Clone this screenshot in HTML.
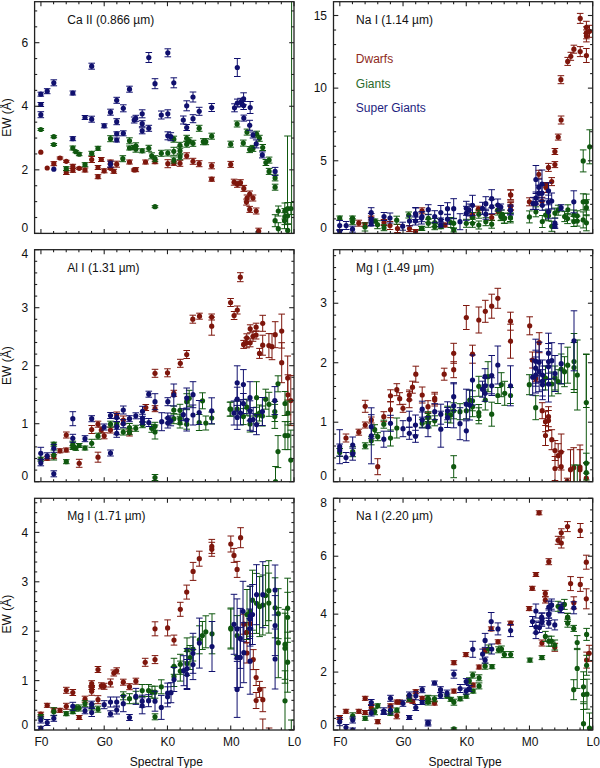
<!DOCTYPE html>
<html><head><meta charset="utf-8"><style>html,body{margin:0;padding:0;background:#fff;width:600px;height:768px;overflow:hidden}svg{display:block}text{font-family:"Liberation Sans",sans-serif}</style></head>
<body><svg width="600" height="768" viewBox="0 0 600 768" font-family="Liberation Sans, sans-serif"><clipPath id="cp0"><rect x="34.60" y="1.70" width="259.40" height="231.70"/></clipPath>
<g clip-path="url(#cp0)">
<circle cx="40.8" cy="152.2" r="2.6" fill="#7e160c"/>
<circle cx="47.2" cy="168.0" r="2.6" fill="#7e160c"/>
<path d="M53.8 161.7V165.7M50.5 161.7h6.6M50.5 165.7h6.6" stroke="#7e160c" stroke-width="1.0" fill="none"/>
<circle cx="53.8" cy="163.7" r="2.6" fill="#7e160c"/>
<path d="M60.0 157.0V159.0M56.7 157.0h6.6M56.7 159.0h6.6" stroke="#7e160c" stroke-width="1.0" fill="none"/>
<circle cx="60.0" cy="158.0" r="2.6" fill="#7e160c"/>
<path d="M66.3 160.3V162.3M63.0 160.3h6.6M63.0 162.3h6.6" stroke="#7e160c" stroke-width="1.0" fill="none"/>
<circle cx="66.3" cy="161.3" r="2.6" fill="#7e160c"/>
<path d="M66.3 170.5V174.5M63.0 170.5h6.6M63.0 174.5h6.6" stroke="#7e160c" stroke-width="1.0" fill="none"/>
<circle cx="66.3" cy="172.5" r="2.6" fill="#7e160c"/>
<path d="M72.8 164.3V168.3M69.5 164.3h6.6M69.5 168.3h6.6" stroke="#7e160c" stroke-width="1.0" fill="none"/>
<circle cx="72.8" cy="166.3" r="2.6" fill="#7e160c"/>
<path d="M72.8 168.3V172.3M69.5 168.3h6.6M69.5 172.3h6.6" stroke="#7e160c" stroke-width="1.0" fill="none"/>
<circle cx="72.8" cy="170.3" r="2.6" fill="#7e160c"/>
<path d="M79.2 167.3V169.3M75.9 167.3h6.6M75.9 169.3h6.6" stroke="#7e160c" stroke-width="1.0" fill="none"/>
<circle cx="79.2" cy="168.3" r="2.6" fill="#7e160c"/>
<path d="M85.0 168.0V172.0M81.7 168.0h6.6M81.7 172.0h6.6" stroke="#7e160c" stroke-width="1.0" fill="none"/>
<circle cx="85.0" cy="170.0" r="2.6" fill="#7e160c"/>
<path d="M91.7 156.5V162.5M88.4 156.5h6.6M88.4 162.5h6.6" stroke="#7e160c" stroke-width="1.0" fill="none"/>
<circle cx="91.7" cy="159.5" r="2.6" fill="#7e160c"/>
<path d="M98.0 165.5V169.5M94.7 165.5h6.6M94.7 169.5h6.6" stroke="#7e160c" stroke-width="1.0" fill="none"/>
<circle cx="98.0" cy="167.5" r="2.6" fill="#7e160c"/>
<path d="M98.0 174.7V178.7M94.7 174.7h6.6M94.7 178.7h6.6" stroke="#7e160c" stroke-width="1.0" fill="none"/>
<circle cx="98.0" cy="176.7" r="2.6" fill="#7e160c"/>
<path d="M104.2 168.8V172.8M100.9 168.8h6.6M100.9 172.8h6.6" stroke="#7e160c" stroke-width="1.0" fill="none"/>
<circle cx="104.2" cy="170.8" r="2.6" fill="#7e160c"/>
<path d="M101.3 157.5V161.5M98.0 157.5h6.6M98.0 161.5h6.6" stroke="#7e160c" stroke-width="1.0" fill="none"/>
<circle cx="101.3" cy="159.5" r="2.6" fill="#7e160c"/>
<path d="M110.5 160.0V164.0M107.2 160.0h6.6M107.2 164.0h6.6" stroke="#7e160c" stroke-width="1.0" fill="none"/>
<circle cx="110.5" cy="162.0" r="2.6" fill="#7e160c"/>
<path d="M110.5 167.3V169.3M107.2 167.3h6.6M107.2 169.3h6.6" stroke="#7e160c" stroke-width="1.0" fill="none"/>
<circle cx="110.5" cy="168.3" r="2.6" fill="#7e160c"/>
<path d="M116.7 161.2V167.2M113.4 161.2h6.6M113.4 167.2h6.6" stroke="#7e160c" stroke-width="1.0" fill="none"/>
<circle cx="116.7" cy="164.2" r="2.6" fill="#7e160c"/>
<path d="M113.8 169.3V173.3M110.5 169.3h6.6M110.5 173.3h6.6" stroke="#7e160c" stroke-width="1.0" fill="none"/>
<circle cx="113.8" cy="171.3" r="2.6" fill="#7e160c"/>
<path d="M129.5 160.0V164.0M126.2 160.0h6.6M126.2 164.0h6.6" stroke="#7e160c" stroke-width="1.0" fill="none"/>
<circle cx="129.5" cy="162.0" r="2.6" fill="#7e160c"/>
<path d="M134.2 169.0V171.0M130.9 169.0h6.6M130.9 171.0h6.6" stroke="#7e160c" stroke-width="1.0" fill="none"/>
<circle cx="134.2" cy="170.0" r="2.6" fill="#7e160c"/>
<path d="M135.8 167.7V171.7M132.5 167.7h6.6M132.5 171.7h6.6" stroke="#7e160c" stroke-width="1.0" fill="none"/>
<circle cx="135.8" cy="169.7" r="2.6" fill="#7e160c"/>
<path d="M145.5 160.0V164.0M142.2 160.0h6.6M142.2 164.0h6.6" stroke="#7e160c" stroke-width="1.0" fill="none"/>
<circle cx="145.5" cy="162.0" r="2.6" fill="#7e160c"/>
<path d="M155.0 159.7V163.7M151.7 159.7h6.6M151.7 163.7h6.6" stroke="#7e160c" stroke-width="1.0" fill="none"/>
<circle cx="155.0" cy="161.7" r="2.6" fill="#7e160c"/>
<path d="M167.8 159.7V167.7M164.5 159.7h6.6M164.5 167.7h6.6" stroke="#7e160c" stroke-width="1.0" fill="none"/>
<circle cx="167.8" cy="163.7" r="2.6" fill="#7e160c"/>
<path d="M173.8 161.3V165.3M170.5 161.3h6.6M170.5 165.3h6.6" stroke="#7e160c" stroke-width="1.0" fill="none"/>
<circle cx="173.8" cy="163.3" r="2.6" fill="#7e160c"/>
<path d="M180.0 160.3V166.3M176.7 160.3h6.6M176.7 166.3h6.6" stroke="#7e160c" stroke-width="1.0" fill="none"/>
<circle cx="180.0" cy="163.3" r="2.6" fill="#7e160c"/>
<path d="M186.7 152.8V158.8M183.4 152.8h6.6M183.4 158.8h6.6" stroke="#7e160c" stroke-width="1.0" fill="none"/>
<circle cx="186.7" cy="155.8" r="2.6" fill="#7e160c"/>
<path d="M193.0 158.3V164.3M189.7 158.3h6.6M189.7 164.3h6.6" stroke="#7e160c" stroke-width="1.0" fill="none"/>
<circle cx="193.0" cy="161.3" r="2.6" fill="#7e160c"/>
<path d="M199.2 160.7V166.7M195.9 160.7h6.6M195.9 166.7h6.6" stroke="#7e160c" stroke-width="1.0" fill="none"/>
<circle cx="199.2" cy="163.7" r="2.6" fill="#7e160c"/>
<path d="M211.7 162.8V168.8M208.4 162.8h6.6M208.4 168.8h6.6" stroke="#7e160c" stroke-width="1.0" fill="none"/>
<circle cx="211.7" cy="165.8" r="2.6" fill="#7e160c"/>
<path d="M211.7 177.2V181.2M208.4 177.2h6.6M208.4 181.2h6.6" stroke="#7e160c" stroke-width="1.0" fill="none"/>
<circle cx="211.7" cy="179.2" r="2.6" fill="#7e160c"/>
<path d="M230.7 161.4V167.4M227.4 161.4h6.6M227.4 167.4h6.6" stroke="#7e160c" stroke-width="1.0" fill="none"/>
<circle cx="230.7" cy="164.4" r="2.6" fill="#7e160c"/>
<path d="M234.1 179.2V185.2M230.8 179.2h6.6M230.8 185.2h6.6" stroke="#7e160c" stroke-width="1.0" fill="none"/>
<circle cx="234.1" cy="182.2" r="2.6" fill="#7e160c"/>
<path d="M237.3 181.3V187.3M234.0 181.3h6.6M234.0 187.3h6.6" stroke="#7e160c" stroke-width="1.0" fill="none"/>
<circle cx="237.3" cy="184.3" r="2.6" fill="#7e160c"/>
<path d="M240.5 179.7V185.7M237.2 179.7h6.6M237.2 185.7h6.6" stroke="#7e160c" stroke-width="1.0" fill="none"/>
<circle cx="240.5" cy="182.7" r="2.6" fill="#7e160c"/>
<path d="M243.8 185.4V191.4M240.5 185.4h6.6M240.5 191.4h6.6" stroke="#7e160c" stroke-width="1.0" fill="none"/>
<circle cx="243.8" cy="188.4" r="2.6" fill="#7e160c"/>
<path d="M249.7 191.0V197.0M246.4 191.0h6.6M246.4 197.0h6.6" stroke="#7e160c" stroke-width="1.0" fill="none"/>
<circle cx="249.7" cy="194.0" r="2.6" fill="#7e160c"/>
<path d="M247.0 195.0V201.0M243.7 195.0h6.6M243.7 201.0h6.6" stroke="#7e160c" stroke-width="1.0" fill="none"/>
<circle cx="247.0" cy="198.0" r="2.6" fill="#7e160c"/>
<path d="M253.0 195.0V201.0M249.7 195.0h6.6M249.7 201.0h6.6" stroke="#7e160c" stroke-width="1.0" fill="none"/>
<circle cx="253.0" cy="198.0" r="2.6" fill="#7e160c"/>
<path d="M246.5 199.1V205.1M243.2 199.1h6.6M243.2 205.1h6.6" stroke="#7e160c" stroke-width="1.0" fill="none"/>
<circle cx="246.5" cy="202.1" r="2.6" fill="#7e160c"/>
<path d="M249.7 206.4V212.4M246.4 206.4h6.6M246.4 212.4h6.6" stroke="#7e160c" stroke-width="1.0" fill="none"/>
<circle cx="249.7" cy="209.4" r="2.6" fill="#7e160c"/>
<path d="M256.2 208.0V214.0M252.9 208.0h6.6M252.9 214.0h6.6" stroke="#7e160c" stroke-width="1.0" fill="none"/>
<circle cx="256.2" cy="211.0" r="2.6" fill="#7e160c"/>
<path d="M258.6 228.2V234.2M255.3 228.2h6.6M255.3 234.2h6.6" stroke="#7e160c" stroke-width="1.0" fill="none"/>
<circle cx="258.6" cy="231.2" r="2.6" fill="#7e160c"/>
<path d="M40.8 128.5V130.5M37.5 128.5h6.6M37.5 130.5h6.6" stroke="#0f580f" stroke-width="1.0" fill="none"/>
<circle cx="40.8" cy="129.5" r="2.6" fill="#0f580f"/>
<path d="M53.8 135.7V137.7M50.5 135.7h6.6M50.5 137.7h6.6" stroke="#0f580f" stroke-width="1.0" fill="none"/>
<circle cx="53.8" cy="136.7" r="2.6" fill="#0f580f"/>
<path d="M53.8 143.5V145.5M50.5 143.5h6.6M50.5 145.5h6.6" stroke="#0f580f" stroke-width="1.0" fill="none"/>
<circle cx="53.8" cy="144.5" r="2.6" fill="#0f580f"/>
<path d="M72.8 146.0V150.0M69.5 146.0h6.6M69.5 150.0h6.6" stroke="#0f580f" stroke-width="1.0" fill="none"/>
<circle cx="72.8" cy="148.0" r="2.6" fill="#0f580f"/>
<path d="M75.8 150.7V152.7M72.5 150.7h6.6M72.5 152.7h6.6" stroke="#0f580f" stroke-width="1.0" fill="none"/>
<circle cx="75.8" cy="151.7" r="2.6" fill="#0f580f"/>
<path d="M79.2 152.7V155.7M75.9 152.7h6.6M75.9 155.7h6.6" stroke="#0f580f" stroke-width="1.0" fill="none"/>
<circle cx="79.2" cy="154.2" r="2.6" fill="#0f580f"/>
<path d="M91.7 151.3V155.3M88.4 151.3h6.6M88.4 155.3h6.6" stroke="#0f580f" stroke-width="1.0" fill="none"/>
<circle cx="91.7" cy="153.3" r="2.6" fill="#0f580f"/>
<path d="M98.0 146.3V150.3M94.7 146.3h6.6M94.7 150.3h6.6" stroke="#0f580f" stroke-width="1.0" fill="none"/>
<circle cx="98.0" cy="148.3" r="2.6" fill="#0f580f"/>
<path d="M110.5 135.7V141.7M107.2 135.7h6.6M107.2 141.7h6.6" stroke="#0f580f" stroke-width="1.0" fill="none"/>
<circle cx="110.5" cy="138.7" r="2.6" fill="#0f580f"/>
<path d="M129.5 137.8V143.8M126.2 137.8h6.6M126.2 143.8h6.6" stroke="#0f580f" stroke-width="1.0" fill="none"/>
<circle cx="129.5" cy="140.8" r="2.6" fill="#0f580f"/>
<path d="M129.5 146.0V150.0M126.2 146.0h6.6M126.2 150.0h6.6" stroke="#0f580f" stroke-width="1.0" fill="none"/>
<circle cx="129.5" cy="148.0" r="2.6" fill="#0f580f"/>
<path d="M134.2 145.5V149.5M130.9 145.5h6.6M130.9 149.5h6.6" stroke="#0f580f" stroke-width="1.0" fill="none"/>
<circle cx="134.2" cy="147.5" r="2.6" fill="#0f580f"/>
<path d="M122.8 155.7V161.7M119.5 155.7h6.6M119.5 161.7h6.6" stroke="#0f580f" stroke-width="1.0" fill="none"/>
<circle cx="122.8" cy="158.7" r="2.6" fill="#0f580f"/>
<path d="M85.0 162.7V166.7M81.7 162.7h6.6M81.7 166.7h6.6" stroke="#0f580f" stroke-width="1.0" fill="none"/>
<circle cx="85.0" cy="164.7" r="2.6" fill="#0f580f"/>
<path d="M66.3 166.7V170.7M63.0 166.7h6.6M63.0 170.7h6.6" stroke="#0f580f" stroke-width="1.0" fill="none"/>
<circle cx="66.3" cy="168.7" r="2.6" fill="#0f580f"/>
<path d="M135.8 142.8V148.8M132.5 142.8h6.6M132.5 148.8h6.6" stroke="#0f580f" stroke-width="1.0" fill="none"/>
<circle cx="135.8" cy="145.8" r="2.6" fill="#0f580f"/>
<path d="M135.8 146.2V152.2M132.5 146.2h6.6M132.5 152.2h6.6" stroke="#0f580f" stroke-width="1.0" fill="none"/>
<circle cx="135.8" cy="149.2" r="2.6" fill="#0f580f"/>
<path d="M142.2 148.8V152.8M138.9 148.8h6.6M138.9 152.8h6.6" stroke="#0f580f" stroke-width="1.0" fill="none"/>
<circle cx="142.2" cy="150.8" r="2.6" fill="#0f580f"/>
<path d="M148.8 145.3V151.3M145.5 145.3h6.6M145.5 151.3h6.6" stroke="#0f580f" stroke-width="1.0" fill="none"/>
<circle cx="148.8" cy="148.3" r="2.6" fill="#0f580f"/>
<path d="M151.7 152.8V158.8M148.4 152.8h6.6M148.4 158.8h6.6" stroke="#0f580f" stroke-width="1.0" fill="none"/>
<circle cx="151.7" cy="155.8" r="2.6" fill="#0f580f"/>
<path d="M155.0 155.7V161.7M151.7 155.7h6.6M151.7 161.7h6.6" stroke="#0f580f" stroke-width="1.0" fill="none"/>
<circle cx="155.0" cy="158.7" r="2.6" fill="#0f580f"/>
<path d="M161.3 150.3V156.3M158.0 150.3h6.6M158.0 156.3h6.6" stroke="#0f580f" stroke-width="1.0" fill="none"/>
<circle cx="161.3" cy="153.3" r="2.6" fill="#0f580f"/>
<path d="M167.8 150.0V156.0M164.5 150.0h6.6M164.5 156.0h6.6" stroke="#0f580f" stroke-width="1.0" fill="none"/>
<circle cx="167.8" cy="153.0" r="2.6" fill="#0f580f"/>
<path d="M173.8 147.3V155.3M170.5 147.3h6.6M170.5 155.3h6.6" stroke="#0f580f" stroke-width="1.0" fill="none"/>
<circle cx="173.8" cy="151.3" r="2.6" fill="#0f580f"/>
<path d="M173.8 136.2V142.2M170.5 136.2h6.6M170.5 142.2h6.6" stroke="#0f580f" stroke-width="1.0" fill="none"/>
<circle cx="173.8" cy="139.2" r="2.6" fill="#0f580f"/>
<path d="M173.8 157.0V163.0M170.5 157.0h6.6M170.5 163.0h6.6" stroke="#0f580f" stroke-width="1.0" fill="none"/>
<circle cx="173.8" cy="160.0" r="2.6" fill="#0f580f"/>
<path d="M180.0 142.3V148.3M176.7 142.3h6.6M176.7 148.3h6.6" stroke="#0f580f" stroke-width="1.0" fill="none"/>
<circle cx="180.0" cy="145.3" r="2.6" fill="#0f580f"/>
<path d="M180.0 146.8V154.8M176.7 146.8h6.6M176.7 154.8h6.6" stroke="#0f580f" stroke-width="1.0" fill="none"/>
<circle cx="180.0" cy="150.8" r="2.6" fill="#0f580f"/>
<path d="M180.0 153.7V159.7M176.7 153.7h6.6M176.7 159.7h6.6" stroke="#0f580f" stroke-width="1.0" fill="none"/>
<circle cx="180.0" cy="156.7" r="2.6" fill="#0f580f"/>
<path d="M186.7 135.3V141.3M183.4 135.3h6.6M183.4 141.3h6.6" stroke="#0f580f" stroke-width="1.0" fill="none"/>
<circle cx="186.7" cy="138.3" r="2.6" fill="#0f580f"/>
<path d="M186.7 141.2V147.2M183.4 141.2h6.6M183.4 147.2h6.6" stroke="#0f580f" stroke-width="1.0" fill="none"/>
<circle cx="186.7" cy="144.2" r="2.6" fill="#0f580f"/>
<path d="M189.2 137.8V143.8M185.9 137.8h6.6M185.9 143.8h6.6" stroke="#0f580f" stroke-width="1.0" fill="none"/>
<circle cx="189.2" cy="140.8" r="2.6" fill="#0f580f"/>
<path d="M193.0 140.3V146.3M189.7 140.3h6.6M189.7 146.3h6.6" stroke="#0f580f" stroke-width="1.0" fill="none"/>
<circle cx="193.0" cy="143.3" r="2.6" fill="#0f580f"/>
<path d="M199.2 125.3V131.3M195.9 125.3h6.6M195.9 131.3h6.6" stroke="#0f580f" stroke-width="1.0" fill="none"/>
<circle cx="199.2" cy="128.3" r="2.6" fill="#0f580f"/>
<path d="M203.3 138.7V144.7M200.0 138.7h6.6M200.0 144.7h6.6" stroke="#0f580f" stroke-width="1.0" fill="none"/>
<circle cx="203.3" cy="141.7" r="2.6" fill="#0f580f"/>
<path d="M205.8 138.7V144.7M202.5 138.7h6.6M202.5 144.7h6.6" stroke="#0f580f" stroke-width="1.0" fill="none"/>
<circle cx="205.8" cy="141.7" r="2.6" fill="#0f580f"/>
<path d="M211.7 133.2V139.2M208.4 133.2h6.6M208.4 139.2h6.6" stroke="#0f580f" stroke-width="1.0" fill="none"/>
<circle cx="211.7" cy="136.2" r="2.6" fill="#0f580f"/>
<path d="M155.0 205.7V207.7M151.7 205.7h6.6M151.7 207.7h6.6" stroke="#0f580f" stroke-width="1.0" fill="none"/>
<circle cx="155.0" cy="206.7" r="2.6" fill="#0f580f"/>
<path d="M237.1 121.0V127.0M233.8 121.0h6.6M233.8 127.0h6.6" stroke="#0f580f" stroke-width="1.0" fill="none"/>
<circle cx="237.1" cy="124.0" r="2.6" fill="#0f580f"/>
<path d="M247.0 129.1V135.1M243.7 129.1h6.6M243.7 135.1h6.6" stroke="#0f580f" stroke-width="1.0" fill="none"/>
<circle cx="247.0" cy="132.1" r="2.6" fill="#0f580f"/>
<path d="M256.7 131.2V137.2M253.4 131.2h6.6M253.4 137.2h6.6" stroke="#0f580f" stroke-width="1.0" fill="none"/>
<circle cx="256.7" cy="134.2" r="2.6" fill="#0f580f"/>
<path d="M259.4 135.3V141.3M256.1 135.3h6.6M256.1 141.3h6.6" stroke="#0f580f" stroke-width="1.0" fill="none"/>
<circle cx="259.4" cy="138.3" r="2.6" fill="#0f580f"/>
<path d="M230.7 141.2V147.2M227.4 141.2h6.6M227.4 147.2h6.6" stroke="#0f580f" stroke-width="1.0" fill="none"/>
<circle cx="230.7" cy="144.2" r="2.6" fill="#0f580f"/>
<path d="M243.3 140.1V146.1M240.0 140.1h6.6M240.0 146.1h6.6" stroke="#0f580f" stroke-width="1.0" fill="none"/>
<circle cx="243.3" cy="143.1" r="2.6" fill="#0f580f"/>
<path d="M249.7 146.6V152.6M246.4 146.6h6.6M246.4 152.6h6.6" stroke="#0f580f" stroke-width="1.0" fill="none"/>
<circle cx="249.7" cy="149.6" r="2.6" fill="#0f580f"/>
<path d="M253.0 145.4V151.4M249.7 145.4h6.6M249.7 151.4h6.6" stroke="#0f580f" stroke-width="1.0" fill="none"/>
<circle cx="253.0" cy="148.4" r="2.6" fill="#0f580f"/>
<path d="M262.7 144.5V150.5M259.4 144.5h6.6M259.4 150.5h6.6" stroke="#0f580f" stroke-width="1.0" fill="none"/>
<circle cx="262.7" cy="147.5" r="2.6" fill="#0f580f"/>
<path d="M265.9 159.5V165.5M262.6 159.5h6.6M262.6 165.5h6.6" stroke="#0f580f" stroke-width="1.0" fill="none"/>
<circle cx="265.9" cy="162.5" r="2.6" fill="#0f580f"/>
<path d="M269.1 157.1V163.1M265.8 157.1h6.6M265.8 163.1h6.6" stroke="#0f580f" stroke-width="1.0" fill="none"/>
<circle cx="269.1" cy="160.1" r="2.6" fill="#0f580f"/>
<path d="M269.1 168.4V174.4M265.8 168.4h6.6M265.8 174.4h6.6" stroke="#0f580f" stroke-width="1.0" fill="none"/>
<circle cx="269.1" cy="171.4" r="2.6" fill="#0f580f"/>
<path d="M275.1 174.9V180.9M271.8 174.9h6.6M271.8 180.9h6.6" stroke="#0f580f" stroke-width="1.0" fill="none"/>
<circle cx="275.1" cy="177.9" r="2.6" fill="#0f580f"/>
<path d="M275.1 184.2V190.2M271.8 184.2h6.6M271.8 190.2h6.6" stroke="#0f580f" stroke-width="1.0" fill="none"/>
<circle cx="275.1" cy="187.2" r="2.6" fill="#0f580f"/>
<path d="M278.3 206.0V216.0M275.0 206.0h6.6M275.0 216.0h6.6" stroke="#0f580f" stroke-width="1.0" fill="none"/>
<circle cx="278.3" cy="211.0" r="2.6" fill="#0f580f"/>
<path d="M275.1 214.7V226.7M271.8 214.7h6.6M271.8 226.7h6.6" stroke="#0f580f" stroke-width="1.0" fill="none"/>
<circle cx="275.1" cy="220.7" r="2.6" fill="#0f580f"/>
<path d="M278.3 222.7V234.7M275.0 222.7h6.6M275.0 234.7h6.6" stroke="#0f580f" stroke-width="1.0" fill="none"/>
<circle cx="278.3" cy="228.7" r="2.6" fill="#0f580f"/>
<path d="M284.8 203.0V219.0M281.5 203.0h6.6M281.5 219.0h6.6" stroke="#0f580f" stroke-width="1.0" fill="none"/>
<circle cx="284.8" cy="211.0" r="2.6" fill="#0f580f"/>
<path d="M284.8 208.6V224.6M281.5 208.6h6.6M281.5 224.6h6.6" stroke="#0f580f" stroke-width="1.0" fill="none"/>
<circle cx="284.8" cy="216.6" r="2.6" fill="#0f580f"/>
<path d="M287.7 202.5V214.5M284.4 202.5h6.6M284.4 214.5h6.6" stroke="#0f580f" stroke-width="1.0" fill="none"/>
<circle cx="287.7" cy="208.5" r="2.6" fill="#0f580f"/>
<path d="M290.9 202.5V214.5M287.6 202.5h6.6M287.6 214.5h6.6" stroke="#0f580f" stroke-width="1.0" fill="none"/>
<circle cx="290.9" cy="208.5" r="2.6" fill="#0f580f"/>
<path d="M287.7 207.8V223.8M284.4 207.8h6.6M284.4 223.8h6.6" stroke="#0f580f" stroke-width="1.0" fill="none"/>
<circle cx="287.7" cy="215.8" r="2.6" fill="#0f580f"/>
<path d="M284.5 212.7V228.7M281.2 212.7h6.6M281.2 228.7h6.6" stroke="#0f580f" stroke-width="1.0" fill="none"/>
<circle cx="284.5" cy="220.7" r="2.6" fill="#0f580f"/>
<path d="M287.7 224.4V236.4M284.4 224.4h6.6M284.4 236.4h6.6" stroke="#0f580f" stroke-width="1.0" fill="none"/>
<circle cx="287.7" cy="230.4" r="2.6" fill="#0f580f"/>
<path d="M287.5 136.0V245.0M284.2 136.0h6.6M284.2 245.0h6.6" stroke="#0f580f" stroke-width="1.0" fill="none"/>
<path d="M291.6 -5.0V245.0M288.3 -5.0h6.6M288.3 245.0h6.6" stroke="#0f580f" stroke-width="1.0" fill="none"/>
<path d="M91.7 63.2V69.2M88.4 63.2h6.6M88.4 69.2h6.6" stroke="#10106e" stroke-width="1.0" fill="none"/>
<circle cx="91.7" cy="66.2" r="2.6" fill="#10106e"/>
<path d="M53.8 79.8V85.8M50.5 79.8h6.6M50.5 85.8h6.6" stroke="#10106e" stroke-width="1.0" fill="none"/>
<circle cx="53.8" cy="82.8" r="2.6" fill="#10106e"/>
<path d="M47.2 88.7V93.7M43.9 88.7h6.6M43.9 93.7h6.6" stroke="#10106e" stroke-width="1.0" fill="none"/>
<circle cx="47.2" cy="91.2" r="2.6" fill="#10106e"/>
<path d="M40.8 92.2V96.2M37.5 92.2h6.6M37.5 96.2h6.6" stroke="#10106e" stroke-width="1.0" fill="none"/>
<circle cx="40.8" cy="94.2" r="2.6" fill="#10106e"/>
<path d="M72.8 91.0V95.0M69.5 91.0h6.6M69.5 95.0h6.6" stroke="#10106e" stroke-width="1.0" fill="none"/>
<circle cx="72.8" cy="93.0" r="2.6" fill="#10106e"/>
<path d="M129.5 86.2V92.2M126.2 86.2h6.6M126.2 92.2h6.6" stroke="#10106e" stroke-width="1.0" fill="none"/>
<circle cx="129.5" cy="89.2" r="2.6" fill="#10106e"/>
<path d="M40.8 102.5V106.5M37.5 102.5h6.6M37.5 106.5h6.6" stroke="#10106e" stroke-width="1.0" fill="none"/>
<circle cx="40.8" cy="104.5" r="2.6" fill="#10106e"/>
<path d="M40.8 111.7V117.7M37.5 111.7h6.6M37.5 117.7h6.6" stroke="#10106e" stroke-width="1.0" fill="none"/>
<circle cx="40.8" cy="114.7" r="2.6" fill="#10106e"/>
<path d="M116.7 97.3V103.3M113.4 97.3h6.6M113.4 103.3h6.6" stroke="#10106e" stroke-width="1.0" fill="none"/>
<circle cx="116.7" cy="100.3" r="2.6" fill="#10106e"/>
<path d="M123.3 104.8V111.8M120.0 104.8h6.6M120.0 111.8h6.6" stroke="#10106e" stroke-width="1.0" fill="none"/>
<circle cx="123.3" cy="108.3" r="2.6" fill="#10106e"/>
<path d="M110.5 109.2V115.2M107.2 109.2h6.6M107.2 115.2h6.6" stroke="#10106e" stroke-width="1.0" fill="none"/>
<circle cx="110.5" cy="112.2" r="2.6" fill="#10106e"/>
<path d="M85.0 115.5V119.5M81.7 115.5h6.6M81.7 119.5h6.6" stroke="#10106e" stroke-width="1.0" fill="none"/>
<circle cx="85.0" cy="117.5" r="2.6" fill="#10106e"/>
<path d="M91.7 116.2V122.2M88.4 116.2h6.6M88.4 122.2h6.6" stroke="#10106e" stroke-width="1.0" fill="none"/>
<circle cx="91.7" cy="119.2" r="2.6" fill="#10106e"/>
<path d="M116.7 118.7V124.7M113.4 118.7h6.6M113.4 124.7h6.6" stroke="#10106e" stroke-width="1.0" fill="none"/>
<circle cx="116.7" cy="121.7" r="2.6" fill="#10106e"/>
<path d="M104.2 123.8V127.8M100.9 123.8h6.6M100.9 127.8h6.6" stroke="#10106e" stroke-width="1.0" fill="none"/>
<circle cx="104.2" cy="125.8" r="2.6" fill="#10106e"/>
<path d="M72.8 136.7V140.7M69.5 136.7h6.6M69.5 140.7h6.6" stroke="#10106e" stroke-width="1.0" fill="none"/>
<circle cx="72.8" cy="138.7" r="2.6" fill="#10106e"/>
<path d="M116.7 131.8V135.8M113.4 131.8h6.6M113.4 135.8h6.6" stroke="#10106e" stroke-width="1.0" fill="none"/>
<circle cx="116.7" cy="133.8" r="2.6" fill="#10106e"/>
<path d="M116.7 138.0V142.0M113.4 138.0h6.6M113.4 142.0h6.6" stroke="#10106e" stroke-width="1.0" fill="none"/>
<circle cx="116.7" cy="140.0" r="2.6" fill="#10106e"/>
<path d="M123.3 130.8V135.8M120.0 130.8h6.6M120.0 135.8h6.6" stroke="#10106e" stroke-width="1.0" fill="none"/>
<circle cx="123.3" cy="133.3" r="2.6" fill="#10106e"/>
<path d="M134.2 117.0V123.0M130.9 117.0h6.6M130.9 123.0h6.6" stroke="#10106e" stroke-width="1.0" fill="none"/>
<circle cx="134.2" cy="120.0" r="2.6" fill="#10106e"/>
<path d="M110.5 161.2V167.2M107.2 161.2h6.6M107.2 167.2h6.6" stroke="#10106e" stroke-width="1.0" fill="none"/>
<circle cx="110.5" cy="164.2" r="2.6" fill="#10106e"/>
<circle cx="53.8" cy="169.2" r="2.6" fill="#10106e"/>
<path d="M148.8 52.5V62.5M145.5 52.5h6.6M145.5 62.5h6.6" stroke="#10106e" stroke-width="1.0" fill="none"/>
<circle cx="148.8" cy="57.5" r="2.6" fill="#10106e"/>
<path d="M167.8 48.8V56.8M164.5 48.8h6.6M164.5 56.8h6.6" stroke="#10106e" stroke-width="1.0" fill="none"/>
<circle cx="167.8" cy="52.8" r="2.6" fill="#10106e"/>
<path d="M155.0 78.7V88.7M151.7 78.7h6.6M151.7 88.7h6.6" stroke="#10106e" stroke-width="1.0" fill="none"/>
<circle cx="155.0" cy="83.7" r="2.6" fill="#10106e"/>
<path d="M173.8 77.8V87.8M170.5 77.8h6.6M170.5 87.8h6.6" stroke="#10106e" stroke-width="1.0" fill="none"/>
<circle cx="173.8" cy="82.8" r="2.6" fill="#10106e"/>
<path d="M193.0 92.0V102.0M189.7 92.0h6.6M189.7 102.0h6.6" stroke="#10106e" stroke-width="1.0" fill="none"/>
<circle cx="193.0" cy="97.0" r="2.6" fill="#10106e"/>
<path d="M186.7 100.8V110.8M183.4 100.8h6.6M183.4 110.8h6.6" stroke="#10106e" stroke-width="1.0" fill="none"/>
<circle cx="186.7" cy="105.8" r="2.6" fill="#10106e"/>
<path d="M199.2 107.3V115.3M195.9 107.3h6.6M195.9 115.3h6.6" stroke="#10106e" stroke-width="1.0" fill="none"/>
<circle cx="199.2" cy="111.3" r="2.6" fill="#10106e"/>
<path d="M211.7 103.5V111.5M208.4 103.5h6.6M208.4 111.5h6.6" stroke="#10106e" stroke-width="1.0" fill="none"/>
<circle cx="211.7" cy="107.5" r="2.6" fill="#10106e"/>
<path d="M142.2 109.8V117.8M138.9 109.8h6.6M138.9 117.8h6.6" stroke="#10106e" stroke-width="1.0" fill="none"/>
<circle cx="142.2" cy="113.8" r="2.6" fill="#10106e"/>
<path d="M135.8 115.3V121.3M132.5 115.3h6.6M132.5 121.3h6.6" stroke="#10106e" stroke-width="1.0" fill="none"/>
<circle cx="135.8" cy="118.3" r="2.6" fill="#10106e"/>
<path d="M161.3 111.0V119.0M158.0 111.0h6.6M158.0 119.0h6.6" stroke="#10106e" stroke-width="1.0" fill="none"/>
<circle cx="161.3" cy="115.0" r="2.6" fill="#10106e"/>
<path d="M167.8 109.8V117.8M164.5 109.8h6.6M164.5 117.8h6.6" stroke="#10106e" stroke-width="1.0" fill="none"/>
<circle cx="167.8" cy="113.8" r="2.6" fill="#10106e"/>
<path d="M183.3 116.0V124.0M180.0 116.0h6.6M180.0 124.0h6.6" stroke="#10106e" stroke-width="1.0" fill="none"/>
<circle cx="183.3" cy="120.0" r="2.6" fill="#10106e"/>
<path d="M193.0 114.7V122.7M189.7 114.7h6.6M189.7 122.7h6.6" stroke="#10106e" stroke-width="1.0" fill="none"/>
<circle cx="193.0" cy="118.7" r="2.6" fill="#10106e"/>
<path d="M142.2 120.7V126.7M138.9 120.7h6.6M138.9 126.7h6.6" stroke="#10106e" stroke-width="1.0" fill="none"/>
<circle cx="142.2" cy="123.7" r="2.6" fill="#10106e"/>
<path d="M142.2 127.8V133.8M138.9 127.8h6.6M138.9 133.8h6.6" stroke="#10106e" stroke-width="1.0" fill="none"/>
<circle cx="142.2" cy="130.8" r="2.6" fill="#10106e"/>
<path d="M148.8 125.3V131.3M145.5 125.3h6.6M145.5 131.3h6.6" stroke="#10106e" stroke-width="1.0" fill="none"/>
<circle cx="148.8" cy="128.3" r="2.6" fill="#10106e"/>
<path d="M167.8 131.8V139.8M164.5 131.8h6.6M164.5 139.8h6.6" stroke="#10106e" stroke-width="1.0" fill="none"/>
<circle cx="167.8" cy="135.8" r="2.6" fill="#10106e"/>
<path d="M170.8 132.7V140.7M167.5 132.7h6.6M167.5 140.7h6.6" stroke="#10106e" stroke-width="1.0" fill="none"/>
<circle cx="170.8" cy="136.7" r="2.6" fill="#10106e"/>
<path d="M186.7 124.5V130.5M183.4 124.5h6.6M183.4 130.5h6.6" stroke="#10106e" stroke-width="1.0" fill="none"/>
<circle cx="186.7" cy="127.5" r="2.6" fill="#10106e"/>
<path d="M237.3 58.5V76.5M234.0 58.5h6.6M234.0 76.5h6.6" stroke="#10106e" stroke-width="1.0" fill="none"/>
<circle cx="237.3" cy="67.5" r="2.6" fill="#10106e"/>
<path d="M243.6 92.8V104.8M240.3 92.8h6.6M240.3 104.8h6.6" stroke="#10106e" stroke-width="1.0" fill="none"/>
<circle cx="243.6" cy="98.8" r="2.6" fill="#10106e"/>
<path d="M240.5 98.3V106.3M237.2 98.3h6.6M237.2 106.3h6.6" stroke="#10106e" stroke-width="1.0" fill="none"/>
<circle cx="240.5" cy="102.3" r="2.6" fill="#10106e"/>
<path d="M237.3 99.1V107.1M234.0 99.1h6.6M234.0 107.1h6.6" stroke="#10106e" stroke-width="1.0" fill="none"/>
<circle cx="237.3" cy="103.1" r="2.6" fill="#10106e"/>
<path d="M234.5 103.8V111.8M231.2 103.8h6.6M231.2 111.8h6.6" stroke="#10106e" stroke-width="1.0" fill="none"/>
<circle cx="234.5" cy="107.8" r="2.6" fill="#10106e"/>
<path d="M243.6 101.5V109.5M240.3 101.5h6.6M240.3 109.5h6.6" stroke="#10106e" stroke-width="1.0" fill="none"/>
<circle cx="243.6" cy="105.5" r="2.6" fill="#10106e"/>
<path d="M250.2 101.5V113.5M246.9 101.5h6.6M246.9 113.5h6.6" stroke="#10106e" stroke-width="1.0" fill="none"/>
<circle cx="250.2" cy="107.5" r="2.6" fill="#10106e"/>
<path d="M243.8 115.1V121.1M240.5 115.1h6.6M240.5 121.1h6.6" stroke="#10106e" stroke-width="1.0" fill="none"/>
<circle cx="243.8" cy="118.1" r="2.6" fill="#10106e"/>
<path d="M249.7 120.3V130.3M246.4 120.3h6.6M246.4 130.3h6.6" stroke="#10106e" stroke-width="1.0" fill="none"/>
<circle cx="249.7" cy="125.3" r="2.6" fill="#10106e"/>
<path d="M253.0 132.0V138.0M249.7 132.0h6.6M249.7 138.0h6.6" stroke="#10106e" stroke-width="1.0" fill="none"/>
<circle cx="253.0" cy="135.0" r="2.6" fill="#10106e"/>
<path d="M256.2 139.9V147.9M252.9 139.9h6.6M252.9 147.9h6.6" stroke="#10106e" stroke-width="1.0" fill="none"/>
<circle cx="256.2" cy="143.9" r="2.6" fill="#10106e"/>
<path d="M262.3 151.9V157.9M259.0 151.9h6.6M259.0 157.9h6.6" stroke="#10106e" stroke-width="1.0" fill="none"/>
<circle cx="262.3" cy="154.9" r="2.6" fill="#10106e"/>
<path d="M275.1 167.4V175.4M271.8 167.4h6.6M271.8 175.4h6.6" stroke="#10106e" stroke-width="1.0" fill="none"/>
<circle cx="275.1" cy="171.4" r="2.6" fill="#10106e"/>
</g>
<rect x="34.60" y="1.70" width="259.40" height="231.70" fill="none" stroke="#222" stroke-width="1.3"/>
<line x1="40.93" y1="233.40" x2="40.93" y2="228.90" stroke="#222" stroke-width="1.1"/>
<line x1="40.93" y1="1.70" x2="40.93" y2="6.20" stroke="#222" stroke-width="1.1"/>
<line x1="53.58" y1="233.40" x2="53.58" y2="230.90" stroke="#222" stroke-width="1.1"/>
<line x1="53.58" y1="1.70" x2="53.58" y2="4.20" stroke="#222" stroke-width="1.1"/>
<line x1="66.23" y1="233.40" x2="66.23" y2="230.90" stroke="#222" stroke-width="1.1"/>
<line x1="66.23" y1="1.70" x2="66.23" y2="4.20" stroke="#222" stroke-width="1.1"/>
<line x1="78.89" y1="233.40" x2="78.89" y2="230.90" stroke="#222" stroke-width="1.1"/>
<line x1="78.89" y1="1.70" x2="78.89" y2="4.20" stroke="#222" stroke-width="1.1"/>
<line x1="91.54" y1="233.40" x2="91.54" y2="230.90" stroke="#222" stroke-width="1.1"/>
<line x1="91.54" y1="1.70" x2="91.54" y2="4.20" stroke="#222" stroke-width="1.1"/>
<line x1="104.20" y1="233.40" x2="104.20" y2="228.90" stroke="#222" stroke-width="1.1"/>
<line x1="104.20" y1="1.70" x2="104.20" y2="6.20" stroke="#222" stroke-width="1.1"/>
<line x1="116.85" y1="233.40" x2="116.85" y2="230.90" stroke="#222" stroke-width="1.1"/>
<line x1="116.85" y1="1.70" x2="116.85" y2="4.20" stroke="#222" stroke-width="1.1"/>
<line x1="129.50" y1="233.40" x2="129.50" y2="230.90" stroke="#222" stroke-width="1.1"/>
<line x1="129.50" y1="1.70" x2="129.50" y2="4.20" stroke="#222" stroke-width="1.1"/>
<line x1="142.16" y1="233.40" x2="142.16" y2="230.90" stroke="#222" stroke-width="1.1"/>
<line x1="142.16" y1="1.70" x2="142.16" y2="4.20" stroke="#222" stroke-width="1.1"/>
<line x1="154.81" y1="233.40" x2="154.81" y2="230.90" stroke="#222" stroke-width="1.1"/>
<line x1="154.81" y1="1.70" x2="154.81" y2="4.20" stroke="#222" stroke-width="1.1"/>
<line x1="167.46" y1="233.40" x2="167.46" y2="228.90" stroke="#222" stroke-width="1.1"/>
<line x1="167.46" y1="1.70" x2="167.46" y2="6.20" stroke="#222" stroke-width="1.1"/>
<line x1="180.12" y1="233.40" x2="180.12" y2="230.90" stroke="#222" stroke-width="1.1"/>
<line x1="180.12" y1="1.70" x2="180.12" y2="4.20" stroke="#222" stroke-width="1.1"/>
<line x1="192.77" y1="233.40" x2="192.77" y2="230.90" stroke="#222" stroke-width="1.1"/>
<line x1="192.77" y1="1.70" x2="192.77" y2="4.20" stroke="#222" stroke-width="1.1"/>
<line x1="205.42" y1="233.40" x2="205.42" y2="230.90" stroke="#222" stroke-width="1.1"/>
<line x1="205.42" y1="1.70" x2="205.42" y2="4.20" stroke="#222" stroke-width="1.1"/>
<line x1="218.08" y1="233.40" x2="218.08" y2="230.90" stroke="#222" stroke-width="1.1"/>
<line x1="218.08" y1="1.70" x2="218.08" y2="4.20" stroke="#222" stroke-width="1.1"/>
<line x1="230.73" y1="233.40" x2="230.73" y2="228.90" stroke="#222" stroke-width="1.1"/>
<line x1="230.73" y1="1.70" x2="230.73" y2="6.20" stroke="#222" stroke-width="1.1"/>
<line x1="243.39" y1="233.40" x2="243.39" y2="230.90" stroke="#222" stroke-width="1.1"/>
<line x1="243.39" y1="1.70" x2="243.39" y2="4.20" stroke="#222" stroke-width="1.1"/>
<line x1="256.04" y1="233.40" x2="256.04" y2="230.90" stroke="#222" stroke-width="1.1"/>
<line x1="256.04" y1="1.70" x2="256.04" y2="4.20" stroke="#222" stroke-width="1.1"/>
<line x1="268.69" y1="233.40" x2="268.69" y2="230.90" stroke="#222" stroke-width="1.1"/>
<line x1="268.69" y1="1.70" x2="268.69" y2="4.20" stroke="#222" stroke-width="1.1"/>
<line x1="281.35" y1="233.40" x2="281.35" y2="230.90" stroke="#222" stroke-width="1.1"/>
<line x1="281.35" y1="1.70" x2="281.35" y2="4.20" stroke="#222" stroke-width="1.1"/>
<line x1="294.00" y1="233.40" x2="294.00" y2="228.90" stroke="#222" stroke-width="1.1"/>
<line x1="294.00" y1="1.70" x2="294.00" y2="6.20" stroke="#222" stroke-width="1.1"/>
<line x1="34.60" y1="233.40" x2="39.40" y2="233.40" stroke="#222" stroke-width="1.1"/>
<line x1="294.00" y1="233.40" x2="289.20" y2="233.40" stroke="#222" stroke-width="1.1"/>
<line x1="34.60" y1="217.51" x2="37.20" y2="217.51" stroke="#222" stroke-width="1.1"/>
<line x1="294.00" y1="217.51" x2="291.40" y2="217.51" stroke="#222" stroke-width="1.1"/>
<line x1="34.60" y1="201.62" x2="37.20" y2="201.62" stroke="#222" stroke-width="1.1"/>
<line x1="294.00" y1="201.62" x2="291.40" y2="201.62" stroke="#222" stroke-width="1.1"/>
<line x1="34.60" y1="185.73" x2="37.20" y2="185.73" stroke="#222" stroke-width="1.1"/>
<line x1="294.00" y1="185.73" x2="291.40" y2="185.73" stroke="#222" stroke-width="1.1"/>
<line x1="34.60" y1="169.83" x2="39.40" y2="169.83" stroke="#222" stroke-width="1.1"/>
<line x1="294.00" y1="169.83" x2="289.20" y2="169.83" stroke="#222" stroke-width="1.1"/>
<line x1="34.60" y1="153.94" x2="37.20" y2="153.94" stroke="#222" stroke-width="1.1"/>
<line x1="294.00" y1="153.94" x2="291.40" y2="153.94" stroke="#222" stroke-width="1.1"/>
<line x1="34.60" y1="138.05" x2="37.20" y2="138.05" stroke="#222" stroke-width="1.1"/>
<line x1="294.00" y1="138.05" x2="291.40" y2="138.05" stroke="#222" stroke-width="1.1"/>
<line x1="34.60" y1="122.16" x2="37.20" y2="122.16" stroke="#222" stroke-width="1.1"/>
<line x1="294.00" y1="122.16" x2="291.40" y2="122.16" stroke="#222" stroke-width="1.1"/>
<line x1="34.60" y1="106.27" x2="39.40" y2="106.27" stroke="#222" stroke-width="1.1"/>
<line x1="294.00" y1="106.27" x2="289.20" y2="106.27" stroke="#222" stroke-width="1.1"/>
<line x1="34.60" y1="90.38" x2="37.20" y2="90.38" stroke="#222" stroke-width="1.1"/>
<line x1="294.00" y1="90.38" x2="291.40" y2="90.38" stroke="#222" stroke-width="1.1"/>
<line x1="34.60" y1="74.48" x2="37.20" y2="74.48" stroke="#222" stroke-width="1.1"/>
<line x1="294.00" y1="74.48" x2="291.40" y2="74.48" stroke="#222" stroke-width="1.1"/>
<line x1="34.60" y1="58.59" x2="37.20" y2="58.59" stroke="#222" stroke-width="1.1"/>
<line x1="294.00" y1="58.59" x2="291.40" y2="58.59" stroke="#222" stroke-width="1.1"/>
<line x1="34.60" y1="42.70" x2="39.40" y2="42.70" stroke="#222" stroke-width="1.1"/>
<line x1="294.00" y1="42.70" x2="289.20" y2="42.70" stroke="#222" stroke-width="1.1"/>
<line x1="34.60" y1="26.81" x2="37.20" y2="26.81" stroke="#222" stroke-width="1.1"/>
<line x1="294.00" y1="26.81" x2="291.40" y2="26.81" stroke="#222" stroke-width="1.1"/>
<line x1="34.60" y1="10.92" x2="37.20" y2="10.92" stroke="#222" stroke-width="1.1"/>
<line x1="294.00" y1="10.92" x2="291.40" y2="10.92" stroke="#222" stroke-width="1.1"/>
<text x="28.10" y="231.90" text-anchor="end" font-size="12" fill="#111" >0</text>
<text x="28.10" y="174.03" text-anchor="end" font-size="12" fill="#111" >2</text>
<text x="28.10" y="110.47" text-anchor="end" font-size="12" fill="#111" >4</text>
<text x="28.10" y="46.90" text-anchor="end" font-size="12" fill="#111" >6</text>
<text x="67.30" y="23.70" text-anchor="start" font-size="12" fill="#111" >Ca II (0.866 µm)</text>
<text x="0" y="0" transform="translate(11.3,117.5) rotate(-90)" text-anchor="middle" font-size="12" fill="#111">EW (Å)</text>
<clipPath id="cp1"><rect x="333.50" y="1.70" width="259.20" height="231.70"/></clipPath>
<g clip-path="url(#cp1)">
<path d="M358.8 220.2V226.2M355.5 220.2h6.6M355.5 226.2h6.6" stroke="#7e160c" stroke-width="1.0" fill="none"/>
<circle cx="358.8" cy="223.2" r="2.6" fill="#7e160c"/>
<path d="M365.0 222.7V226.7M361.7 222.7h6.6M361.7 226.7h6.6" stroke="#7e160c" stroke-width="1.0" fill="none"/>
<circle cx="365.0" cy="224.7" r="2.6" fill="#7e160c"/>
<path d="M371.2 216.0V220.0M367.9 216.0h6.6M367.9 220.0h6.6" stroke="#7e160c" stroke-width="1.0" fill="none"/>
<circle cx="371.2" cy="218.0" r="2.6" fill="#7e160c"/>
<path d="M384.0 219.5V225.5M380.7 219.5h6.6M380.7 225.5h6.6" stroke="#7e160c" stroke-width="1.0" fill="none"/>
<circle cx="384.0" cy="222.5" r="2.6" fill="#7e160c"/>
<path d="M390.0 221.5V229.5M386.7 221.5h6.6M386.7 229.5h6.6" stroke="#7e160c" stroke-width="1.0" fill="none"/>
<circle cx="390.0" cy="225.5" r="2.6" fill="#7e160c"/>
<path d="M397.5 224.5V232.5M394.2 224.5h6.6M394.2 232.5h6.6" stroke="#7e160c" stroke-width="1.0" fill="none"/>
<circle cx="397.5" cy="228.5" r="2.6" fill="#7e160c"/>
<path d="M409.5 225.5V231.5M406.2 225.5h6.6M406.2 231.5h6.6" stroke="#7e160c" stroke-width="1.0" fill="none"/>
<circle cx="409.5" cy="228.5" r="2.6" fill="#7e160c"/>
<path d="M415.5 229.5V233.5M412.2 229.5h6.6M412.2 233.5h6.6" stroke="#7e160c" stroke-width="1.0" fill="none"/>
<circle cx="415.5" cy="231.5" r="2.6" fill="#7e160c"/>
<path d="M422.0 207.8V213.8M418.7 207.8h6.6M418.7 213.8h6.6" stroke="#7e160c" stroke-width="1.0" fill="none"/>
<circle cx="422.0" cy="210.8" r="2.6" fill="#7e160c"/>
<path d="M510.8 190.0V200.0M507.5 190.0h6.6M507.5 200.0h6.6" stroke="#7e160c" stroke-width="1.0" fill="none"/>
<circle cx="510.8" cy="195.0" r="2.6" fill="#7e160c"/>
<path d="M510.8 201.8V209.8M507.5 201.8h6.6M507.5 209.8h6.6" stroke="#7e160c" stroke-width="1.0" fill="none"/>
<circle cx="510.8" cy="205.8" r="2.6" fill="#7e160c"/>
<path d="M478.3 206.2V212.2M475.0 206.2h6.6M475.0 212.2h6.6" stroke="#7e160c" stroke-width="1.0" fill="none"/>
<circle cx="478.3" cy="209.2" r="2.6" fill="#7e160c"/>
<path d="M491.7 214.5V220.5M488.4 214.5h6.6M488.4 220.5h6.6" stroke="#7e160c" stroke-width="1.0" fill="none"/>
<circle cx="491.7" cy="217.5" r="2.6" fill="#7e160c"/>
<path d="M472.5 213.0V217.0M469.2 213.0h6.6M469.2 217.0h6.6" stroke="#7e160c" stroke-width="1.0" fill="none"/>
<circle cx="472.5" cy="215.0" r="2.6" fill="#7e160c"/>
<path d="M445.0 223.0V227.0M441.7 223.0h6.6M441.7 227.0h6.6" stroke="#7e160c" stroke-width="1.0" fill="none"/>
<circle cx="445.0" cy="225.0" r="2.6" fill="#7e160c"/>
<path d="M498.3 209.3V213.3M495.0 209.3h6.6M495.0 213.3h6.6" stroke="#7e160c" stroke-width="1.0" fill="none"/>
<circle cx="498.3" cy="211.3" r="2.6" fill="#7e160c"/>
<path d="M561.1 116.0V124.0M557.8 116.0h6.6M557.8 124.0h6.6" stroke="#7e160c" stroke-width="1.0" fill="none"/>
<circle cx="561.1" cy="120.0" r="2.6" fill="#7e160c"/>
<path d="M558.2 134.1V140.1M554.9 134.1h6.6M554.9 140.1h6.6" stroke="#7e160c" stroke-width="1.0" fill="none"/>
<circle cx="558.2" cy="137.1" r="2.6" fill="#7e160c"/>
<path d="M554.9 148.5V154.5M551.6 148.5h6.6M551.6 154.5h6.6" stroke="#7e160c" stroke-width="1.0" fill="none"/>
<circle cx="554.9" cy="151.5" r="2.6" fill="#7e160c"/>
<path d="M554.9 161.6V167.6M551.6 161.6h6.6M551.6 167.6h6.6" stroke="#7e160c" stroke-width="1.0" fill="none"/>
<circle cx="554.9" cy="164.6" r="2.6" fill="#7e160c"/>
<path d="M548.5 163.4V171.4M545.2 163.4h6.6M545.2 171.4h6.6" stroke="#7e160c" stroke-width="1.0" fill="none"/>
<circle cx="548.5" cy="167.4" r="2.6" fill="#7e160c"/>
<path d="M551.7 177.6V185.6M548.4 177.6h6.6M548.4 185.6h6.6" stroke="#7e160c" stroke-width="1.0" fill="none"/>
<circle cx="551.7" cy="181.6" r="2.6" fill="#7e160c"/>
<path d="M538.8 170.3V178.3M535.5 170.3h6.6M535.5 178.3h6.6" stroke="#7e160c" stroke-width="1.0" fill="none"/>
<circle cx="538.8" cy="174.3" r="2.6" fill="#7e160c"/>
<path d="M546.0 182.5V192.5M542.7 182.5h6.6M542.7 192.5h6.6" stroke="#7e160c" stroke-width="1.0" fill="none"/>
<circle cx="546.0" cy="187.5" r="2.6" fill="#7e160c"/>
<path d="M510.5 189.8V199.8M507.2 189.8h6.6M507.2 199.8h6.6" stroke="#7e160c" stroke-width="1.0" fill="none"/>
<circle cx="510.5" cy="194.8" r="2.6" fill="#7e160c"/>
<path d="M510.5 202.6V210.6M507.2 202.6h6.6M507.2 210.6h6.6" stroke="#7e160c" stroke-width="1.0" fill="none"/>
<circle cx="510.5" cy="206.6" r="2.6" fill="#7e160c"/>
<path d="M529.4 197.8V205.8M526.1 197.8h6.6M526.1 205.8h6.6" stroke="#7e160c" stroke-width="1.0" fill="none"/>
<circle cx="529.4" cy="201.8" r="2.6" fill="#7e160c"/>
<path d="M542.0 197.3V205.3M538.7 197.3h6.6M538.7 205.3h6.6" stroke="#7e160c" stroke-width="1.0" fill="none"/>
<circle cx="542.0" cy="201.3" r="2.6" fill="#7e160c"/>
<path d="M546.0 183.1V187.1M542.7 183.1h6.6M542.7 187.1h6.6" stroke="#7e160c" stroke-width="1.0" fill="none"/>
<circle cx="546.0" cy="185.1" r="2.6" fill="#7e160c"/>
<path d="M580.2 13.4V23.4M576.9 13.4h6.6M576.9 23.4h6.6" stroke="#7e160c" stroke-width="1.0" fill="none"/>
<circle cx="580.2" cy="18.4" r="2.6" fill="#7e160c"/>
<path d="M586.4 21.3V33.3M583.1 21.3h6.6M583.1 33.3h6.6" stroke="#7e160c" stroke-width="1.0" fill="none"/>
<circle cx="586.4" cy="27.3" r="2.6" fill="#7e160c"/>
<path d="M586.4 26.8V38.8M583.1 26.8h6.6M583.1 38.8h6.6" stroke="#7e160c" stroke-width="1.0" fill="none"/>
<circle cx="586.4" cy="32.8" r="2.6" fill="#7e160c"/>
<path d="M586.4 29.9V41.9M583.1 29.9h6.6M583.1 41.9h6.6" stroke="#7e160c" stroke-width="1.0" fill="none"/>
<circle cx="586.4" cy="35.9" r="2.6" fill="#7e160c"/>
<path d="M589.5 25.3V37.3M586.2 25.3h6.6M586.2 37.3h6.6" stroke="#7e160c" stroke-width="1.0" fill="none"/>
<circle cx="589.5" cy="31.3" r="2.6" fill="#7e160c"/>
<path d="M573.9 45.2V53.2M570.6 45.2h6.6M570.6 53.2h6.6" stroke="#7e160c" stroke-width="1.0" fill="none"/>
<circle cx="573.9" cy="49.2" r="2.6" fill="#7e160c"/>
<path d="M570.8 52.3V60.3M567.5 52.3h6.6M567.5 60.3h6.6" stroke="#7e160c" stroke-width="1.0" fill="none"/>
<circle cx="570.8" cy="56.3" r="2.6" fill="#7e160c"/>
<path d="M567.7 57.4V65.4M564.4 57.4h6.6M564.4 65.4h6.6" stroke="#7e160c" stroke-width="1.0" fill="none"/>
<circle cx="567.7" cy="61.4" r="2.6" fill="#7e160c"/>
<path d="M580.2 46.6V56.6M576.9 46.6h6.6M576.9 56.6h6.6" stroke="#7e160c" stroke-width="1.0" fill="none"/>
<circle cx="580.2" cy="51.6" r="2.6" fill="#7e160c"/>
<path d="M586.4 48.5V62.5M583.1 48.5h6.6M583.1 62.5h6.6" stroke="#7e160c" stroke-width="1.0" fill="none"/>
<circle cx="586.4" cy="55.5" r="2.6" fill="#7e160c"/>
<path d="M560.9 75.7V83.7M557.6 75.7h6.6M557.6 83.7h6.6" stroke="#7e160c" stroke-width="1.0" fill="none"/>
<circle cx="560.9" cy="79.7" r="2.6" fill="#7e160c"/>
<path d="M339.7 216.0V220.0M336.4 216.0h6.6M336.4 220.0h6.6" stroke="#0f580f" stroke-width="1.0" fill="none"/>
<circle cx="339.7" cy="218.0" r="2.6" fill="#0f580f"/>
<path d="M352.5 216.0V220.0M349.2 216.0h6.6M349.2 220.0h6.6" stroke="#0f580f" stroke-width="1.0" fill="none"/>
<circle cx="352.5" cy="218.0" r="2.6" fill="#0f580f"/>
<path d="M352.5 218.7V224.7M349.2 218.7h6.6M349.2 224.7h6.6" stroke="#0f580f" stroke-width="1.0" fill="none"/>
<circle cx="352.5" cy="221.7" r="2.6" fill="#0f580f"/>
<path d="M365.0 223.0V231.0M361.7 223.0h6.6M361.7 231.0h6.6" stroke="#0f580f" stroke-width="1.0" fill="none"/>
<circle cx="365.0" cy="227.0" r="2.6" fill="#0f580f"/>
<path d="M375.0 219.0V223.0M371.7 219.0h6.6M371.7 223.0h6.6" stroke="#0f580f" stroke-width="1.0" fill="none"/>
<circle cx="375.0" cy="221.0" r="2.6" fill="#0f580f"/>
<path d="M377.5 220.7V228.7M374.2 220.7h6.6M374.2 228.7h6.6" stroke="#0f580f" stroke-width="1.0" fill="none"/>
<circle cx="377.5" cy="224.7" r="2.6" fill="#0f580f"/>
<path d="M384.0 224.7V230.7M380.7 224.7h6.6M380.7 230.7h6.6" stroke="#0f580f" stroke-width="1.0" fill="none"/>
<circle cx="384.0" cy="227.7" r="2.6" fill="#0f580f"/>
<path d="M396.7 216.2V224.2M393.4 216.2h6.6M393.4 224.2h6.6" stroke="#0f580f" stroke-width="1.0" fill="none"/>
<circle cx="396.7" cy="220.2" r="2.6" fill="#0f580f"/>
<path d="M408.7 212.0V218.0M405.4 212.0h6.6M405.4 218.0h6.6" stroke="#0f580f" stroke-width="1.0" fill="none"/>
<circle cx="408.7" cy="215.0" r="2.6" fill="#0f580f"/>
<path d="M421.5 226.5V230.5M418.2 226.5h6.6M418.2 230.5h6.6" stroke="#0f580f" stroke-width="1.0" fill="none"/>
<circle cx="421.5" cy="228.5" r="2.6" fill="#0f580f"/>
<path d="M422.0 226.3V230.3M418.7 226.3h6.6M418.7 230.3h6.6" stroke="#0f580f" stroke-width="1.0" fill="none"/>
<circle cx="422.0" cy="228.3" r="2.6" fill="#0f580f"/>
<path d="M428.3 214.3V222.3M425.0 214.3h6.6M425.0 222.3h6.6" stroke="#0f580f" stroke-width="1.0" fill="none"/>
<circle cx="428.3" cy="218.3" r="2.6" fill="#0f580f"/>
<path d="M428.3 219.3V227.3M425.0 219.3h6.6M425.0 227.3h6.6" stroke="#0f580f" stroke-width="1.0" fill="none"/>
<circle cx="428.3" cy="223.3" r="2.6" fill="#0f580f"/>
<path d="M434.7 218.5V226.5M431.4 218.5h6.6M431.4 226.5h6.6" stroke="#0f580f" stroke-width="1.0" fill="none"/>
<circle cx="434.7" cy="222.5" r="2.6" fill="#0f580f"/>
<path d="M434.7 223.7V229.7M431.4 223.7h6.6M431.4 229.7h6.6" stroke="#0f580f" stroke-width="1.0" fill="none"/>
<circle cx="434.7" cy="226.7" r="2.6" fill="#0f580f"/>
<path d="M440.8 224.7V228.7M437.5 224.7h6.6M437.5 228.7h6.6" stroke="#0f580f" stroke-width="1.0" fill="none"/>
<circle cx="440.8" cy="226.7" r="2.6" fill="#0f580f"/>
<path d="M450.8 217.5V227.5M447.5 217.5h6.6M447.5 227.5h6.6" stroke="#0f580f" stroke-width="1.0" fill="none"/>
<circle cx="450.8" cy="222.5" r="2.6" fill="#0f580f"/>
<path d="M453.7 218.3V228.3M450.4 218.3h6.6M450.4 228.3h6.6" stroke="#0f580f" stroke-width="1.0" fill="none"/>
<circle cx="453.7" cy="223.3" r="2.6" fill="#0f580f"/>
<path d="M453.7 228.0V232.0M450.4 228.0h6.6M450.4 232.0h6.6" stroke="#0f580f" stroke-width="1.0" fill="none"/>
<circle cx="453.7" cy="230.0" r="2.6" fill="#0f580f"/>
<path d="M466.3 219.3V227.3M463.0 219.3h6.6M463.0 227.3h6.6" stroke="#0f580f" stroke-width="1.0" fill="none"/>
<circle cx="466.3" cy="223.3" r="2.6" fill="#0f580f"/>
<path d="M472.5 212.5V222.5M469.2 212.5h6.6M469.2 222.5h6.6" stroke="#0f580f" stroke-width="1.0" fill="none"/>
<circle cx="472.5" cy="217.5" r="2.6" fill="#0f580f"/>
<path d="M472.5 219.3V227.3M469.2 219.3h6.6M469.2 227.3h6.6" stroke="#0f580f" stroke-width="1.0" fill="none"/>
<circle cx="472.5" cy="223.3" r="2.6" fill="#0f580f"/>
<path d="M478.8 210.2V218.2M475.5 210.2h6.6M475.5 218.2h6.6" stroke="#0f580f" stroke-width="1.0" fill="none"/>
<circle cx="478.8" cy="214.2" r="2.6" fill="#0f580f"/>
<path d="M478.8 221.0V229.0M475.5 221.0h6.6M475.5 229.0h6.6" stroke="#0f580f" stroke-width="1.0" fill="none"/>
<circle cx="478.8" cy="225.0" r="2.6" fill="#0f580f"/>
<path d="M485.8 217.7V225.7M482.5 217.7h6.6M482.5 225.7h6.6" stroke="#0f580f" stroke-width="1.0" fill="none"/>
<circle cx="485.8" cy="221.7" r="2.6" fill="#0f580f"/>
<path d="M491.7 220.2V228.2M488.4 220.2h6.6M488.4 228.2h6.6" stroke="#0f580f" stroke-width="1.0" fill="none"/>
<circle cx="491.7" cy="224.2" r="2.6" fill="#0f580f"/>
<path d="M497.8 205.0V215.0M494.5 205.0h6.6M494.5 215.0h6.6" stroke="#0f580f" stroke-width="1.0" fill="none"/>
<circle cx="497.8" cy="210.0" r="2.6" fill="#0f580f"/>
<path d="M501.7 210.0V220.0M498.4 210.0h6.6M498.4 220.0h6.6" stroke="#0f580f" stroke-width="1.0" fill="none"/>
<circle cx="501.7" cy="215.0" r="2.6" fill="#0f580f"/>
<path d="M504.2 213.3V223.3M500.9 213.3h6.6M500.9 223.3h6.6" stroke="#0f580f" stroke-width="1.0" fill="none"/>
<circle cx="504.2" cy="218.3" r="2.6" fill="#0f580f"/>
<path d="M510.3 213.5V221.5M507.0 213.5h6.6M507.0 221.5h6.6" stroke="#0f580f" stroke-width="1.0" fill="none"/>
<circle cx="510.3" cy="217.5" r="2.6" fill="#0f580f"/>
<path d="M500.8 212.6V220.6M497.5 212.6h6.6M497.5 220.6h6.6" stroke="#0f580f" stroke-width="1.0" fill="none"/>
<circle cx="500.8" cy="216.6" r="2.6" fill="#0f580f"/>
<path d="M504.5 213.2V223.2M501.2 213.2h6.6M501.2 223.2h6.6" stroke="#0f580f" stroke-width="1.0" fill="none"/>
<circle cx="504.5" cy="218.2" r="2.6" fill="#0f580f"/>
<path d="M510.5 212.9V222.9M507.2 212.9h6.6M507.2 222.9h6.6" stroke="#0f580f" stroke-width="1.0" fill="none"/>
<circle cx="510.5" cy="217.9" r="2.6" fill="#0f580f"/>
<path d="M529.4 210.9V222.9M526.1 210.9h6.6M526.1 222.9h6.6" stroke="#0f580f" stroke-width="1.0" fill="none"/>
<circle cx="529.4" cy="216.9" r="2.6" fill="#0f580f"/>
<path d="M535.9 206.8V216.8M532.6 206.8h6.6M532.6 216.8h6.6" stroke="#0f580f" stroke-width="1.0" fill="none"/>
<circle cx="535.9" cy="211.8" r="2.6" fill="#0f580f"/>
<path d="M542.3 215.5V227.5M539.0 215.5h6.6M539.0 227.5h6.6" stroke="#0f580f" stroke-width="1.0" fill="none"/>
<circle cx="542.3" cy="221.5" r="2.6" fill="#0f580f"/>
<path d="M545.6 210.0V220.0M542.3 210.0h6.6M542.3 220.0h6.6" stroke="#0f580f" stroke-width="1.0" fill="none"/>
<circle cx="545.6" cy="215.0" r="2.6" fill="#0f580f"/>
<path d="M548.5 210.8V220.8M545.2 210.8h6.6M545.2 220.8h6.6" stroke="#0f580f" stroke-width="1.0" fill="none"/>
<circle cx="548.5" cy="215.8" r="2.6" fill="#0f580f"/>
<path d="M551.7 221.3V231.3M548.4 221.3h6.6M548.4 231.3h6.6" stroke="#0f580f" stroke-width="1.0" fill="none"/>
<circle cx="551.7" cy="226.3" r="2.6" fill="#0f580f"/>
<path d="M554.9 208.1V218.1M551.6 208.1h6.6M551.6 218.1h6.6" stroke="#0f580f" stroke-width="1.0" fill="none"/>
<circle cx="554.9" cy="213.1" r="2.6" fill="#0f580f"/>
<path d="M558.2 205.2V215.2M554.9 205.2h6.6M554.9 215.2h6.6" stroke="#0f580f" stroke-width="1.0" fill="none"/>
<circle cx="558.2" cy="210.2" r="2.6" fill="#0f580f"/>
<path d="M564.6 211.6V221.6M561.3 211.6h6.6M561.3 221.6h6.6" stroke="#0f580f" stroke-width="1.0" fill="none"/>
<circle cx="564.6" cy="216.6" r="2.6" fill="#0f580f"/>
<path d="M567.9 204.8V214.8M564.6 204.8h6.6M564.6 214.8h6.6" stroke="#0f580f" stroke-width="1.0" fill="none"/>
<circle cx="567.9" cy="209.8" r="2.6" fill="#0f580f"/>
<path d="M567.5 213.6V223.6M564.2 213.6h6.6M564.2 223.6h6.6" stroke="#0f580f" stroke-width="1.0" fill="none"/>
<circle cx="567.5" cy="218.6" r="2.6" fill="#0f580f"/>
<path d="M573.8 210.0V220.0M570.5 210.0h6.6M570.5 220.0h6.6" stroke="#0f580f" stroke-width="1.0" fill="none"/>
<circle cx="573.8" cy="215.0" r="2.6" fill="#0f580f"/>
<path d="M573.8 216.5V226.5M570.5 216.5h6.6M570.5 226.5h6.6" stroke="#0f580f" stroke-width="1.0" fill="none"/>
<circle cx="573.8" cy="221.5" r="2.6" fill="#0f580f"/>
<path d="M577.2 210.8V220.8M573.9 210.8h6.6M573.9 220.8h6.6" stroke="#0f580f" stroke-width="1.0" fill="none"/>
<circle cx="577.2" cy="215.8" r="2.6" fill="#0f580f"/>
<path d="M577.2 216.1V226.1M573.9 216.1h6.6M573.9 226.1h6.6" stroke="#0f580f" stroke-width="1.0" fill="none"/>
<circle cx="577.2" cy="221.1" r="2.6" fill="#0f580f"/>
<path d="M583.2 193.8V209.8M579.9 193.8h6.6M579.9 209.8h6.6" stroke="#0f580f" stroke-width="1.0" fill="none"/>
<circle cx="583.2" cy="201.8" r="2.6" fill="#0f580f"/>
<path d="M586.4 194.1V210.1M583.1 194.1h6.6M583.1 210.1h6.6" stroke="#0f580f" stroke-width="1.0" fill="none"/>
<circle cx="586.4" cy="202.1" r="2.6" fill="#0f580f"/>
<path d="M586.4 199.7V215.7M583.1 199.7h6.6M583.1 215.7h6.6" stroke="#0f580f" stroke-width="1.0" fill="none"/>
<circle cx="586.4" cy="207.7" r="2.6" fill="#0f580f"/>
<path d="M583.2 211.9V227.9M579.9 211.9h6.6M579.9 227.9h6.6" stroke="#0f580f" stroke-width="1.0" fill="none"/>
<circle cx="583.2" cy="219.9" r="2.6" fill="#0f580f"/>
<path d="M586.4 214.8V230.8M583.1 214.8h6.6M583.1 230.8h6.6" stroke="#0f580f" stroke-width="1.0" fill="none"/>
<circle cx="586.4" cy="222.8" r="2.6" fill="#0f580f"/>
<path d="M583.2 149.9V171.9M579.9 149.9h6.6M579.9 171.9h6.6" stroke="#0f580f" stroke-width="1.0" fill="none"/>
<circle cx="583.2" cy="160.9" r="2.6" fill="#0f580f"/>
<path d="M589.7 129.8V163.8M586.4 129.8h6.6M586.4 163.8h6.6" stroke="#0f580f" stroke-width="1.0" fill="none"/>
<circle cx="589.7" cy="146.8" r="2.6" fill="#0f580f"/>
<path d="M339.7 220.5V230.5M336.4 220.5h6.6M336.4 230.5h6.6" stroke="#10106e" stroke-width="1.0" fill="none"/>
<circle cx="339.7" cy="225.5" r="2.6" fill="#10106e"/>
<path d="M339.7 229.5V233.5M336.4 229.5h6.6M336.4 233.5h6.6" stroke="#10106e" stroke-width="1.0" fill="none"/>
<circle cx="339.7" cy="231.5" r="2.6" fill="#10106e"/>
<path d="M346.2 221.5V229.5M342.9 221.5h6.6M342.9 229.5h6.6" stroke="#10106e" stroke-width="1.0" fill="none"/>
<circle cx="346.2" cy="225.5" r="2.6" fill="#10106e"/>
<path d="M352.5 226.2V232.2M349.2 226.2h6.6M349.2 232.2h6.6" stroke="#10106e" stroke-width="1.0" fill="none"/>
<circle cx="352.5" cy="229.2" r="2.6" fill="#10106e"/>
<path d="M371.2 207.7V217.7M367.9 207.7h6.6M367.9 217.7h6.6" stroke="#10106e" stroke-width="1.0" fill="none"/>
<circle cx="371.2" cy="212.7" r="2.6" fill="#10106e"/>
<path d="M371.2 213.5V225.5M367.9 213.5h6.6M367.9 225.5h6.6" stroke="#10106e" stroke-width="1.0" fill="none"/>
<circle cx="371.2" cy="219.5" r="2.6" fill="#10106e"/>
<path d="M371.2 222.0V226.0M367.9 222.0h6.6M367.9 226.0h6.6" stroke="#10106e" stroke-width="1.0" fill="none"/>
<circle cx="371.2" cy="224.0" r="2.6" fill="#10106e"/>
<path d="M384.0 212.5V220.5M380.7 212.5h6.6M380.7 220.5h6.6" stroke="#10106e" stroke-width="1.0" fill="none"/>
<circle cx="384.0" cy="216.5" r="2.6" fill="#10106e"/>
<path d="M390.0 213.0V223.0M386.7 213.0h6.6M386.7 223.0h6.6" stroke="#10106e" stroke-width="1.0" fill="none"/>
<circle cx="390.0" cy="218.0" r="2.6" fill="#10106e"/>
<path d="M402.7 222.2V230.2M399.4 222.2h6.6M399.4 230.2h6.6" stroke="#10106e" stroke-width="1.0" fill="none"/>
<circle cx="402.7" cy="226.2" r="2.6" fill="#10106e"/>
<path d="M409.5 216.0V226.0M406.2 216.0h6.6M406.2 226.0h6.6" stroke="#10106e" stroke-width="1.0" fill="none"/>
<circle cx="409.5" cy="221.0" r="2.6" fill="#10106e"/>
<path d="M415.5 207.5V219.5M412.2 207.5h6.6M412.2 219.5h6.6" stroke="#10106e" stroke-width="1.0" fill="none"/>
<circle cx="415.5" cy="213.5" r="2.6" fill="#10106e"/>
<path d="M415.5 217.0V225.0M412.2 217.0h6.6M412.2 225.0h6.6" stroke="#10106e" stroke-width="1.0" fill="none"/>
<circle cx="415.5" cy="221.0" r="2.6" fill="#10106e"/>
<path d="M421.5 212.0V224.0M418.2 212.0h6.6M418.2 224.0h6.6" stroke="#10106e" stroke-width="1.0" fill="none"/>
<circle cx="421.5" cy="218.0" r="2.6" fill="#10106e"/>
<path d="M415.8 208.0V222.0M412.5 208.0h6.6M412.5 222.0h6.6" stroke="#10106e" stroke-width="1.0" fill="none"/>
<circle cx="415.8" cy="215.0" r="2.6" fill="#10106e"/>
<path d="M422.0 211.7V221.7M418.7 211.7h6.6M418.7 221.7h6.6" stroke="#10106e" stroke-width="1.0" fill="none"/>
<circle cx="422.0" cy="216.7" r="2.6" fill="#10106e"/>
<path d="M428.3 204.7V214.7M425.0 204.7h6.6M425.0 214.7h6.6" stroke="#10106e" stroke-width="1.0" fill="none"/>
<circle cx="428.3" cy="209.7" r="2.6" fill="#10106e"/>
<path d="M434.7 210.7V222.7M431.4 210.7h6.6M431.4 222.7h6.6" stroke="#10106e" stroke-width="1.0" fill="none"/>
<circle cx="434.7" cy="216.7" r="2.6" fill="#10106e"/>
<path d="M440.8 205.5V219.5M437.5 205.5h6.6M437.5 219.5h6.6" stroke="#10106e" stroke-width="1.0" fill="none"/>
<circle cx="440.8" cy="212.5" r="2.6" fill="#10106e"/>
<path d="M440.8 218.0V222.0M437.5 218.0h6.6M437.5 222.0h6.6" stroke="#10106e" stroke-width="1.0" fill="none"/>
<circle cx="440.8" cy="220.0" r="2.6" fill="#10106e"/>
<path d="M440.8 223.0V227.0M437.5 223.0h6.6M437.5 227.0h6.6" stroke="#10106e" stroke-width="1.0" fill="none"/>
<circle cx="440.8" cy="225.0" r="2.6" fill="#10106e"/>
<path d="M447.5 202.7V214.7M444.2 202.7h6.6M444.2 214.7h6.6" stroke="#10106e" stroke-width="1.0" fill="none"/>
<circle cx="447.5" cy="208.7" r="2.6" fill="#10106e"/>
<path d="M447.5 214.2V224.2M444.2 214.2h6.6M444.2 224.2h6.6" stroke="#10106e" stroke-width="1.0" fill="none"/>
<circle cx="447.5" cy="219.2" r="2.6" fill="#10106e"/>
<path d="M453.7 198.7V218.7M450.4 198.7h6.6M450.4 218.7h6.6" stroke="#10106e" stroke-width="1.0" fill="none"/>
<circle cx="453.7" cy="208.7" r="2.6" fill="#10106e"/>
<path d="M460.0 213.7V229.7M456.7 213.7h6.6M456.7 229.7h6.6" stroke="#10106e" stroke-width="1.0" fill="none"/>
<circle cx="460.0" cy="221.7" r="2.6" fill="#10106e"/>
<path d="M466.3 201.3V215.3M463.0 201.3h6.6M463.0 215.3h6.6" stroke="#10106e" stroke-width="1.0" fill="none"/>
<circle cx="466.3" cy="208.3" r="2.6" fill="#10106e"/>
<path d="M466.3 206.3V220.3M463.0 206.3h6.6M463.0 220.3h6.6" stroke="#10106e" stroke-width="1.0" fill="none"/>
<circle cx="466.3" cy="213.3" r="2.6" fill="#10106e"/>
<path d="M469.2 204.0V216.0M465.9 204.0h6.6M465.9 216.0h6.6" stroke="#10106e" stroke-width="1.0" fill="none"/>
<circle cx="469.2" cy="210.0" r="2.6" fill="#10106e"/>
<path d="M472.5 195.3V215.3M469.2 195.3h6.6M469.2 215.3h6.6" stroke="#10106e" stroke-width="1.0" fill="none"/>
<circle cx="472.5" cy="205.3" r="2.6" fill="#10106e"/>
<path d="M482.5 202.3V214.3M479.2 202.3h6.6M479.2 214.3h6.6" stroke="#10106e" stroke-width="1.0" fill="none"/>
<circle cx="482.5" cy="208.3" r="2.6" fill="#10106e"/>
<path d="M485.8 196.7V210.7M482.5 196.7h6.6M482.5 210.7h6.6" stroke="#10106e" stroke-width="1.0" fill="none"/>
<circle cx="485.8" cy="203.7" r="2.6" fill="#10106e"/>
<path d="M485.8 209.2V219.2M482.5 209.2h6.6M482.5 219.2h6.6" stroke="#10106e" stroke-width="1.0" fill="none"/>
<circle cx="485.8" cy="214.2" r="2.6" fill="#10106e"/>
<path d="M491.7 189.7V207.7M488.4 189.7h6.6M488.4 207.7h6.6" stroke="#10106e" stroke-width="1.0" fill="none"/>
<circle cx="491.7" cy="198.7" r="2.6" fill="#10106e"/>
<path d="M491.7 199.7V213.7M488.4 199.7h6.6M488.4 213.7h6.6" stroke="#10106e" stroke-width="1.0" fill="none"/>
<circle cx="491.7" cy="206.7" r="2.6" fill="#10106e"/>
<path d="M497.8 199.0V211.0M494.5 199.0h6.6M494.5 211.0h6.6" stroke="#10106e" stroke-width="1.0" fill="none"/>
<circle cx="497.8" cy="205.0" r="2.6" fill="#10106e"/>
<path d="M510.3 205.0V215.0M507.0 205.0h6.6M507.0 215.0h6.6" stroke="#10106e" stroke-width="1.0" fill="none"/>
<circle cx="510.3" cy="210.0" r="2.6" fill="#10106e"/>
<path d="M535.9 165.5V193.5M532.6 165.5h6.6M532.6 193.5h6.6" stroke="#10106e" stroke-width="1.0" fill="none"/>
<circle cx="535.9" cy="179.5" r="2.6" fill="#10106e"/>
<path d="M542.0 170.0V198.0M538.7 170.0h6.6M538.7 198.0h6.6" stroke="#10106e" stroke-width="1.0" fill="none"/>
<circle cx="542.0" cy="184.0" r="2.6" fill="#10106e"/>
<path d="M538.8 179.2V195.2M535.5 179.2h6.6M535.5 195.2h6.6" stroke="#10106e" stroke-width="1.0" fill="none"/>
<circle cx="538.8" cy="187.2" r="2.6" fill="#10106e"/>
<path d="M538.8 185.2V201.2M535.5 185.2h6.6M535.5 201.2h6.6" stroke="#10106e" stroke-width="1.0" fill="none"/>
<circle cx="538.8" cy="193.2" r="2.6" fill="#10106e"/>
<path d="M542.0 185.2V201.2M538.7 185.2h6.6M538.7 201.2h6.6" stroke="#10106e" stroke-width="1.0" fill="none"/>
<circle cx="542.0" cy="193.2" r="2.6" fill="#10106e"/>
<path d="M548.5 182.8V198.8M545.2 182.8h6.6M545.2 198.8h6.6" stroke="#10106e" stroke-width="1.0" fill="none"/>
<circle cx="548.5" cy="190.8" r="2.6" fill="#10106e"/>
<path d="M535.9 192.0V204.0M532.6 192.0h6.6M532.6 204.0h6.6" stroke="#10106e" stroke-width="1.0" fill="none"/>
<circle cx="535.9" cy="198.0" r="2.6" fill="#10106e"/>
<path d="M533.1 197.4V209.4M529.8 197.4h6.6M529.8 209.4h6.6" stroke="#10106e" stroke-width="1.0" fill="none"/>
<circle cx="533.1" cy="203.4" r="2.6" fill="#10106e"/>
<path d="M535.9 197.4V209.4M532.6 197.4h6.6M532.6 209.4h6.6" stroke="#10106e" stroke-width="1.0" fill="none"/>
<circle cx="535.9" cy="203.4" r="2.6" fill="#10106e"/>
<path d="M542.3 200.3V210.3M539.0 200.3h6.6M539.0 210.3h6.6" stroke="#10106e" stroke-width="1.0" fill="none"/>
<circle cx="542.3" cy="205.3" r="2.6" fill="#10106e"/>
<path d="M548.5 195.1V209.1M545.2 195.1h6.6M545.2 209.1h6.6" stroke="#10106e" stroke-width="1.0" fill="none"/>
<circle cx="548.5" cy="202.1" r="2.6" fill="#10106e"/>
<path d="M551.7 193.0V209.0M548.4 193.0h6.6M548.4 209.0h6.6" stroke="#10106e" stroke-width="1.0" fill="none"/>
<circle cx="551.7" cy="201.0" r="2.6" fill="#10106e"/>
<path d="M548.5 204.8V218.8M545.2 204.8h6.6M545.2 218.8h6.6" stroke="#10106e" stroke-width="1.0" fill="none"/>
<circle cx="548.5" cy="211.8" r="2.6" fill="#10106e"/>
<path d="M510.5 206.2V214.2M507.2 206.2h6.6M507.2 214.2h6.6" stroke="#10106e" stroke-width="1.0" fill="none"/>
<circle cx="510.5" cy="210.2" r="2.6" fill="#10106e"/>
<path d="M561.1 204.7V210.7M557.8 204.7h6.6M557.8 210.7h6.6" stroke="#10106e" stroke-width="1.0" fill="none"/>
<circle cx="561.1" cy="207.7" r="2.6" fill="#10106e"/>
<path d="M573.8 190.8V212.8M570.5 190.8h6.6M570.5 212.8h6.6" stroke="#10106e" stroke-width="1.0" fill="none"/>
<circle cx="573.8" cy="201.8" r="2.6" fill="#10106e"/>
<path d="M554.9 218.1V228.1M551.6 218.1h6.6M551.6 228.1h6.6" stroke="#10106e" stroke-width="1.0" fill="none"/>
<circle cx="554.9" cy="223.1" r="2.6" fill="#10106e"/>
<path d="M554.9 224.3V228.3M551.6 224.3h6.6M551.6 228.3h6.6" stroke="#10106e" stroke-width="1.0" fill="none"/>
<circle cx="554.9" cy="226.3" r="2.6" fill="#10106e"/>
<path d="M500.8 204.0V210.0M497.5 204.0h6.6M497.5 210.0h6.6" stroke="#10106e" stroke-width="1.0" fill="none"/>
<circle cx="500.8" cy="207.0" r="2.6" fill="#10106e"/>
</g>
<rect x="333.50" y="1.70" width="259.20" height="231.70" fill="none" stroke="#222" stroke-width="1.3"/>
<line x1="339.82" y1="233.40" x2="339.82" y2="228.90" stroke="#222" stroke-width="1.1"/>
<line x1="339.82" y1="1.70" x2="339.82" y2="6.20" stroke="#222" stroke-width="1.1"/>
<line x1="352.47" y1="233.40" x2="352.47" y2="230.90" stroke="#222" stroke-width="1.1"/>
<line x1="352.47" y1="1.70" x2="352.47" y2="4.20" stroke="#222" stroke-width="1.1"/>
<line x1="365.11" y1="233.40" x2="365.11" y2="230.90" stroke="#222" stroke-width="1.1"/>
<line x1="365.11" y1="1.70" x2="365.11" y2="4.20" stroke="#222" stroke-width="1.1"/>
<line x1="377.75" y1="233.40" x2="377.75" y2="230.90" stroke="#222" stroke-width="1.1"/>
<line x1="377.75" y1="1.70" x2="377.75" y2="4.20" stroke="#222" stroke-width="1.1"/>
<line x1="390.40" y1="233.40" x2="390.40" y2="230.90" stroke="#222" stroke-width="1.1"/>
<line x1="390.40" y1="1.70" x2="390.40" y2="4.20" stroke="#222" stroke-width="1.1"/>
<line x1="403.04" y1="233.40" x2="403.04" y2="228.90" stroke="#222" stroke-width="1.1"/>
<line x1="403.04" y1="1.70" x2="403.04" y2="6.20" stroke="#222" stroke-width="1.1"/>
<line x1="415.69" y1="233.40" x2="415.69" y2="230.90" stroke="#222" stroke-width="1.1"/>
<line x1="415.69" y1="1.70" x2="415.69" y2="4.20" stroke="#222" stroke-width="1.1"/>
<line x1="428.33" y1="233.40" x2="428.33" y2="230.90" stroke="#222" stroke-width="1.1"/>
<line x1="428.33" y1="1.70" x2="428.33" y2="4.20" stroke="#222" stroke-width="1.1"/>
<line x1="440.97" y1="233.40" x2="440.97" y2="230.90" stroke="#222" stroke-width="1.1"/>
<line x1="440.97" y1="1.70" x2="440.97" y2="4.20" stroke="#222" stroke-width="1.1"/>
<line x1="453.62" y1="233.40" x2="453.62" y2="230.90" stroke="#222" stroke-width="1.1"/>
<line x1="453.62" y1="1.70" x2="453.62" y2="4.20" stroke="#222" stroke-width="1.1"/>
<line x1="466.26" y1="233.40" x2="466.26" y2="228.90" stroke="#222" stroke-width="1.1"/>
<line x1="466.26" y1="1.70" x2="466.26" y2="6.20" stroke="#222" stroke-width="1.1"/>
<line x1="478.90" y1="233.40" x2="478.90" y2="230.90" stroke="#222" stroke-width="1.1"/>
<line x1="478.90" y1="1.70" x2="478.90" y2="4.20" stroke="#222" stroke-width="1.1"/>
<line x1="491.55" y1="233.40" x2="491.55" y2="230.90" stroke="#222" stroke-width="1.1"/>
<line x1="491.55" y1="1.70" x2="491.55" y2="4.20" stroke="#222" stroke-width="1.1"/>
<line x1="504.19" y1="233.40" x2="504.19" y2="230.90" stroke="#222" stroke-width="1.1"/>
<line x1="504.19" y1="1.70" x2="504.19" y2="4.20" stroke="#222" stroke-width="1.1"/>
<line x1="516.84" y1="233.40" x2="516.84" y2="230.90" stroke="#222" stroke-width="1.1"/>
<line x1="516.84" y1="1.70" x2="516.84" y2="4.20" stroke="#222" stroke-width="1.1"/>
<line x1="529.48" y1="233.40" x2="529.48" y2="228.90" stroke="#222" stroke-width="1.1"/>
<line x1="529.48" y1="1.70" x2="529.48" y2="6.20" stroke="#222" stroke-width="1.1"/>
<line x1="542.12" y1="233.40" x2="542.12" y2="230.90" stroke="#222" stroke-width="1.1"/>
<line x1="542.12" y1="1.70" x2="542.12" y2="4.20" stroke="#222" stroke-width="1.1"/>
<line x1="554.77" y1="233.40" x2="554.77" y2="230.90" stroke="#222" stroke-width="1.1"/>
<line x1="554.77" y1="1.70" x2="554.77" y2="4.20" stroke="#222" stroke-width="1.1"/>
<line x1="567.41" y1="233.40" x2="567.41" y2="230.90" stroke="#222" stroke-width="1.1"/>
<line x1="567.41" y1="1.70" x2="567.41" y2="4.20" stroke="#222" stroke-width="1.1"/>
<line x1="580.06" y1="233.40" x2="580.06" y2="230.90" stroke="#222" stroke-width="1.1"/>
<line x1="580.06" y1="1.70" x2="580.06" y2="4.20" stroke="#222" stroke-width="1.1"/>
<line x1="592.70" y1="233.40" x2="592.70" y2="228.90" stroke="#222" stroke-width="1.1"/>
<line x1="592.70" y1="1.70" x2="592.70" y2="6.20" stroke="#222" stroke-width="1.1"/>
<line x1="333.50" y1="233.40" x2="338.30" y2="233.40" stroke="#222" stroke-width="1.1"/>
<line x1="592.70" y1="233.40" x2="587.90" y2="233.40" stroke="#222" stroke-width="1.1"/>
<line x1="333.50" y1="218.87" x2="336.10" y2="218.87" stroke="#222" stroke-width="1.1"/>
<line x1="592.70" y1="218.87" x2="590.10" y2="218.87" stroke="#222" stroke-width="1.1"/>
<line x1="333.50" y1="204.35" x2="336.10" y2="204.35" stroke="#222" stroke-width="1.1"/>
<line x1="592.70" y1="204.35" x2="590.10" y2="204.35" stroke="#222" stroke-width="1.1"/>
<line x1="333.50" y1="189.82" x2="336.10" y2="189.82" stroke="#222" stroke-width="1.1"/>
<line x1="592.70" y1="189.82" x2="590.10" y2="189.82" stroke="#222" stroke-width="1.1"/>
<line x1="333.50" y1="175.29" x2="336.10" y2="175.29" stroke="#222" stroke-width="1.1"/>
<line x1="592.70" y1="175.29" x2="590.10" y2="175.29" stroke="#222" stroke-width="1.1"/>
<line x1="333.50" y1="160.77" x2="338.30" y2="160.77" stroke="#222" stroke-width="1.1"/>
<line x1="592.70" y1="160.77" x2="587.90" y2="160.77" stroke="#222" stroke-width="1.1"/>
<line x1="333.50" y1="146.24" x2="336.10" y2="146.24" stroke="#222" stroke-width="1.1"/>
<line x1="592.70" y1="146.24" x2="590.10" y2="146.24" stroke="#222" stroke-width="1.1"/>
<line x1="333.50" y1="131.71" x2="336.10" y2="131.71" stroke="#222" stroke-width="1.1"/>
<line x1="592.70" y1="131.71" x2="590.10" y2="131.71" stroke="#222" stroke-width="1.1"/>
<line x1="333.50" y1="117.19" x2="336.10" y2="117.19" stroke="#222" stroke-width="1.1"/>
<line x1="592.70" y1="117.19" x2="590.10" y2="117.19" stroke="#222" stroke-width="1.1"/>
<line x1="333.50" y1="102.66" x2="336.10" y2="102.66" stroke="#222" stroke-width="1.1"/>
<line x1="592.70" y1="102.66" x2="590.10" y2="102.66" stroke="#222" stroke-width="1.1"/>
<line x1="333.50" y1="88.13" x2="338.30" y2="88.13" stroke="#222" stroke-width="1.1"/>
<line x1="592.70" y1="88.13" x2="587.90" y2="88.13" stroke="#222" stroke-width="1.1"/>
<line x1="333.50" y1="73.61" x2="336.10" y2="73.61" stroke="#222" stroke-width="1.1"/>
<line x1="592.70" y1="73.61" x2="590.10" y2="73.61" stroke="#222" stroke-width="1.1"/>
<line x1="333.50" y1="59.08" x2="336.10" y2="59.08" stroke="#222" stroke-width="1.1"/>
<line x1="592.70" y1="59.08" x2="590.10" y2="59.08" stroke="#222" stroke-width="1.1"/>
<line x1="333.50" y1="44.55" x2="336.10" y2="44.55" stroke="#222" stroke-width="1.1"/>
<line x1="592.70" y1="44.55" x2="590.10" y2="44.55" stroke="#222" stroke-width="1.1"/>
<line x1="333.50" y1="30.03" x2="336.10" y2="30.03" stroke="#222" stroke-width="1.1"/>
<line x1="592.70" y1="30.03" x2="590.10" y2="30.03" stroke="#222" stroke-width="1.1"/>
<line x1="333.50" y1="15.50" x2="338.30" y2="15.50" stroke="#222" stroke-width="1.1"/>
<line x1="592.70" y1="15.50" x2="587.90" y2="15.50" stroke="#222" stroke-width="1.1"/>
<text x="327.00" y="231.90" text-anchor="end" font-size="12" fill="#111" >0</text>
<text x="327.00" y="164.97" text-anchor="end" font-size="12" fill="#111" >5</text>
<text x="327.00" y="92.33" text-anchor="end" font-size="12" fill="#111" >10</text>
<text x="327.00" y="19.70" text-anchor="end" font-size="12" fill="#111" >15</text>
<text x="356.00" y="23.70" text-anchor="start" font-size="12" fill="#111" >Na I (1.14 µm)</text>
<clipPath id="cp2"><rect x="34.60" y="249.70" width="259.40" height="232.00"/></clipPath>
<g clip-path="url(#cp2)">
<path d="M66.3 432.0V438.0M63.0 432.0h6.6M63.0 438.0h6.6" stroke="#7e160c" stroke-width="1.0" fill="none"/>
<circle cx="66.3" cy="435.0" r="2.6" fill="#7e160c"/>
<path d="M60.0 448.8V452.8M56.7 448.8h6.6M56.7 452.8h6.6" stroke="#7e160c" stroke-width="1.0" fill="none"/>
<circle cx="60.0" cy="450.8" r="2.6" fill="#7e160c"/>
<path d="M66.3 448.0V452.0M63.0 448.0h6.6M63.0 452.0h6.6" stroke="#7e160c" stroke-width="1.0" fill="none"/>
<circle cx="66.3" cy="450.0" r="2.6" fill="#7e160c"/>
<path d="M47.2 456.3V460.3M43.9 456.3h6.6M43.9 460.3h6.6" stroke="#7e160c" stroke-width="1.0" fill="none"/>
<circle cx="47.2" cy="458.3" r="2.6" fill="#7e160c"/>
<path d="M53.8 454.7V458.7M50.5 454.7h6.6M50.5 458.7h6.6" stroke="#7e160c" stroke-width="1.0" fill="none"/>
<circle cx="53.8" cy="456.7" r="2.6" fill="#7e160c"/>
<path d="M79.2 459.3V467.3M75.9 459.3h6.6M75.9 467.3h6.6" stroke="#7e160c" stroke-width="1.0" fill="none"/>
<circle cx="79.2" cy="463.3" r="2.6" fill="#7e160c"/>
<path d="M91.7 425.5V433.5M88.4 425.5h6.6M88.4 433.5h6.6" stroke="#7e160c" stroke-width="1.0" fill="none"/>
<circle cx="91.7" cy="429.5" r="2.6" fill="#7e160c"/>
<path d="M98.0 421.2V427.2M94.7 421.2h6.6M94.7 427.2h6.6" stroke="#7e160c" stroke-width="1.0" fill="none"/>
<circle cx="98.0" cy="424.2" r="2.6" fill="#7e160c"/>
<path d="M101.3 427.0V433.0M98.0 427.0h6.6M98.0 433.0h6.6" stroke="#7e160c" stroke-width="1.0" fill="none"/>
<circle cx="101.3" cy="430.0" r="2.6" fill="#7e160c"/>
<path d="M104.2 432.8V438.8M100.9 432.8h6.6M100.9 438.8h6.6" stroke="#7e160c" stroke-width="1.0" fill="none"/>
<circle cx="104.2" cy="435.8" r="2.6" fill="#7e160c"/>
<path d="M98.0 452.2V462.2M94.7 452.2h6.6M94.7 462.2h6.6" stroke="#7e160c" stroke-width="1.0" fill="none"/>
<circle cx="98.0" cy="457.2" r="2.6" fill="#7e160c"/>
<path d="M110.5 427.0V433.0M107.2 427.0h6.6M107.2 433.0h6.6" stroke="#7e160c" stroke-width="1.0" fill="none"/>
<circle cx="110.5" cy="430.0" r="2.6" fill="#7e160c"/>
<path d="M116.7 412.0V418.0M113.4 412.0h6.6M113.4 418.0h6.6" stroke="#7e160c" stroke-width="1.0" fill="none"/>
<circle cx="116.7" cy="415.0" r="2.6" fill="#7e160c"/>
<path d="M123.3 416.0V424.0M120.0 416.0h6.6M120.0 424.0h6.6" stroke="#7e160c" stroke-width="1.0" fill="none"/>
<circle cx="123.3" cy="420.0" r="2.6" fill="#7e160c"/>
<path d="M129.5 430.0V436.0M126.2 430.0h6.6M126.2 436.0h6.6" stroke="#7e160c" stroke-width="1.0" fill="none"/>
<circle cx="129.5" cy="433.0" r="2.6" fill="#7e160c"/>
<path d="M145.8 404.5V410.5M142.5 404.5h6.6M142.5 410.5h6.6" stroke="#7e160c" stroke-width="1.0" fill="none"/>
<circle cx="145.8" cy="407.5" r="2.6" fill="#7e160c"/>
<path d="M155.0 405.7V411.7M151.7 405.7h6.6M151.7 411.7h6.6" stroke="#7e160c" stroke-width="1.0" fill="none"/>
<circle cx="155.0" cy="408.7" r="2.6" fill="#7e160c"/>
<path d="M173.8 390.3V396.3M170.5 390.3h6.6M170.5 396.3h6.6" stroke="#7e160c" stroke-width="1.0" fill="none"/>
<circle cx="173.8" cy="393.3" r="2.6" fill="#7e160c"/>
<path d="M192.8 315.2V323.2M189.5 315.2h6.6M189.5 323.2h6.6" stroke="#7e160c" stroke-width="1.0" fill="none"/>
<circle cx="192.8" cy="319.2" r="2.6" fill="#7e160c"/>
<path d="M199.5 313.2V319.2M196.2 313.2h6.6M196.2 319.2h6.6" stroke="#7e160c" stroke-width="1.0" fill="none"/>
<circle cx="199.5" cy="316.2" r="2.6" fill="#7e160c"/>
<path d="M211.7 314.0V320.0M208.4 314.0h6.6M208.4 320.0h6.6" stroke="#7e160c" stroke-width="1.0" fill="none"/>
<circle cx="211.7" cy="317.0" r="2.6" fill="#7e160c"/>
<path d="M211.7 317.2V335.2M208.4 317.2h6.6M208.4 335.2h6.6" stroke="#7e160c" stroke-width="1.0" fill="none"/>
<circle cx="211.7" cy="326.2" r="2.6" fill="#7e160c"/>
<path d="M186.7 350.5V358.5M183.4 350.5h6.6M183.4 358.5h6.6" stroke="#7e160c" stroke-width="1.0" fill="none"/>
<circle cx="186.7" cy="354.5" r="2.6" fill="#7e160c"/>
<path d="M180.3 359.3V367.3M177.0 359.3h6.6M177.0 367.3h6.6" stroke="#7e160c" stroke-width="1.0" fill="none"/>
<circle cx="180.3" cy="363.3" r="2.6" fill="#7e160c"/>
<path d="M167.5 368.8V376.8M164.2 368.8h6.6M164.2 376.8h6.6" stroke="#7e160c" stroke-width="1.0" fill="none"/>
<circle cx="167.5" cy="372.8" r="2.6" fill="#7e160c"/>
<path d="M155.0 369.3V377.3M151.7 369.3h6.6M151.7 377.3h6.6" stroke="#7e160c" stroke-width="1.0" fill="none"/>
<circle cx="155.0" cy="373.3" r="2.6" fill="#7e160c"/>
<path d="M240.3 272.7V281.7M237.0 272.7h6.6M237.0 281.7h6.6" stroke="#7e160c" stroke-width="1.0" fill="none"/>
<circle cx="240.3" cy="277.2" r="2.6" fill="#7e160c"/>
<path d="M230.6 298.5V306.5M227.3 298.5h6.6M227.3 306.5h6.6" stroke="#7e160c" stroke-width="1.0" fill="none"/>
<circle cx="230.6" cy="302.5" r="2.6" fill="#7e160c"/>
<path d="M237.3 306.0V314.0M234.0 306.0h6.6M234.0 314.0h6.6" stroke="#7e160c" stroke-width="1.0" fill="none"/>
<circle cx="237.3" cy="310.0" r="2.6" fill="#7e160c"/>
<path d="M234.1 311.5V319.5M230.8 311.5h6.6M230.8 319.5h6.6" stroke="#7e160c" stroke-width="1.0" fill="none"/>
<circle cx="234.1" cy="315.5" r="2.6" fill="#7e160c"/>
<path d="M262.7 315.3V331.3M259.4 315.3h6.6M259.4 331.3h6.6" stroke="#7e160c" stroke-width="1.0" fill="none"/>
<circle cx="262.7" cy="323.3" r="2.6" fill="#7e160c"/>
<path d="M250.2 324.8V332.8M246.9 324.8h6.6M246.9 332.8h6.6" stroke="#7e160c" stroke-width="1.0" fill="none"/>
<circle cx="250.2" cy="328.8" r="2.6" fill="#7e160c"/>
<path d="M256.1 323.2V331.2M252.8 323.2h6.6M252.8 331.2h6.6" stroke="#7e160c" stroke-width="1.0" fill="none"/>
<circle cx="256.1" cy="327.2" r="2.6" fill="#7e160c"/>
<path d="M253.0 331.3V341.3M249.7 331.3h6.6M249.7 341.3h6.6" stroke="#7e160c" stroke-width="1.0" fill="none"/>
<circle cx="253.0" cy="336.3" r="2.6" fill="#7e160c"/>
<path d="M256.1 331.0V339.0M252.8 331.0h6.6M252.8 339.0h6.6" stroke="#7e160c" stroke-width="1.0" fill="none"/>
<circle cx="256.1" cy="335.0" r="2.6" fill="#7e160c"/>
<path d="M246.7 333.8V341.8M243.4 333.8h6.6M243.4 341.8h6.6" stroke="#7e160c" stroke-width="1.0" fill="none"/>
<circle cx="246.7" cy="337.8" r="2.6" fill="#7e160c"/>
<path d="M243.6 340.4V348.4M240.3 340.4h6.6M240.3 348.4h6.6" stroke="#7e160c" stroke-width="1.0" fill="none"/>
<circle cx="243.6" cy="344.4" r="2.6" fill="#7e160c"/>
<path d="M246.7 337.8V347.8M243.4 337.8h6.6M243.4 347.8h6.6" stroke="#7e160c" stroke-width="1.0" fill="none"/>
<circle cx="246.7" cy="342.8" r="2.6" fill="#7e160c"/>
<path d="M250.2 338.8V346.8M246.9 338.8h6.6M246.9 346.8h6.6" stroke="#7e160c" stroke-width="1.0" fill="none"/>
<circle cx="250.2" cy="342.8" r="2.6" fill="#7e160c"/>
<path d="M262.7 335.2V355.2M259.4 335.2h6.6M259.4 355.2h6.6" stroke="#7e160c" stroke-width="1.0" fill="none"/>
<circle cx="262.7" cy="345.2" r="2.6" fill="#7e160c"/>
<path d="M259.5 348.4V358.4M256.2 348.4h6.6M256.2 358.4h6.6" stroke="#7e160c" stroke-width="1.0" fill="none"/>
<circle cx="259.5" cy="353.4" r="2.6" fill="#7e160c"/>
<path d="M268.9 333.6V357.6M265.6 333.6h6.6M265.6 357.6h6.6" stroke="#7e160c" stroke-width="1.0" fill="none"/>
<circle cx="268.9" cy="345.6" r="2.6" fill="#7e160c"/>
<path d="M272.0 333.7V359.7M268.7 333.7h6.6M268.7 359.7h6.6" stroke="#7e160c" stroke-width="1.0" fill="none"/>
<circle cx="272.0" cy="346.7" r="2.6" fill="#7e160c"/>
<path d="M275.2 321.7V347.7M271.9 321.7h6.6M271.9 347.7h6.6" stroke="#7e160c" stroke-width="1.0" fill="none"/>
<circle cx="275.2" cy="334.7" r="2.6" fill="#7e160c"/>
<path d="M281.7 314.1V348.1M278.4 314.1h6.6M278.4 348.1h6.6" stroke="#7e160c" stroke-width="1.0" fill="none"/>
<circle cx="281.7" cy="331.1" r="2.6" fill="#7e160c"/>
<path d="M281.7 342.7V382.7M278.4 342.7h6.6M278.4 382.7h6.6" stroke="#7e160c" stroke-width="1.0" fill="none"/>
<circle cx="281.7" cy="362.7" r="2.6" fill="#7e160c"/>
<path d="M287.7 356.0V400.0M284.4 356.0h6.6M284.4 400.0h6.6" stroke="#7e160c" stroke-width="1.0" fill="none"/>
<circle cx="287.7" cy="378.0" r="2.6" fill="#7e160c"/>
<path d="M287.9 374.8V414.8M284.6 374.8h6.6M284.6 414.8h6.6" stroke="#7e160c" stroke-width="1.0" fill="none"/>
<circle cx="287.9" cy="394.8" r="2.6" fill="#7e160c"/>
<path d="M290.8 375.6V425.6M287.5 375.6h6.6M287.5 425.6h6.6" stroke="#7e160c" stroke-width="1.0" fill="none"/>
<circle cx="290.8" cy="400.6" r="2.6" fill="#7e160c"/>
<path d="M40.8 457.2V461.2M37.5 457.2h6.6M37.5 461.2h6.6" stroke="#0f580f" stroke-width="1.0" fill="none"/>
<circle cx="40.8" cy="459.2" r="2.6" fill="#0f580f"/>
<path d="M53.8 450.0V460.0M50.5 450.0h6.6M50.5 460.0h6.6" stroke="#0f580f" stroke-width="1.0" fill="none"/>
<circle cx="53.8" cy="455.0" r="2.6" fill="#0f580f"/>
<path d="M53.8 442.2V446.2M50.5 442.2h6.6M50.5 446.2h6.6" stroke="#0f580f" stroke-width="1.0" fill="none"/>
<circle cx="53.8" cy="444.2" r="2.6" fill="#0f580f"/>
<path d="M66.3 459.7V463.7M63.0 459.7h6.6M63.0 463.7h6.6" stroke="#0f580f" stroke-width="1.0" fill="none"/>
<circle cx="66.3" cy="461.7" r="2.6" fill="#0f580f"/>
<path d="M72.8 441.2V447.2M69.5 441.2h6.6M69.5 447.2h6.6" stroke="#0f580f" stroke-width="1.0" fill="none"/>
<circle cx="72.8" cy="444.2" r="2.6" fill="#0f580f"/>
<path d="M72.8 445.5V449.5M69.5 445.5h6.6M69.5 449.5h6.6" stroke="#0f580f" stroke-width="1.0" fill="none"/>
<circle cx="72.8" cy="447.5" r="2.6" fill="#0f580f"/>
<path d="M79.2 443.5V447.5M75.9 443.5h6.6M75.9 447.5h6.6" stroke="#0f580f" stroke-width="1.0" fill="none"/>
<circle cx="79.2" cy="445.5" r="2.6" fill="#0f580f"/>
<path d="M75.8 446.3V450.3M72.5 446.3h6.6M72.5 450.3h6.6" stroke="#0f580f" stroke-width="1.0" fill="none"/>
<circle cx="75.8" cy="448.3" r="2.6" fill="#0f580f"/>
<path d="M85.0 446.0V450.0M81.7 446.0h6.6M81.7 450.0h6.6" stroke="#0f580f" stroke-width="1.0" fill="none"/>
<circle cx="85.0" cy="448.0" r="2.6" fill="#0f580f"/>
<path d="M91.7 439.3V447.3M88.4 439.3h6.6M88.4 447.3h6.6" stroke="#0f580f" stroke-width="1.0" fill="none"/>
<circle cx="91.7" cy="443.3" r="2.6" fill="#0f580f"/>
<path d="M98.0 433.2V439.2M94.7 433.2h6.6M94.7 439.2h6.6" stroke="#0f580f" stroke-width="1.0" fill="none"/>
<circle cx="98.0" cy="436.2" r="2.6" fill="#0f580f"/>
<path d="M110.5 421.2V427.2M107.2 421.2h6.6M107.2 427.2h6.6" stroke="#0f580f" stroke-width="1.0" fill="none"/>
<circle cx="110.5" cy="424.2" r="2.6" fill="#0f580f"/>
<path d="M116.7 422.2V426.2M113.4 422.2h6.6M113.4 426.2h6.6" stroke="#0f580f" stroke-width="1.0" fill="none"/>
<circle cx="116.7" cy="424.2" r="2.6" fill="#0f580f"/>
<path d="M123.3 429.0V435.0M120.0 429.0h6.6M120.0 435.0h6.6" stroke="#0f580f" stroke-width="1.0" fill="none"/>
<circle cx="123.3" cy="432.0" r="2.6" fill="#0f580f"/>
<path d="M129.5 423.5V431.5M126.2 423.5h6.6M126.2 431.5h6.6" stroke="#0f580f" stroke-width="1.0" fill="none"/>
<circle cx="129.5" cy="427.5" r="2.6" fill="#0f580f"/>
<path d="M129.5 428.7V434.7M126.2 428.7h6.6M126.2 434.7h6.6" stroke="#0f580f" stroke-width="1.0" fill="none"/>
<circle cx="129.5" cy="431.7" r="2.6" fill="#0f580f"/>
<path d="M135.8 425.3V431.3M132.5 425.3h6.6M132.5 431.3h6.6" stroke="#0f580f" stroke-width="1.0" fill="none"/>
<circle cx="135.8" cy="428.3" r="2.6" fill="#0f580f"/>
<path d="M142.5 421.7V427.7M139.2 421.7h6.6M139.2 427.7h6.6" stroke="#0f580f" stroke-width="1.0" fill="none"/>
<circle cx="142.5" cy="424.7" r="2.6" fill="#0f580f"/>
<path d="M151.7 424.3V432.3M148.4 424.3h6.6M148.4 432.3h6.6" stroke="#0f580f" stroke-width="1.0" fill="none"/>
<circle cx="151.7" cy="428.3" r="2.6" fill="#0f580f"/>
<path d="M155.0 422.3V430.3M151.7 422.3h6.6M151.7 430.3h6.6" stroke="#0f580f" stroke-width="1.0" fill="none"/>
<circle cx="155.0" cy="426.3" r="2.6" fill="#0f580f"/>
<path d="M155.0 425.0V439.0M151.7 425.0h6.6M151.7 439.0h6.6" stroke="#0f580f" stroke-width="1.0" fill="none"/>
<circle cx="155.0" cy="432.0" r="2.6" fill="#0f580f"/>
<path d="M173.8 406.0V414.0M170.5 406.0h6.6M170.5 414.0h6.6" stroke="#0f580f" stroke-width="1.0" fill="none"/>
<circle cx="173.8" cy="410.0" r="2.6" fill="#0f580f"/>
<path d="M173.8 413.7V423.7M170.5 413.7h6.6M170.5 423.7h6.6" stroke="#0f580f" stroke-width="1.0" fill="none"/>
<circle cx="173.8" cy="418.7" r="2.6" fill="#0f580f"/>
<path d="M180.0 404.3V416.3M176.7 404.3h6.6M176.7 416.3h6.6" stroke="#0f580f" stroke-width="1.0" fill="none"/>
<circle cx="180.0" cy="410.3" r="2.6" fill="#0f580f"/>
<path d="M180.0 414.2V424.2M176.7 414.2h6.6M176.7 424.2h6.6" stroke="#0f580f" stroke-width="1.0" fill="none"/>
<circle cx="180.0" cy="419.2" r="2.6" fill="#0f580f"/>
<path d="M180.0 418.0V428.0M176.7 418.0h6.6M176.7 428.0h6.6" stroke="#0f580f" stroke-width="1.0" fill="none"/>
<circle cx="180.0" cy="423.0" r="2.6" fill="#0f580f"/>
<path d="M186.7 393.7V409.7M183.4 393.7h6.6M183.4 409.7h6.6" stroke="#0f580f" stroke-width="1.0" fill="none"/>
<circle cx="186.7" cy="401.7" r="2.6" fill="#0f580f"/>
<path d="M189.2 390.3V406.3M185.9 390.3h6.6M185.9 406.3h6.6" stroke="#0f580f" stroke-width="1.0" fill="none"/>
<circle cx="189.2" cy="398.3" r="2.6" fill="#0f580f"/>
<path d="M186.7 419.2V429.2M183.4 419.2h6.6M183.4 429.2h6.6" stroke="#0f580f" stroke-width="1.0" fill="none"/>
<circle cx="186.7" cy="424.2" r="2.6" fill="#0f580f"/>
<path d="M202.5 392.8V408.8M199.2 392.8h6.6M199.2 408.8h6.6" stroke="#0f580f" stroke-width="1.0" fill="none"/>
<circle cx="202.5" cy="400.8" r="2.6" fill="#0f580f"/>
<path d="M199.2 414.5V430.5M195.9 414.5h6.6M195.9 430.5h6.6" stroke="#0f580f" stroke-width="1.0" fill="none"/>
<circle cx="199.2" cy="422.5" r="2.6" fill="#0f580f"/>
<path d="M205.8 416.0V430.0M202.5 416.0h6.6M202.5 430.0h6.6" stroke="#0f580f" stroke-width="1.0" fill="none"/>
<circle cx="205.8" cy="423.0" r="2.6" fill="#0f580f"/>
<path d="M211.7 412.0V424.0M208.4 412.0h6.6M208.4 424.0h6.6" stroke="#0f580f" stroke-width="1.0" fill="none"/>
<circle cx="211.7" cy="418.0" r="2.6" fill="#0f580f"/>
<path d="M155.0 474.5V480.5M151.7 474.5h6.6M151.7 480.5h6.6" stroke="#0f580f" stroke-width="1.0" fill="none"/>
<circle cx="155.0" cy="477.5" r="2.6" fill="#0f580f"/>
<path d="M230.0 402.2V416.2M226.7 402.2h6.6M226.7 416.2h6.6" stroke="#0f580f" stroke-width="1.0" fill="none"/>
<circle cx="230.0" cy="409.2" r="2.6" fill="#0f580f"/>
<path d="M230.7 402.0V416.0M227.4 402.0h6.6M227.4 416.0h6.6" stroke="#0f580f" stroke-width="1.0" fill="none"/>
<circle cx="230.7" cy="409.0" r="2.6" fill="#0f580f"/>
<path d="M237.2 401.0V417.0M233.9 401.0h6.6M233.9 417.0h6.6" stroke="#0f580f" stroke-width="1.0" fill="none"/>
<circle cx="237.2" cy="409.0" r="2.6" fill="#0f580f"/>
<path d="M243.4 408.6V424.6M240.1 408.6h6.6M240.1 424.6h6.6" stroke="#0f580f" stroke-width="1.0" fill="none"/>
<circle cx="243.4" cy="416.6" r="2.6" fill="#0f580f"/>
<path d="M246.8 399.2V415.2M243.5 399.2h6.6M243.5 415.2h6.6" stroke="#0f580f" stroke-width="1.0" fill="none"/>
<circle cx="246.8" cy="407.2" r="2.6" fill="#0f580f"/>
<path d="M256.5 381.7V413.7M253.2 381.7h6.6M253.2 413.7h6.6" stroke="#0f580f" stroke-width="1.0" fill="none"/>
<circle cx="256.5" cy="397.7" r="2.6" fill="#0f580f"/>
<path d="M256.5 407.2V423.2M253.2 407.2h6.6M253.2 423.2h6.6" stroke="#0f580f" stroke-width="1.0" fill="none"/>
<circle cx="256.5" cy="415.2" r="2.6" fill="#0f580f"/>
<path d="M250.0 416.0V432.0M246.7 416.0h6.6M246.7 432.0h6.6" stroke="#0f580f" stroke-width="1.0" fill="none"/>
<circle cx="250.0" cy="424.0" r="2.6" fill="#0f580f"/>
<path d="M259.5 405.0V421.0M256.2 405.0h6.6M256.2 421.0h6.6" stroke="#0f580f" stroke-width="1.0" fill="none"/>
<circle cx="259.5" cy="413.0" r="2.6" fill="#0f580f"/>
<path d="M262.4 406.0V426.0M259.1 406.0h6.6M259.1 426.0h6.6" stroke="#0f580f" stroke-width="1.0" fill="none"/>
<circle cx="262.4" cy="416.0" r="2.6" fill="#0f580f"/>
<path d="M265.7 389.2V409.2M262.4 389.2h6.6M262.4 409.2h6.6" stroke="#0f580f" stroke-width="1.0" fill="none"/>
<circle cx="265.7" cy="399.2" r="2.6" fill="#0f580f"/>
<path d="M269.0 392.3V416.3M265.7 392.3h6.6M265.7 416.3h6.6" stroke="#0f580f" stroke-width="1.0" fill="none"/>
<circle cx="269.0" cy="404.3" r="2.6" fill="#0f580f"/>
<path d="M274.8 401.5V421.5M271.5 401.5h6.6M271.5 421.5h6.6" stroke="#0f580f" stroke-width="1.0" fill="none"/>
<circle cx="274.8" cy="411.5" r="2.6" fill="#0f580f"/>
<path d="M274.8 404.4V428.4M271.5 404.4h6.6M271.5 428.4h6.6" stroke="#0f580f" stroke-width="1.0" fill="none"/>
<circle cx="274.8" cy="416.4" r="2.6" fill="#0f580f"/>
<path d="M278.0 375.8V391.8M274.7 375.8h6.6M274.7 391.8h6.6" stroke="#0f580f" stroke-width="1.0" fill="none"/>
<circle cx="278.0" cy="383.8" r="2.6" fill="#0f580f"/>
<path d="M285.0 391.5V415.5M281.7 391.5h6.6M281.7 415.5h6.6" stroke="#0f580f" stroke-width="1.0" fill="none"/>
<circle cx="285.0" cy="403.5" r="2.6" fill="#0f580f"/>
<path d="M287.9 401.0V425.0M284.6 401.0h6.6M284.6 425.0h6.6" stroke="#0f580f" stroke-width="1.0" fill="none"/>
<circle cx="287.9" cy="413.0" r="2.6" fill="#0f580f"/>
<path d="M285.0 421.6V449.6M281.7 421.6h6.6M281.7 449.6h6.6" stroke="#0f580f" stroke-width="1.0" fill="none"/>
<circle cx="285.0" cy="435.6" r="2.6" fill="#0f580f"/>
<path d="M287.9 421.6V449.6M284.6 421.6h6.6M284.6 449.6h6.6" stroke="#0f580f" stroke-width="1.0" fill="none"/>
<circle cx="287.9" cy="435.6" r="2.6" fill="#0f580f"/>
<path d="M278.0 435.6V467.6M274.7 435.6h6.6M274.7 467.6h6.6" stroke="#0f580f" stroke-width="1.0" fill="none"/>
<circle cx="278.0" cy="451.6" r="2.6" fill="#0f580f"/>
<path d="M290.8 430.1V490.1M287.5 430.1h6.6M287.5 490.1h6.6" stroke="#0f580f" stroke-width="1.0" fill="none"/>
<circle cx="290.8" cy="460.1" r="2.6" fill="#0f580f"/>
<path d="M275.5 466.5V496.5M272.2 466.5h6.6M272.2 496.5h6.6" stroke="#0f580f" stroke-width="1.0" fill="none"/>
<circle cx="275.5" cy="481.5" r="2.6" fill="#0f580f"/>
<path d="M72.8 411.7V425.7M69.5 411.7h6.6M69.5 425.7h6.6" stroke="#10106e" stroke-width="1.0" fill="none"/>
<circle cx="72.8" cy="418.7" r="2.6" fill="#10106e"/>
<path d="M40.8 447.3V459.3M37.5 447.3h6.6M37.5 459.3h6.6" stroke="#10106e" stroke-width="1.0" fill="none"/>
<circle cx="40.8" cy="453.3" r="2.6" fill="#10106e"/>
<path d="M40.8 459.8V465.8M37.5 459.8h6.6M37.5 465.8h6.6" stroke="#10106e" stroke-width="1.0" fill="none"/>
<circle cx="40.8" cy="462.8" r="2.6" fill="#10106e"/>
<path d="M47.2 452.8V458.8M43.9 452.8h6.6M43.9 458.8h6.6" stroke="#10106e" stroke-width="1.0" fill="none"/>
<circle cx="47.2" cy="455.8" r="2.6" fill="#10106e"/>
<path d="M53.8 444.3V452.3M50.5 444.3h6.6M50.5 452.3h6.6" stroke="#10106e" stroke-width="1.0" fill="none"/>
<circle cx="53.8" cy="448.3" r="2.6" fill="#10106e"/>
<path d="M53.8 470.8V476.8M50.5 470.8h6.6M50.5 476.8h6.6" stroke="#10106e" stroke-width="1.0" fill="none"/>
<circle cx="53.8" cy="473.8" r="2.6" fill="#10106e"/>
<path d="M72.8 434.3V442.3M69.5 434.3h6.6M69.5 442.3h6.6" stroke="#10106e" stroke-width="1.0" fill="none"/>
<circle cx="72.8" cy="438.3" r="2.6" fill="#10106e"/>
<path d="M85.0 435.7V441.7M81.7 435.7h6.6M81.7 441.7h6.6" stroke="#10106e" stroke-width="1.0" fill="none"/>
<circle cx="85.0" cy="438.7" r="2.6" fill="#10106e"/>
<path d="M91.7 415.7V421.7M88.4 415.7h6.6M88.4 421.7h6.6" stroke="#10106e" stroke-width="1.0" fill="none"/>
<circle cx="91.7" cy="418.7" r="2.6" fill="#10106e"/>
<path d="M104.2 424.0V430.0M100.9 424.0h6.6M100.9 430.0h6.6" stroke="#10106e" stroke-width="1.0" fill="none"/>
<circle cx="104.2" cy="427.0" r="2.6" fill="#10106e"/>
<path d="M110.5 412.5V418.5M107.2 412.5h6.6M107.2 418.5h6.6" stroke="#10106e" stroke-width="1.0" fill="none"/>
<circle cx="110.5" cy="415.5" r="2.6" fill="#10106e"/>
<path d="M110.5 450.0V456.0M107.2 450.0h6.6M107.2 456.0h6.6" stroke="#10106e" stroke-width="1.0" fill="none"/>
<circle cx="110.5" cy="453.0" r="2.6" fill="#10106e"/>
<path d="M116.7 413.5V421.5M113.4 413.5h6.6M113.4 421.5h6.6" stroke="#10106e" stroke-width="1.0" fill="none"/>
<circle cx="116.7" cy="417.5" r="2.6" fill="#10106e"/>
<path d="M116.7 418.7V434.7M113.4 418.7h6.6M113.4 434.7h6.6" stroke="#10106e" stroke-width="1.0" fill="none"/>
<circle cx="116.7" cy="426.7" r="2.6" fill="#10106e"/>
<path d="M116.7 429.3V437.3M113.4 429.3h6.6M113.4 437.3h6.6" stroke="#10106e" stroke-width="1.0" fill="none"/>
<circle cx="116.7" cy="433.3" r="2.6" fill="#10106e"/>
<path d="M123.3 406.0V414.0M120.0 406.0h6.6M120.0 414.0h6.6" stroke="#10106e" stroke-width="1.0" fill="none"/>
<circle cx="123.3" cy="410.0" r="2.6" fill="#10106e"/>
<path d="M123.3 419.7V427.7M120.0 419.7h6.6M120.0 427.7h6.6" stroke="#10106e" stroke-width="1.0" fill="none"/>
<circle cx="123.3" cy="423.7" r="2.6" fill="#10106e"/>
<path d="M129.5 415.7V421.7M126.2 415.7h6.6M126.2 421.7h6.6" stroke="#10106e" stroke-width="1.0" fill="none"/>
<circle cx="129.5" cy="418.7" r="2.6" fill="#10106e"/>
<path d="M148.8 391.2V397.2M145.5 391.2h6.6M145.5 397.2h6.6" stroke="#10106e" stroke-width="1.0" fill="none"/>
<circle cx="148.8" cy="394.2" r="2.6" fill="#10106e"/>
<path d="M155.0 393.7V409.7M151.7 393.7h6.6M151.7 409.7h6.6" stroke="#10106e" stroke-width="1.0" fill="none"/>
<circle cx="155.0" cy="401.7" r="2.6" fill="#10106e"/>
<path d="M142.5 406.3V416.3M139.2 406.3h6.6M139.2 416.3h6.6" stroke="#10106e" stroke-width="1.0" fill="none"/>
<circle cx="142.5" cy="411.3" r="2.6" fill="#10106e"/>
<path d="M135.8 412.8V418.8M132.5 412.8h6.6M132.5 418.8h6.6" stroke="#10106e" stroke-width="1.0" fill="none"/>
<circle cx="135.8" cy="415.8" r="2.6" fill="#10106e"/>
<path d="M142.5 414.3V422.3M139.2 414.3h6.6M139.2 422.3h6.6" stroke="#10106e" stroke-width="1.0" fill="none"/>
<circle cx="142.5" cy="418.3" r="2.6" fill="#10106e"/>
<path d="M142.5 418.7V424.7M139.2 418.7h6.6M139.2 424.7h6.6" stroke="#10106e" stroke-width="1.0" fill="none"/>
<circle cx="142.5" cy="421.7" r="2.6" fill="#10106e"/>
<path d="M148.8 418.5V426.5M145.5 418.5h6.6M145.5 426.5h6.6" stroke="#10106e" stroke-width="1.0" fill="none"/>
<circle cx="148.8" cy="422.5" r="2.6" fill="#10106e"/>
<path d="M161.7 412.7V430.7M158.4 412.7h6.6M158.4 430.7h6.6" stroke="#10106e" stroke-width="1.0" fill="none"/>
<circle cx="161.7" cy="421.7" r="2.6" fill="#10106e"/>
<path d="M167.8 397.7V405.7M164.5 397.7h6.6M164.5 405.7h6.6" stroke="#10106e" stroke-width="1.0" fill="none"/>
<circle cx="167.8" cy="401.7" r="2.6" fill="#10106e"/>
<path d="M167.8 413.0V423.0M164.5 413.0h6.6M164.5 423.0h6.6" stroke="#10106e" stroke-width="1.0" fill="none"/>
<circle cx="167.8" cy="418.0" r="2.6" fill="#10106e"/>
<path d="M167.8 418.0V428.0M164.5 418.0h6.6M164.5 428.0h6.6" stroke="#10106e" stroke-width="1.0" fill="none"/>
<circle cx="167.8" cy="423.0" r="2.6" fill="#10106e"/>
<path d="M170.8 415.8V425.8M167.5 415.8h6.6M167.5 425.8h6.6" stroke="#10106e" stroke-width="1.0" fill="none"/>
<circle cx="170.8" cy="420.8" r="2.6" fill="#10106e"/>
<path d="M173.8 384.0V406.0M170.5 384.0h6.6M170.5 406.0h6.6" stroke="#10106e" stroke-width="1.0" fill="none"/>
<circle cx="173.8" cy="395.0" r="2.6" fill="#10106e"/>
<path d="M183.3 408.7V420.7M180.0 408.7h6.6M180.0 420.7h6.6" stroke="#10106e" stroke-width="1.0" fill="none"/>
<circle cx="183.3" cy="414.7" r="2.6" fill="#10106e"/>
<path d="M186.7 388.0V408.0M183.4 388.0h6.6M183.4 408.0h6.6" stroke="#10106e" stroke-width="1.0" fill="none"/>
<circle cx="186.7" cy="398.0" r="2.6" fill="#10106e"/>
<path d="M186.7 409.0V431.0M183.4 409.0h6.6M183.4 431.0h6.6" stroke="#10106e" stroke-width="1.0" fill="none"/>
<circle cx="186.7" cy="420.0" r="2.6" fill="#10106e"/>
<path d="M193.0 381.7V407.7M189.7 381.7h6.6M189.7 407.7h6.6" stroke="#10106e" stroke-width="1.0" fill="none"/>
<circle cx="193.0" cy="394.7" r="2.6" fill="#10106e"/>
<path d="M193.0 405.0V425.0M189.7 405.0h6.6M189.7 425.0h6.6" stroke="#10106e" stroke-width="1.0" fill="none"/>
<circle cx="193.0" cy="415.0" r="2.6" fill="#10106e"/>
<path d="M199.2 400.5V424.5M195.9 400.5h6.6M195.9 424.5h6.6" stroke="#10106e" stroke-width="1.0" fill="none"/>
<circle cx="199.2" cy="412.5" r="2.6" fill="#10106e"/>
<path d="M211.7 397.8V423.8M208.4 397.8h6.6M208.4 423.8h6.6" stroke="#10106e" stroke-width="1.0" fill="none"/>
<circle cx="211.7" cy="410.8" r="2.6" fill="#10106e"/>
<path d="M237.2 365.8V399.8M233.9 365.8h6.6M233.9 399.8h6.6" stroke="#10106e" stroke-width="1.0" fill="none"/>
<circle cx="237.2" cy="382.8" r="2.6" fill="#10106e"/>
<path d="M243.4 369.6V399.6M240.1 369.6h6.6M240.1 399.6h6.6" stroke="#10106e" stroke-width="1.0" fill="none"/>
<circle cx="243.4" cy="384.6" r="2.6" fill="#10106e"/>
<path d="M237.2 387.2V411.2M233.9 387.2h6.6M233.9 411.2h6.6" stroke="#10106e" stroke-width="1.0" fill="none"/>
<circle cx="237.2" cy="399.2" r="2.6" fill="#10106e"/>
<path d="M243.4 393.5V413.5M240.1 393.5h6.6M240.1 413.5h6.6" stroke="#10106e" stroke-width="1.0" fill="none"/>
<circle cx="243.4" cy="403.5" r="2.6" fill="#10106e"/>
<path d="M250.0 381.7V413.7M246.7 381.7h6.6M246.7 413.7h6.6" stroke="#10106e" stroke-width="1.0" fill="none"/>
<circle cx="250.0" cy="397.7" r="2.6" fill="#10106e"/>
<path d="M234.0 401.0V425.0M230.7 401.0h6.6M230.7 425.0h6.6" stroke="#10106e" stroke-width="1.0" fill="none"/>
<circle cx="234.0" cy="413.0" r="2.6" fill="#10106e"/>
<path d="M237.2 405.4V429.4M233.9 405.4h6.6M233.9 429.4h6.6" stroke="#10106e" stroke-width="1.0" fill="none"/>
<circle cx="237.2" cy="417.4" r="2.6" fill="#10106e"/>
<path d="M240.5 401.0V425.0M237.2 401.0h6.6M237.2 425.0h6.6" stroke="#10106e" stroke-width="1.0" fill="none"/>
<circle cx="240.5" cy="413.0" r="2.6" fill="#10106e"/>
<path d="M250.0 400.8V420.8M246.7 400.8h6.6M246.7 420.8h6.6" stroke="#10106e" stroke-width="1.0" fill="none"/>
<circle cx="250.0" cy="410.8" r="2.6" fill="#10106e"/>
<path d="M250.0 410.3V430.3M246.7 410.3h6.6M246.7 430.3h6.6" stroke="#10106e" stroke-width="1.0" fill="none"/>
<circle cx="250.0" cy="420.3" r="2.6" fill="#10106e"/>
<path d="M253.2 407.6V431.6M249.9 407.6h6.6M249.9 431.6h6.6" stroke="#10106e" stroke-width="1.0" fill="none"/>
<circle cx="253.2" cy="419.6" r="2.6" fill="#10106e"/>
<path d="M256.5 414.7V434.7M253.2 414.7h6.6M253.2 434.7h6.6" stroke="#10106e" stroke-width="1.0" fill="none"/>
<circle cx="256.5" cy="424.7" r="2.6" fill="#10106e"/>
<path d="M262.4 397.5V425.5M259.1 397.5h6.6M259.1 425.5h6.6" stroke="#10106e" stroke-width="1.0" fill="none"/>
<circle cx="262.4" cy="411.5" r="2.6" fill="#10106e"/>
<path d="M274.8 386.6V414.6M271.5 386.6h6.6M271.5 414.6h6.6" stroke="#10106e" stroke-width="1.0" fill="none"/>
<circle cx="274.8" cy="400.6" r="2.6" fill="#10106e"/>
</g>
<rect x="34.60" y="249.70" width="259.40" height="232.00" fill="none" stroke="#222" stroke-width="1.3"/>
<line x1="40.93" y1="481.70" x2="40.93" y2="477.20" stroke="#222" stroke-width="1.1"/>
<line x1="40.93" y1="249.70" x2="40.93" y2="254.20" stroke="#222" stroke-width="1.1"/>
<line x1="53.58" y1="481.70" x2="53.58" y2="479.20" stroke="#222" stroke-width="1.1"/>
<line x1="53.58" y1="249.70" x2="53.58" y2="252.20" stroke="#222" stroke-width="1.1"/>
<line x1="66.23" y1="481.70" x2="66.23" y2="479.20" stroke="#222" stroke-width="1.1"/>
<line x1="66.23" y1="249.70" x2="66.23" y2="252.20" stroke="#222" stroke-width="1.1"/>
<line x1="78.89" y1="481.70" x2="78.89" y2="479.20" stroke="#222" stroke-width="1.1"/>
<line x1="78.89" y1="249.70" x2="78.89" y2="252.20" stroke="#222" stroke-width="1.1"/>
<line x1="91.54" y1="481.70" x2="91.54" y2="479.20" stroke="#222" stroke-width="1.1"/>
<line x1="91.54" y1="249.70" x2="91.54" y2="252.20" stroke="#222" stroke-width="1.1"/>
<line x1="104.20" y1="481.70" x2="104.20" y2="477.20" stroke="#222" stroke-width="1.1"/>
<line x1="104.20" y1="249.70" x2="104.20" y2="254.20" stroke="#222" stroke-width="1.1"/>
<line x1="116.85" y1="481.70" x2="116.85" y2="479.20" stroke="#222" stroke-width="1.1"/>
<line x1="116.85" y1="249.70" x2="116.85" y2="252.20" stroke="#222" stroke-width="1.1"/>
<line x1="129.50" y1="481.70" x2="129.50" y2="479.20" stroke="#222" stroke-width="1.1"/>
<line x1="129.50" y1="249.70" x2="129.50" y2="252.20" stroke="#222" stroke-width="1.1"/>
<line x1="142.16" y1="481.70" x2="142.16" y2="479.20" stroke="#222" stroke-width="1.1"/>
<line x1="142.16" y1="249.70" x2="142.16" y2="252.20" stroke="#222" stroke-width="1.1"/>
<line x1="154.81" y1="481.70" x2="154.81" y2="479.20" stroke="#222" stroke-width="1.1"/>
<line x1="154.81" y1="249.70" x2="154.81" y2="252.20" stroke="#222" stroke-width="1.1"/>
<line x1="167.46" y1="481.70" x2="167.46" y2="477.20" stroke="#222" stroke-width="1.1"/>
<line x1="167.46" y1="249.70" x2="167.46" y2="254.20" stroke="#222" stroke-width="1.1"/>
<line x1="180.12" y1="481.70" x2="180.12" y2="479.20" stroke="#222" stroke-width="1.1"/>
<line x1="180.12" y1="249.70" x2="180.12" y2="252.20" stroke="#222" stroke-width="1.1"/>
<line x1="192.77" y1="481.70" x2="192.77" y2="479.20" stroke="#222" stroke-width="1.1"/>
<line x1="192.77" y1="249.70" x2="192.77" y2="252.20" stroke="#222" stroke-width="1.1"/>
<line x1="205.42" y1="481.70" x2="205.42" y2="479.20" stroke="#222" stroke-width="1.1"/>
<line x1="205.42" y1="249.70" x2="205.42" y2="252.20" stroke="#222" stroke-width="1.1"/>
<line x1="218.08" y1="481.70" x2="218.08" y2="479.20" stroke="#222" stroke-width="1.1"/>
<line x1="218.08" y1="249.70" x2="218.08" y2="252.20" stroke="#222" stroke-width="1.1"/>
<line x1="230.73" y1="481.70" x2="230.73" y2="477.20" stroke="#222" stroke-width="1.1"/>
<line x1="230.73" y1="249.70" x2="230.73" y2="254.20" stroke="#222" stroke-width="1.1"/>
<line x1="243.39" y1="481.70" x2="243.39" y2="479.20" stroke="#222" stroke-width="1.1"/>
<line x1="243.39" y1="249.70" x2="243.39" y2="252.20" stroke="#222" stroke-width="1.1"/>
<line x1="256.04" y1="481.70" x2="256.04" y2="479.20" stroke="#222" stroke-width="1.1"/>
<line x1="256.04" y1="249.70" x2="256.04" y2="252.20" stroke="#222" stroke-width="1.1"/>
<line x1="268.69" y1="481.70" x2="268.69" y2="479.20" stroke="#222" stroke-width="1.1"/>
<line x1="268.69" y1="249.70" x2="268.69" y2="252.20" stroke="#222" stroke-width="1.1"/>
<line x1="281.35" y1="481.70" x2="281.35" y2="479.20" stroke="#222" stroke-width="1.1"/>
<line x1="281.35" y1="249.70" x2="281.35" y2="252.20" stroke="#222" stroke-width="1.1"/>
<line x1="294.00" y1="481.70" x2="294.00" y2="477.20" stroke="#222" stroke-width="1.1"/>
<line x1="294.00" y1="249.70" x2="294.00" y2="254.20" stroke="#222" stroke-width="1.1"/>
<line x1="34.60" y1="481.70" x2="39.40" y2="481.70" stroke="#222" stroke-width="1.1"/>
<line x1="294.00" y1="481.70" x2="289.20" y2="481.70" stroke="#222" stroke-width="1.1"/>
<line x1="34.60" y1="470.10" x2="37.20" y2="470.10" stroke="#222" stroke-width="1.1"/>
<line x1="294.00" y1="470.10" x2="291.40" y2="470.10" stroke="#222" stroke-width="1.1"/>
<line x1="34.60" y1="458.50" x2="37.20" y2="458.50" stroke="#222" stroke-width="1.1"/>
<line x1="294.00" y1="458.50" x2="291.40" y2="458.50" stroke="#222" stroke-width="1.1"/>
<line x1="34.60" y1="446.90" x2="37.20" y2="446.90" stroke="#222" stroke-width="1.1"/>
<line x1="294.00" y1="446.90" x2="291.40" y2="446.90" stroke="#222" stroke-width="1.1"/>
<line x1="34.60" y1="435.30" x2="37.20" y2="435.30" stroke="#222" stroke-width="1.1"/>
<line x1="294.00" y1="435.30" x2="291.40" y2="435.30" stroke="#222" stroke-width="1.1"/>
<line x1="34.60" y1="423.70" x2="39.40" y2="423.70" stroke="#222" stroke-width="1.1"/>
<line x1="294.00" y1="423.70" x2="289.20" y2="423.70" stroke="#222" stroke-width="1.1"/>
<line x1="34.60" y1="412.10" x2="37.20" y2="412.10" stroke="#222" stroke-width="1.1"/>
<line x1="294.00" y1="412.10" x2="291.40" y2="412.10" stroke="#222" stroke-width="1.1"/>
<line x1="34.60" y1="400.50" x2="37.20" y2="400.50" stroke="#222" stroke-width="1.1"/>
<line x1="294.00" y1="400.50" x2="291.40" y2="400.50" stroke="#222" stroke-width="1.1"/>
<line x1="34.60" y1="388.90" x2="37.20" y2="388.90" stroke="#222" stroke-width="1.1"/>
<line x1="294.00" y1="388.90" x2="291.40" y2="388.90" stroke="#222" stroke-width="1.1"/>
<line x1="34.60" y1="377.30" x2="37.20" y2="377.30" stroke="#222" stroke-width="1.1"/>
<line x1="294.00" y1="377.30" x2="291.40" y2="377.30" stroke="#222" stroke-width="1.1"/>
<line x1="34.60" y1="365.70" x2="39.40" y2="365.70" stroke="#222" stroke-width="1.1"/>
<line x1="294.00" y1="365.70" x2="289.20" y2="365.70" stroke="#222" stroke-width="1.1"/>
<line x1="34.60" y1="354.10" x2="37.20" y2="354.10" stroke="#222" stroke-width="1.1"/>
<line x1="294.00" y1="354.10" x2="291.40" y2="354.10" stroke="#222" stroke-width="1.1"/>
<line x1="34.60" y1="342.50" x2="37.20" y2="342.50" stroke="#222" stroke-width="1.1"/>
<line x1="294.00" y1="342.50" x2="291.40" y2="342.50" stroke="#222" stroke-width="1.1"/>
<line x1="34.60" y1="330.90" x2="37.20" y2="330.90" stroke="#222" stroke-width="1.1"/>
<line x1="294.00" y1="330.90" x2="291.40" y2="330.90" stroke="#222" stroke-width="1.1"/>
<line x1="34.60" y1="319.30" x2="37.20" y2="319.30" stroke="#222" stroke-width="1.1"/>
<line x1="294.00" y1="319.30" x2="291.40" y2="319.30" stroke="#222" stroke-width="1.1"/>
<line x1="34.60" y1="307.70" x2="39.40" y2="307.70" stroke="#222" stroke-width="1.1"/>
<line x1="294.00" y1="307.70" x2="289.20" y2="307.70" stroke="#222" stroke-width="1.1"/>
<line x1="34.60" y1="296.10" x2="37.20" y2="296.10" stroke="#222" stroke-width="1.1"/>
<line x1="294.00" y1="296.10" x2="291.40" y2="296.10" stroke="#222" stroke-width="1.1"/>
<line x1="34.60" y1="284.50" x2="37.20" y2="284.50" stroke="#222" stroke-width="1.1"/>
<line x1="294.00" y1="284.50" x2="291.40" y2="284.50" stroke="#222" stroke-width="1.1"/>
<line x1="34.60" y1="272.90" x2="37.20" y2="272.90" stroke="#222" stroke-width="1.1"/>
<line x1="294.00" y1="272.90" x2="291.40" y2="272.90" stroke="#222" stroke-width="1.1"/>
<line x1="34.60" y1="261.30" x2="37.20" y2="261.30" stroke="#222" stroke-width="1.1"/>
<line x1="294.00" y1="261.30" x2="291.40" y2="261.30" stroke="#222" stroke-width="1.1"/>
<line x1="34.60" y1="249.70" x2="39.40" y2="249.70" stroke="#222" stroke-width="1.1"/>
<line x1="294.00" y1="249.70" x2="289.20" y2="249.70" stroke="#222" stroke-width="1.1"/>
<text x="28.10" y="480.20" text-anchor="end" font-size="12" fill="#111" >0</text>
<text x="28.10" y="427.90" text-anchor="end" font-size="12" fill="#111" >1</text>
<text x="28.10" y="369.90" text-anchor="end" font-size="12" fill="#111" >2</text>
<text x="28.10" y="311.90" text-anchor="end" font-size="12" fill="#111" >3</text>
<text x="28.10" y="258.10" text-anchor="end" font-size="12" fill="#111" >4</text>
<text x="67.30" y="271.70" text-anchor="start" font-size="12" fill="#111" >Al I (1.31 µm)</text>
<text x="0" y="0" transform="translate(11.3,365.7) rotate(-90)" text-anchor="middle" font-size="12" fill="#111">EW (Å)</text>
<clipPath id="cp3"><rect x="333.50" y="249.70" width="259.20" height="232.00"/></clipPath>
<g clip-path="url(#cp3)">
<path d="M346.0 434.0V442.0M342.7 434.0h6.6M342.7 442.0h6.6" stroke="#7e160c" stroke-width="1.0" fill="none"/>
<circle cx="346.0" cy="438.0" r="2.6" fill="#7e160c"/>
<path d="M358.8 429.2V435.2M355.5 429.2h6.6M355.5 435.2h6.6" stroke="#7e160c" stroke-width="1.0" fill="none"/>
<circle cx="358.8" cy="432.2" r="2.6" fill="#7e160c"/>
<path d="M365.2 400.3V412.3M361.9 400.3h6.6M361.9 412.3h6.6" stroke="#7e160c" stroke-width="1.0" fill="none"/>
<circle cx="365.2" cy="406.3" r="2.6" fill="#7e160c"/>
<path d="M365.2 422.0V428.0M361.9 422.0h6.6M361.9 428.0h6.6" stroke="#7e160c" stroke-width="1.0" fill="none"/>
<circle cx="365.2" cy="425.0" r="2.6" fill="#7e160c"/>
<path d="M371.3 417.0V423.0M368.0 417.0h6.6M368.0 423.0h6.6" stroke="#7e160c" stroke-width="1.0" fill="none"/>
<circle cx="371.3" cy="420.0" r="2.6" fill="#7e160c"/>
<path d="M377.7 458.7V474.7M374.4 458.7h6.6M374.4 474.7h6.6" stroke="#7e160c" stroke-width="1.0" fill="none"/>
<circle cx="377.7" cy="466.7" r="2.6" fill="#7e160c"/>
<path d="M383.8 411.7V421.7M380.5 411.7h6.6M380.5 421.7h6.6" stroke="#7e160c" stroke-width="1.0" fill="none"/>
<circle cx="383.8" cy="416.7" r="2.6" fill="#7e160c"/>
<path d="M390.5 389.8V401.8M387.2 389.8h6.6M387.2 401.8h6.6" stroke="#7e160c" stroke-width="1.0" fill="none"/>
<circle cx="390.5" cy="395.8" r="2.6" fill="#7e160c"/>
<path d="M390.5 401.7V417.7M387.2 401.7h6.6M387.2 417.7h6.6" stroke="#7e160c" stroke-width="1.0" fill="none"/>
<circle cx="390.5" cy="409.7" r="2.6" fill="#7e160c"/>
<path d="M396.8 383.7V395.7M393.5 383.7h6.6M393.5 395.7h6.6" stroke="#7e160c" stroke-width="1.0" fill="none"/>
<circle cx="396.8" cy="389.7" r="2.6" fill="#7e160c"/>
<path d="M399.7 392.7V404.7M396.4 392.7h6.6M396.4 404.7h6.6" stroke="#7e160c" stroke-width="1.0" fill="none"/>
<circle cx="399.7" cy="398.7" r="2.6" fill="#7e160c"/>
<path d="M403.0 404.3V412.3M399.7 404.3h6.6M399.7 412.3h6.6" stroke="#7e160c" stroke-width="1.0" fill="none"/>
<circle cx="403.0" cy="408.3" r="2.6" fill="#7e160c"/>
<path d="M409.3 390.0V400.0M406.0 390.0h6.6M406.0 400.0h6.6" stroke="#7e160c" stroke-width="1.0" fill="none"/>
<circle cx="409.3" cy="395.0" r="2.6" fill="#7e160c"/>
<path d="M409.3 391.7V407.7M406.0 391.7h6.6M406.0 407.7h6.6" stroke="#7e160c" stroke-width="1.0" fill="none"/>
<circle cx="409.3" cy="399.7" r="2.6" fill="#7e160c"/>
<path d="M412.5 381.2V393.2M409.2 381.2h6.6M409.2 393.2h6.6" stroke="#7e160c" stroke-width="1.0" fill="none"/>
<circle cx="412.5" cy="387.2" r="2.6" fill="#7e160c"/>
<path d="M415.8 366.2V382.2M412.5 366.2h6.6M412.5 382.2h6.6" stroke="#7e160c" stroke-width="1.0" fill="none"/>
<circle cx="415.8" cy="374.2" r="2.6" fill="#7e160c"/>
<path d="M422.2 387.0V403.0M418.9 387.0h6.6M418.9 403.0h6.6" stroke="#7e160c" stroke-width="1.0" fill="none"/>
<circle cx="422.2" cy="395.0" r="2.6" fill="#7e160c"/>
<path d="M428.0 400.7V412.7M424.7 400.7h6.6M424.7 412.7h6.6" stroke="#7e160c" stroke-width="1.0" fill="none"/>
<circle cx="428.0" cy="406.7" r="2.6" fill="#7e160c"/>
<path d="M466.3 305.5V329.5M463.0 305.5h6.6M463.0 329.5h6.6" stroke="#7e160c" stroke-width="1.0" fill="none"/>
<circle cx="466.3" cy="317.5" r="2.6" fill="#7e160c"/>
<path d="M478.8 307.0V333.0M475.5 307.0h6.6M475.5 333.0h6.6" stroke="#7e160c" stroke-width="1.0" fill="none"/>
<circle cx="478.8" cy="320.0" r="2.6" fill="#7e160c"/>
<path d="M485.3 300.3V322.3M482.0 300.3h6.6M482.0 322.3h6.6" stroke="#7e160c" stroke-width="1.0" fill="none"/>
<circle cx="485.3" cy="311.3" r="2.6" fill="#7e160c"/>
<path d="M491.7 294.2V318.2M488.4 294.2h6.6M488.4 318.2h6.6" stroke="#7e160c" stroke-width="1.0" fill="none"/>
<circle cx="491.7" cy="306.2" r="2.6" fill="#7e160c"/>
<path d="M497.8 288.3V308.3M494.5 288.3h6.6M494.5 308.3h6.6" stroke="#7e160c" stroke-width="1.0" fill="none"/>
<circle cx="497.8" cy="298.3" r="2.6" fill="#7e160c"/>
<path d="M510.5 312.2V330.2M507.2 312.2h6.6M507.2 330.2h6.6" stroke="#7e160c" stroke-width="1.0" fill="none"/>
<circle cx="510.5" cy="321.2" r="2.6" fill="#7e160c"/>
<path d="M510.5 324.2V358.2M507.2 324.2h6.6M507.2 358.2h6.6" stroke="#7e160c" stroke-width="1.0" fill="none"/>
<circle cx="510.5" cy="341.2" r="2.6" fill="#7e160c"/>
<path d="M453.7 343.3V363.3M450.4 343.3h6.6M450.4 363.3h6.6" stroke="#7e160c" stroke-width="1.0" fill="none"/>
<circle cx="453.7" cy="353.3" r="2.6" fill="#7e160c"/>
<path d="M453.7 361.7V377.7M450.4 361.7h6.6M450.4 377.7h6.6" stroke="#7e160c" stroke-width="1.0" fill="none"/>
<circle cx="453.7" cy="369.7" r="2.6" fill="#7e160c"/>
<path d="M444.2 368.2V380.2M440.9 368.2h6.6M440.9 380.2h6.6" stroke="#7e160c" stroke-width="1.0" fill="none"/>
<circle cx="444.2" cy="374.2" r="2.6" fill="#7e160c"/>
<path d="M472.5 345.2V363.2M469.2 345.2h6.6M469.2 363.2h6.6" stroke="#7e160c" stroke-width="1.0" fill="none"/>
<circle cx="472.5" cy="354.2" r="2.6" fill="#7e160c"/>
<path d="M434.7 392.3V404.3M431.4 392.3h6.6M431.4 404.3h6.6" stroke="#7e160c" stroke-width="1.0" fill="none"/>
<circle cx="434.7" cy="398.3" r="2.6" fill="#7e160c"/>
<path d="M434.7 394.0V406.0M431.4 394.0h6.6M431.4 406.0h6.6" stroke="#7e160c" stroke-width="1.0" fill="none"/>
<circle cx="434.7" cy="400.0" r="2.6" fill="#7e160c"/>
<path d="M529.7 316.8V334.8M526.4 316.8h6.6M526.4 334.8h6.6" stroke="#7e160c" stroke-width="1.0" fill="none"/>
<circle cx="529.7" cy="325.8" r="2.6" fill="#7e160c"/>
<path d="M539.2 332.7V352.7M535.9 332.7h6.6M535.9 352.7h6.6" stroke="#7e160c" stroke-width="1.0" fill="none"/>
<circle cx="539.2" cy="342.7" r="2.6" fill="#7e160c"/>
<path d="M532.4 352.0V368.0M529.1 352.0h6.6M529.1 368.0h6.6" stroke="#7e160c" stroke-width="1.0" fill="none"/>
<circle cx="532.4" cy="360.0" r="2.6" fill="#7e160c"/>
<path d="M535.7 375.7V381.7M532.4 375.7h6.6M532.4 381.7h6.6" stroke="#7e160c" stroke-width="1.0" fill="none"/>
<circle cx="535.7" cy="378.7" r="2.6" fill="#7e160c"/>
<path d="M542.2 402.7V418.7M538.9 402.7h6.6M538.9 418.7h6.6" stroke="#7e160c" stroke-width="1.0" fill="none"/>
<circle cx="542.2" cy="410.7" r="2.6" fill="#7e160c"/>
<path d="M548.5 406.7V426.7M545.2 406.7h6.6M545.2 426.7h6.6" stroke="#7e160c" stroke-width="1.0" fill="none"/>
<circle cx="548.5" cy="416.7" r="2.6" fill="#7e160c"/>
<path d="M545.5 411.7V431.7M542.2 411.7h6.6M542.2 431.7h6.6" stroke="#7e160c" stroke-width="1.0" fill="none"/>
<circle cx="545.5" cy="421.7" r="2.6" fill="#7e160c"/>
<path d="M548.5 410.5V430.5M545.2 410.5h6.6M545.2 430.5h6.6" stroke="#7e160c" stroke-width="1.0" fill="none"/>
<circle cx="548.5" cy="420.5" r="2.6" fill="#7e160c"/>
<path d="M545.5 425.5V445.5M542.2 425.5h6.6M542.2 445.5h6.6" stroke="#7e160c" stroke-width="1.0" fill="none"/>
<circle cx="545.5" cy="435.5" r="2.6" fill="#7e160c"/>
<path d="M551.8 429.7V449.7M548.5 429.7h6.6M548.5 449.7h6.6" stroke="#7e160c" stroke-width="1.0" fill="none"/>
<circle cx="551.8" cy="439.7" r="2.6" fill="#7e160c"/>
<path d="M555.0 440.5V460.5M551.7 440.5h6.6M551.7 460.5h6.6" stroke="#7e160c" stroke-width="1.0" fill="none"/>
<circle cx="555.0" cy="450.5" r="2.6" fill="#7e160c"/>
<path d="M558.2 443.7V467.7M554.9 443.7h6.6M554.9 467.7h6.6" stroke="#7e160c" stroke-width="1.0" fill="none"/>
<circle cx="558.2" cy="455.7" r="2.6" fill="#7e160c"/>
<path d="M561.2 434.0V470.0M557.9 434.0h6.6M557.9 470.0h6.6" stroke="#7e160c" stroke-width="1.0" fill="none"/>
<circle cx="561.2" cy="452.0" r="2.6" fill="#7e160c"/>
<path d="M555.0 456.5V480.5M551.7 456.5h6.6M551.7 480.5h6.6" stroke="#7e160c" stroke-width="1.0" fill="none"/>
<circle cx="555.0" cy="468.5" r="2.6" fill="#7e160c"/>
<path d="M561.2 451.7V481.7M557.9 451.7h6.6M557.9 481.7h6.6" stroke="#7e160c" stroke-width="1.0" fill="none"/>
<circle cx="561.2" cy="466.7" r="2.6" fill="#7e160c"/>
<path d="M570.5 449.7V489.7M567.2 449.7h6.6M567.2 489.7h6.6" stroke="#7e160c" stroke-width="1.0" fill="none"/>
<circle cx="570.5" cy="469.7" r="2.6" fill="#7e160c"/>
<path d="M573.7 447.7V487.7M570.4 447.7h6.6M570.4 487.7h6.6" stroke="#7e160c" stroke-width="1.0" fill="none"/>
<circle cx="573.7" cy="467.7" r="2.6" fill="#7e160c"/>
<path d="M580.0 445.0V489.0M576.7 445.0h6.6M576.7 489.0h6.6" stroke="#7e160c" stroke-width="1.0" fill="none"/>
<circle cx="580.0" cy="467.0" r="2.6" fill="#7e160c"/>
<path d="M580.0 449.7V489.7M576.7 449.7h6.6M576.7 489.7h6.6" stroke="#7e160c" stroke-width="1.0" fill="none"/>
<circle cx="580.0" cy="469.7" r="2.6" fill="#7e160c"/>
<path d="M586.3 463.2V493.2M583.0 463.2h6.6M583.0 493.2h6.6" stroke="#7e160c" stroke-width="1.0" fill="none"/>
<circle cx="586.3" cy="478.2" r="2.6" fill="#7e160c"/>
<path d="M567.2 478.2V484.2M563.9 478.2h6.6M563.9 484.2h6.6" stroke="#7e160c" stroke-width="1.0" fill="none"/>
<circle cx="567.2" cy="481.2" r="2.6" fill="#7e160c"/>
<path d="M339.7 448.5V456.5M336.4 448.5h6.6M336.4 456.5h6.6" stroke="#0f580f" stroke-width="1.0" fill="none"/>
<circle cx="339.7" cy="452.5" r="2.6" fill="#0f580f"/>
<path d="M352.7 446.7V456.7M349.4 446.7h6.6M349.4 456.7h6.6" stroke="#0f580f" stroke-width="1.0" fill="none"/>
<circle cx="352.7" cy="451.7" r="2.6" fill="#0f580f"/>
<path d="M365.2 442.8V448.8M361.9 442.8h6.6M361.9 448.8h6.6" stroke="#0f580f" stroke-width="1.0" fill="none"/>
<circle cx="365.2" cy="445.8" r="2.6" fill="#0f580f"/>
<path d="M374.7 424.7V434.7M371.4 424.7h6.6M371.4 434.7h6.6" stroke="#0f580f" stroke-width="1.0" fill="none"/>
<circle cx="374.7" cy="429.7" r="2.6" fill="#0f580f"/>
<path d="M377.7 432.7V440.7M374.4 432.7h6.6M374.4 440.7h6.6" stroke="#0f580f" stroke-width="1.0" fill="none"/>
<circle cx="377.7" cy="436.7" r="2.6" fill="#0f580f"/>
<path d="M371.3 436.8V444.8M368.0 436.8h6.6M368.0 444.8h6.6" stroke="#0f580f" stroke-width="1.0" fill="none"/>
<circle cx="371.3" cy="440.8" r="2.6" fill="#0f580f"/>
<path d="M383.8 420.2V428.2M380.5 420.2h6.6M380.5 428.2h6.6" stroke="#0f580f" stroke-width="1.0" fill="none"/>
<circle cx="383.8" cy="424.2" r="2.6" fill="#0f580f"/>
<path d="M390.5 430.0V446.0M387.2 430.0h6.6M387.2 446.0h6.6" stroke="#0f580f" stroke-width="1.0" fill="none"/>
<circle cx="390.5" cy="438.0" r="2.6" fill="#0f580f"/>
<path d="M396.8 418.0V438.0M393.5 418.0h6.6M393.5 438.0h6.6" stroke="#0f580f" stroke-width="1.0" fill="none"/>
<circle cx="396.8" cy="428.0" r="2.6" fill="#0f580f"/>
<path d="M422.2 419.3V427.3M418.9 419.3h6.6M418.9 427.3h6.6" stroke="#0f580f" stroke-width="1.0" fill="none"/>
<circle cx="422.2" cy="423.3" r="2.6" fill="#0f580f"/>
<path d="M428.0 413.5V421.5M424.7 413.5h6.6M424.7 421.5h6.6" stroke="#0f580f" stroke-width="1.0" fill="none"/>
<circle cx="428.0" cy="417.5" r="2.6" fill="#0f580f"/>
<path d="M428.0 419.0V427.0M424.7 419.0h6.6M424.7 427.0h6.6" stroke="#0f580f" stroke-width="1.0" fill="none"/>
<circle cx="428.0" cy="423.0" r="2.6" fill="#0f580f"/>
<path d="M478.8 376.3V396.3M475.5 376.3h6.6M475.5 396.3h6.6" stroke="#0f580f" stroke-width="1.0" fill="none"/>
<circle cx="478.8" cy="386.3" r="2.6" fill="#0f580f"/>
<path d="M488.0 361.7V391.7M484.7 361.7h6.6M484.7 391.7h6.6" stroke="#0f580f" stroke-width="1.0" fill="none"/>
<circle cx="488.0" cy="376.7" r="2.6" fill="#0f580f"/>
<path d="M497.8 387.5V403.5M494.5 387.5h6.6M494.5 403.5h6.6" stroke="#0f580f" stroke-width="1.0" fill="none"/>
<circle cx="497.8" cy="395.5" r="2.6" fill="#0f580f"/>
<path d="M501.3 372.7V396.7M498.0 372.7h6.6M498.0 396.7h6.6" stroke="#0f580f" stroke-width="1.0" fill="none"/>
<circle cx="501.3" cy="384.7" r="2.6" fill="#0f580f"/>
<path d="M504.7 381.3V405.3M501.4 381.3h6.6M501.4 405.3h6.6" stroke="#0f580f" stroke-width="1.0" fill="none"/>
<circle cx="504.7" cy="393.3" r="2.6" fill="#0f580f"/>
<path d="M510.5 387.5V403.5M507.2 387.5h6.6M507.2 403.5h6.6" stroke="#0f580f" stroke-width="1.0" fill="none"/>
<circle cx="510.5" cy="395.5" r="2.6" fill="#0f580f"/>
<path d="M428.3 411.7V421.7M425.0 411.7h6.6M425.0 421.7h6.6" stroke="#0f580f" stroke-width="1.0" fill="none"/>
<circle cx="428.3" cy="416.7" r="2.6" fill="#0f580f"/>
<path d="M428.3 418.0V428.0M425.0 418.0h6.6M425.0 428.0h6.6" stroke="#0f580f" stroke-width="1.0" fill="none"/>
<circle cx="428.3" cy="423.0" r="2.6" fill="#0f580f"/>
<path d="M434.7 415.8V425.8M431.4 415.8h6.6M431.4 425.8h6.6" stroke="#0f580f" stroke-width="1.0" fill="none"/>
<circle cx="434.7" cy="420.8" r="2.6" fill="#0f580f"/>
<path d="M447.5 406.2V422.2M444.2 406.2h6.6M444.2 422.2h6.6" stroke="#0f580f" stroke-width="1.0" fill="none"/>
<circle cx="447.5" cy="414.2" r="2.6" fill="#0f580f"/>
<path d="M450.8 407.0V423.0M447.5 407.0h6.6M447.5 423.0h6.6" stroke="#0f580f" stroke-width="1.0" fill="none"/>
<circle cx="450.8" cy="415.0" r="2.6" fill="#0f580f"/>
<path d="M453.7 402.8V418.8M450.4 402.8h6.6M450.4 418.8h6.6" stroke="#0f580f" stroke-width="1.0" fill="none"/>
<circle cx="453.7" cy="410.8" r="2.6" fill="#0f580f"/>
<path d="M453.7 455.7V477.7M450.4 455.7h6.6M450.4 477.7h6.6" stroke="#0f580f" stroke-width="1.0" fill="none"/>
<circle cx="453.7" cy="466.7" r="2.6" fill="#0f580f"/>
<path d="M460.0 403.7V419.7M456.7 403.7h6.6M456.7 419.7h6.6" stroke="#0f580f" stroke-width="1.0" fill="none"/>
<circle cx="460.0" cy="411.7" r="2.6" fill="#0f580f"/>
<path d="M466.3 402.8V418.8M463.0 402.8h6.6M463.0 418.8h6.6" stroke="#0f580f" stroke-width="1.0" fill="none"/>
<circle cx="466.3" cy="410.8" r="2.6" fill="#0f580f"/>
<path d="M469.7 390.0V410.0M466.4 390.0h6.6M466.4 410.0h6.6" stroke="#0f580f" stroke-width="1.0" fill="none"/>
<circle cx="469.7" cy="400.0" r="2.6" fill="#0f580f"/>
<path d="M472.5 390.8V410.8M469.2 390.8h6.6M469.2 410.8h6.6" stroke="#0f580f" stroke-width="1.0" fill="none"/>
<circle cx="472.5" cy="400.8" r="2.6" fill="#0f580f"/>
<path d="M472.5 396.7V416.7M469.2 396.7h6.6M469.2 416.7h6.6" stroke="#0f580f" stroke-width="1.0" fill="none"/>
<circle cx="472.5" cy="406.7" r="2.6" fill="#0f580f"/>
<path d="M478.8 404.5V420.5M475.5 404.5h6.6M475.5 420.5h6.6" stroke="#0f580f" stroke-width="1.0" fill="none"/>
<circle cx="478.8" cy="412.5" r="2.6" fill="#0f580f"/>
<path d="M478.8 407.8V423.8M475.5 407.8h6.6M475.5 423.8h6.6" stroke="#0f580f" stroke-width="1.0" fill="none"/>
<circle cx="478.8" cy="415.8" r="2.6" fill="#0f580f"/>
<path d="M485.3 390.0V410.0M482.0 390.0h6.6M482.0 410.0h6.6" stroke="#0f580f" stroke-width="1.0" fill="none"/>
<circle cx="485.3" cy="400.0" r="2.6" fill="#0f580f"/>
<path d="M491.7 402.2V426.2M488.4 402.2h6.6M488.4 426.2h6.6" stroke="#0f580f" stroke-width="1.0" fill="none"/>
<circle cx="491.7" cy="414.2" r="2.6" fill="#0f580f"/>
<path d="M529.3 374.7V394.7M526.0 374.7h6.6M526.0 394.7h6.6" stroke="#0f580f" stroke-width="1.0" fill="none"/>
<circle cx="529.3" cy="384.7" r="2.6" fill="#0f580f"/>
<path d="M545.5 366.0V390.0M542.2 366.0h6.6M542.2 390.0h6.6" stroke="#0f580f" stroke-width="1.0" fill="none"/>
<circle cx="545.5" cy="378.0" r="2.6" fill="#0f580f"/>
<path d="M551.8 372.0V396.0M548.5 372.0h6.6M548.5 396.0h6.6" stroke="#0f580f" stroke-width="1.0" fill="none"/>
<circle cx="551.8" cy="384.0" r="2.6" fill="#0f580f"/>
<path d="M555.0 366.0V390.0M551.7 366.0h6.6M551.7 390.0h6.6" stroke="#0f580f" stroke-width="1.0" fill="none"/>
<circle cx="555.0" cy="378.0" r="2.6" fill="#0f580f"/>
<path d="M558.2 369.7V393.7M554.9 369.7h6.6M554.9 393.7h6.6" stroke="#0f580f" stroke-width="1.0" fill="none"/>
<circle cx="558.2" cy="381.7" r="2.6" fill="#0f580f"/>
<path d="M561.2 354.0V384.0M557.9 354.0h6.6M557.9 384.0h6.6" stroke="#0f580f" stroke-width="1.0" fill="none"/>
<circle cx="561.2" cy="369.0" r="2.6" fill="#0f580f"/>
<path d="M564.5 356.7V386.7M561.2 356.7h6.6M561.2 386.7h6.6" stroke="#0f580f" stroke-width="1.0" fill="none"/>
<circle cx="564.5" cy="371.7" r="2.6" fill="#0f580f"/>
<path d="M567.7 347.2V383.2M564.4 347.2h6.6M564.4 383.2h6.6" stroke="#0f580f" stroke-width="1.0" fill="none"/>
<circle cx="567.7" cy="365.2" r="2.6" fill="#0f580f"/>
<path d="M574.0 333.5V389.5M570.7 333.5h6.6M570.7 389.5h6.6" stroke="#0f580f" stroke-width="1.0" fill="none"/>
<circle cx="574.0" cy="361.5" r="2.6" fill="#0f580f"/>
<path d="M574.0 342.5V392.5M570.7 342.5h6.6M570.7 392.5h6.6" stroke="#0f580f" stroke-width="1.0" fill="none"/>
<circle cx="574.0" cy="367.5" r="2.6" fill="#0f580f"/>
<path d="M577.3 340.0V410.0M574.0 340.0h6.6M574.0 410.0h6.6" stroke="#0f580f" stroke-width="1.0" fill="none"/>
<circle cx="577.3" cy="375.0" r="2.6" fill="#0f580f"/>
<path d="M535.7 395.7V419.7M532.4 395.7h6.6M532.4 419.7h6.6" stroke="#0f580f" stroke-width="1.0" fill="none"/>
<circle cx="535.7" cy="407.7" r="2.6" fill="#0f580f"/>
<path d="M586.3 354.5V407.5M583.0 354.5h6.6M583.0 407.5h6.6" stroke="#0f580f" stroke-width="1.0" fill="none"/>
<circle cx="586.3" cy="402.5" r="2.6" fill="#0f580f"/>
<path d="M586.3 354.0V480.0M583.0 354.0h6.6M583.0 480.0h6.6" stroke="#0f580f" stroke-width="1.0" fill="none"/>
<path d="M586.3 453.2V473.2M583.0 453.2h6.6M583.0 473.2h6.6" stroke="#0f580f" stroke-width="1.0" fill="none"/>
<circle cx="586.3" cy="463.2" r="2.6" fill="#0f580f"/>
<path d="M586.3 462.7V482.7M583.0 462.7h6.6M583.0 482.7h6.6" stroke="#0f580f" stroke-width="1.0" fill="none"/>
<circle cx="586.3" cy="472.7" r="2.6" fill="#0f580f"/>
<path d="M574.3 465.0V485.0M571.0 465.0h6.6M571.0 485.0h6.6" stroke="#0f580f" stroke-width="1.0" fill="none"/>
<path d="M577.3 465.0V485.0M574.0 465.0h6.6M574.0 485.0h6.6" stroke="#0f580f" stroke-width="1.0" fill="none"/>
<path d="M339.7 429.7V463.7M336.4 429.7h6.6M336.4 463.7h6.6" stroke="#10106e" stroke-width="1.0" fill="none"/>
<circle cx="339.7" cy="446.7" r="2.6" fill="#10106e"/>
<path d="M339.7 444.0V456.0M336.4 444.0h6.6M336.4 456.0h6.6" stroke="#10106e" stroke-width="1.0" fill="none"/>
<circle cx="339.7" cy="450.0" r="2.6" fill="#10106e"/>
<path d="M346.0 452.5V462.5M342.7 452.5h6.6M342.7 462.5h6.6" stroke="#10106e" stroke-width="1.0" fill="none"/>
<circle cx="346.0" cy="457.5" r="2.6" fill="#10106e"/>
<path d="M352.7 437.0V453.0M349.4 437.0h6.6M349.4 453.0h6.6" stroke="#10106e" stroke-width="1.0" fill="none"/>
<circle cx="352.7" cy="445.0" r="2.6" fill="#10106e"/>
<path d="M352.7 448.2V460.2M349.4 448.2h6.6M349.4 460.2h6.6" stroke="#10106e" stroke-width="1.0" fill="none"/>
<circle cx="352.7" cy="454.2" r="2.6" fill="#10106e"/>
<path d="M371.3 414.7V438.7M368.0 414.7h6.6M368.0 438.7h6.6" stroke="#10106e" stroke-width="1.0" fill="none"/>
<circle cx="371.3" cy="426.7" r="2.6" fill="#10106e"/>
<path d="M371.3 407.8V463.8M368.0 407.8h6.6M368.0 463.8h6.6" stroke="#10106e" stroke-width="1.0" fill="none"/>
<circle cx="371.3" cy="435.8" r="2.6" fill="#10106e"/>
<path d="M383.8 431.2V447.2M380.5 431.2h6.6M380.5 447.2h6.6" stroke="#10106e" stroke-width="1.0" fill="none"/>
<circle cx="383.8" cy="439.2" r="2.6" fill="#10106e"/>
<path d="M390.5 415.3V431.3M387.2 415.3h6.6M387.2 431.3h6.6" stroke="#10106e" stroke-width="1.0" fill="none"/>
<circle cx="390.5" cy="423.3" r="2.6" fill="#10106e"/>
<path d="M403.0 420.7V436.7M399.7 420.7h6.6M399.7 436.7h6.6" stroke="#10106e" stroke-width="1.0" fill="none"/>
<circle cx="403.0" cy="428.7" r="2.6" fill="#10106e"/>
<path d="M409.3 411.2V427.2M406.0 411.2h6.6M406.0 427.2h6.6" stroke="#10106e" stroke-width="1.0" fill="none"/>
<circle cx="409.3" cy="419.2" r="2.6" fill="#10106e"/>
<path d="M409.3 427.3V439.3M406.0 427.3h6.6M406.0 439.3h6.6" stroke="#10106e" stroke-width="1.0" fill="none"/>
<circle cx="409.3" cy="433.3" r="2.6" fill="#10106e"/>
<path d="M415.5 415.0V435.0M412.2 415.0h6.6M412.2 435.0h6.6" stroke="#10106e" stroke-width="1.0" fill="none"/>
<circle cx="415.5" cy="425.0" r="2.6" fill="#10106e"/>
<path d="M415.5 430.3V442.3M412.2 430.3h6.6M412.2 442.3h6.6" stroke="#10106e" stroke-width="1.0" fill="none"/>
<circle cx="415.5" cy="436.3" r="2.6" fill="#10106e"/>
<path d="M422.2 401.2V417.2M418.9 401.2h6.6M418.9 417.2h6.6" stroke="#10106e" stroke-width="1.0" fill="none"/>
<circle cx="422.2" cy="409.2" r="2.6" fill="#10106e"/>
<path d="M422.2 412.0V428.0M418.9 412.0h6.6M418.9 428.0h6.6" stroke="#10106e" stroke-width="1.0" fill="none"/>
<circle cx="422.2" cy="420.0" r="2.6" fill="#10106e"/>
<path d="M428.0 416.7V436.7M424.7 416.7h6.6M424.7 436.7h6.6" stroke="#10106e" stroke-width="1.0" fill="none"/>
<circle cx="428.0" cy="426.7" r="2.6" fill="#10106e"/>
<path d="M497.8 346.0V384.0M494.5 346.0h6.6M494.5 384.0h6.6" stroke="#10106e" stroke-width="1.0" fill="none"/>
<circle cx="497.8" cy="365.0" r="2.6" fill="#10106e"/>
<path d="M510.5 365.8V405.8M507.2 365.8h6.6M507.2 405.8h6.6" stroke="#10106e" stroke-width="1.0" fill="none"/>
<circle cx="510.5" cy="385.8" r="2.6" fill="#10106e"/>
<path d="M491.7 355.5V395.5M488.4 355.5h6.6M488.4 395.5h6.6" stroke="#10106e" stroke-width="1.0" fill="none"/>
<circle cx="491.7" cy="375.5" r="2.6" fill="#10106e"/>
<path d="M472.5 355.0V405.0M469.2 355.0h6.6M469.2 405.0h6.6" stroke="#10106e" stroke-width="1.0" fill="none"/>
<circle cx="472.5" cy="380.0" r="2.6" fill="#10106e"/>
<path d="M485.0 368.7V384.7M481.7 368.7h6.6M481.7 384.7h6.6" stroke="#10106e" stroke-width="1.0" fill="none"/>
<circle cx="485.0" cy="376.7" r="2.6" fill="#10106e"/>
<path d="M485.3 377.8V393.8M482.0 377.8h6.6M482.0 393.8h6.6" stroke="#10106e" stroke-width="1.0" fill="none"/>
<circle cx="485.3" cy="385.8" r="2.6" fill="#10106e"/>
<path d="M491.7 377.8V393.8M488.4 377.8h6.6M488.4 393.8h6.6" stroke="#10106e" stroke-width="1.0" fill="none"/>
<circle cx="491.7" cy="385.8" r="2.6" fill="#10106e"/>
<path d="M482.5 381.2V397.2M479.2 381.2h6.6M479.2 397.2h6.6" stroke="#10106e" stroke-width="1.0" fill="none"/>
<circle cx="482.5" cy="389.2" r="2.6" fill="#10106e"/>
<path d="M485.0 385.3V401.3M481.7 385.3h6.6M481.7 401.3h6.6" stroke="#10106e" stroke-width="1.0" fill="none"/>
<circle cx="485.0" cy="393.3" r="2.6" fill="#10106e"/>
<path d="M453.7 382.7V410.7M450.4 382.7h6.6M450.4 410.7h6.6" stroke="#10106e" stroke-width="1.0" fill="none"/>
<circle cx="453.7" cy="396.7" r="2.6" fill="#10106e"/>
<path d="M434.7 403.7V419.7M431.4 403.7h6.6M431.4 419.7h6.6" stroke="#10106e" stroke-width="1.0" fill="none"/>
<circle cx="434.7" cy="411.7" r="2.6" fill="#10106e"/>
<path d="M440.8 404.2V424.2M437.5 404.2h6.6M437.5 424.2h6.6" stroke="#10106e" stroke-width="1.0" fill="none"/>
<circle cx="440.8" cy="414.2" r="2.6" fill="#10106e"/>
<path d="M440.8 411.2V447.2M437.5 411.2h6.6M437.5 447.2h6.6" stroke="#10106e" stroke-width="1.0" fill="none"/>
<circle cx="440.8" cy="429.2" r="2.6" fill="#10106e"/>
<path d="M447.5 401.8V419.8M444.2 401.8h6.6M444.2 419.8h6.6" stroke="#10106e" stroke-width="1.0" fill="none"/>
<circle cx="447.5" cy="410.8" r="2.6" fill="#10106e"/>
<path d="M447.5 407.5V427.5M444.2 407.5h6.6M444.2 427.5h6.6" stroke="#10106e" stroke-width="1.0" fill="none"/>
<circle cx="447.5" cy="417.5" r="2.6" fill="#10106e"/>
<path d="M453.7 383.8V427.8M450.4 383.8h6.6M450.4 427.8h6.6" stroke="#10106e" stroke-width="1.0" fill="none"/>
<circle cx="453.7" cy="405.8" r="2.6" fill="#10106e"/>
<path d="M460.0 407.7V439.7M456.7 407.7h6.6M456.7 439.7h6.6" stroke="#10106e" stroke-width="1.0" fill="none"/>
<circle cx="460.0" cy="423.7" r="2.6" fill="#10106e"/>
<path d="M466.3 389.2V419.2M463.0 389.2h6.6M463.0 419.2h6.6" stroke="#10106e" stroke-width="1.0" fill="none"/>
<circle cx="466.3" cy="404.2" r="2.6" fill="#10106e"/>
<path d="M466.3 420.8V440.8M463.0 420.8h6.6M463.0 440.8h6.6" stroke="#10106e" stroke-width="1.0" fill="none"/>
<circle cx="466.3" cy="430.8" r="2.6" fill="#10106e"/>
<path d="M469.7 390.0V420.0M466.4 390.0h6.6M466.4 420.0h6.6" stroke="#10106e" stroke-width="1.0" fill="none"/>
<circle cx="469.7" cy="405.0" r="2.6" fill="#10106e"/>
<path d="M548.5 333.2V373.2M545.2 333.2h6.6M545.2 373.2h6.6" stroke="#10106e" stroke-width="1.0" fill="none"/>
<circle cx="548.5" cy="353.2" r="2.6" fill="#10106e"/>
<path d="M574.0 310.8V370.8M570.7 310.8h6.6M570.7 370.8h6.6" stroke="#10106e" stroke-width="1.0" fill="none"/>
<circle cx="574.0" cy="340.8" r="2.6" fill="#10106e"/>
<path d="M535.7 339.2V383.2M532.4 339.2h6.6M532.4 383.2h6.6" stroke="#10106e" stroke-width="1.0" fill="none"/>
<circle cx="535.7" cy="361.2" r="2.6" fill="#10106e"/>
<path d="M539.2 342.2V382.2M535.9 342.2h6.6M535.9 382.2h6.6" stroke="#10106e" stroke-width="1.0" fill="none"/>
<circle cx="539.2" cy="362.2" r="2.6" fill="#10106e"/>
<path d="M535.7 350.2V386.2M532.4 350.2h6.6M532.4 386.2h6.6" stroke="#10106e" stroke-width="1.0" fill="none"/>
<circle cx="535.7" cy="368.2" r="2.6" fill="#10106e"/>
<path d="M539.2 351.7V391.7M535.9 351.7h6.6M535.9 391.7h6.6" stroke="#10106e" stroke-width="1.0" fill="none"/>
<circle cx="539.2" cy="371.7" r="2.6" fill="#10106e"/>
<path d="M532.7 359.2V395.2M529.4 359.2h6.6M529.4 395.2h6.6" stroke="#10106e" stroke-width="1.0" fill="none"/>
<circle cx="532.7" cy="377.2" r="2.6" fill="#10106e"/>
<path d="M535.7 357.0V393.0M532.4 357.0h6.6M532.4 393.0h6.6" stroke="#10106e" stroke-width="1.0" fill="none"/>
<circle cx="535.7" cy="375.0" r="2.6" fill="#10106e"/>
<path d="M542.5 360.0V390.0M539.2 360.0h6.6M539.2 390.0h6.6" stroke="#10106e" stroke-width="1.0" fill="none"/>
<circle cx="542.5" cy="375.0" r="2.6" fill="#10106e"/>
<path d="M542.5 366.0V396.0M539.2 366.0h6.6M539.2 396.0h6.6" stroke="#10106e" stroke-width="1.0" fill="none"/>
<circle cx="542.5" cy="381.0" r="2.6" fill="#10106e"/>
<path d="M542.5 369.7V399.7M539.2 369.7h6.6M539.2 399.7h6.6" stroke="#10106e" stroke-width="1.0" fill="none"/>
<circle cx="542.5" cy="384.7" r="2.6" fill="#10106e"/>
<path d="M548.5 343.5V379.5M545.2 343.5h6.6M545.2 379.5h6.6" stroke="#10106e" stroke-width="1.0" fill="none"/>
<circle cx="548.5" cy="361.5" r="2.6" fill="#10106e"/>
<path d="M551.8 342.7V378.7M548.5 342.7h6.6M548.5 378.7h6.6" stroke="#10106e" stroke-width="1.0" fill="none"/>
<circle cx="551.8" cy="360.7" r="2.6" fill="#10106e"/>
<path d="M548.5 348.7V384.7M545.2 348.7h6.6M545.2 384.7h6.6" stroke="#10106e" stroke-width="1.0" fill="none"/>
<circle cx="548.5" cy="366.7" r="2.6" fill="#10106e"/>
<path d="M548.5 366.0V402.0M545.2 366.0h6.6M545.2 402.0h6.6" stroke="#10106e" stroke-width="1.0" fill="none"/>
<circle cx="548.5" cy="384.0" r="2.6" fill="#10106e"/>
<path d="M555.0 355.5V391.5M551.7 355.5h6.6M551.7 391.5h6.6" stroke="#10106e" stroke-width="1.0" fill="none"/>
<circle cx="555.0" cy="373.5" r="2.6" fill="#10106e"/>
<path d="M561.2 343.7V383.7M557.9 343.7h6.6M557.9 383.7h6.6" stroke="#10106e" stroke-width="1.0" fill="none"/>
<circle cx="561.2" cy="363.7" r="2.6" fill="#10106e"/>
</g>
<rect x="333.50" y="249.70" width="259.20" height="232.00" fill="none" stroke="#222" stroke-width="1.3"/>
<line x1="339.82" y1="481.70" x2="339.82" y2="477.20" stroke="#222" stroke-width="1.1"/>
<line x1="339.82" y1="249.70" x2="339.82" y2="254.20" stroke="#222" stroke-width="1.1"/>
<line x1="352.47" y1="481.70" x2="352.47" y2="479.20" stroke="#222" stroke-width="1.1"/>
<line x1="352.47" y1="249.70" x2="352.47" y2="252.20" stroke="#222" stroke-width="1.1"/>
<line x1="365.11" y1="481.70" x2="365.11" y2="479.20" stroke="#222" stroke-width="1.1"/>
<line x1="365.11" y1="249.70" x2="365.11" y2="252.20" stroke="#222" stroke-width="1.1"/>
<line x1="377.75" y1="481.70" x2="377.75" y2="479.20" stroke="#222" stroke-width="1.1"/>
<line x1="377.75" y1="249.70" x2="377.75" y2="252.20" stroke="#222" stroke-width="1.1"/>
<line x1="390.40" y1="481.70" x2="390.40" y2="479.20" stroke="#222" stroke-width="1.1"/>
<line x1="390.40" y1="249.70" x2="390.40" y2="252.20" stroke="#222" stroke-width="1.1"/>
<line x1="403.04" y1="481.70" x2="403.04" y2="477.20" stroke="#222" stroke-width="1.1"/>
<line x1="403.04" y1="249.70" x2="403.04" y2="254.20" stroke="#222" stroke-width="1.1"/>
<line x1="415.69" y1="481.70" x2="415.69" y2="479.20" stroke="#222" stroke-width="1.1"/>
<line x1="415.69" y1="249.70" x2="415.69" y2="252.20" stroke="#222" stroke-width="1.1"/>
<line x1="428.33" y1="481.70" x2="428.33" y2="479.20" stroke="#222" stroke-width="1.1"/>
<line x1="428.33" y1="249.70" x2="428.33" y2="252.20" stroke="#222" stroke-width="1.1"/>
<line x1="440.97" y1="481.70" x2="440.97" y2="479.20" stroke="#222" stroke-width="1.1"/>
<line x1="440.97" y1="249.70" x2="440.97" y2="252.20" stroke="#222" stroke-width="1.1"/>
<line x1="453.62" y1="481.70" x2="453.62" y2="479.20" stroke="#222" stroke-width="1.1"/>
<line x1="453.62" y1="249.70" x2="453.62" y2="252.20" stroke="#222" stroke-width="1.1"/>
<line x1="466.26" y1="481.70" x2="466.26" y2="477.20" stroke="#222" stroke-width="1.1"/>
<line x1="466.26" y1="249.70" x2="466.26" y2="254.20" stroke="#222" stroke-width="1.1"/>
<line x1="478.90" y1="481.70" x2="478.90" y2="479.20" stroke="#222" stroke-width="1.1"/>
<line x1="478.90" y1="249.70" x2="478.90" y2="252.20" stroke="#222" stroke-width="1.1"/>
<line x1="491.55" y1="481.70" x2="491.55" y2="479.20" stroke="#222" stroke-width="1.1"/>
<line x1="491.55" y1="249.70" x2="491.55" y2="252.20" stroke="#222" stroke-width="1.1"/>
<line x1="504.19" y1="481.70" x2="504.19" y2="479.20" stroke="#222" stroke-width="1.1"/>
<line x1="504.19" y1="249.70" x2="504.19" y2="252.20" stroke="#222" stroke-width="1.1"/>
<line x1="516.84" y1="481.70" x2="516.84" y2="479.20" stroke="#222" stroke-width="1.1"/>
<line x1="516.84" y1="249.70" x2="516.84" y2="252.20" stroke="#222" stroke-width="1.1"/>
<line x1="529.48" y1="481.70" x2="529.48" y2="477.20" stroke="#222" stroke-width="1.1"/>
<line x1="529.48" y1="249.70" x2="529.48" y2="254.20" stroke="#222" stroke-width="1.1"/>
<line x1="542.12" y1="481.70" x2="542.12" y2="479.20" stroke="#222" stroke-width="1.1"/>
<line x1="542.12" y1="249.70" x2="542.12" y2="252.20" stroke="#222" stroke-width="1.1"/>
<line x1="554.77" y1="481.70" x2="554.77" y2="479.20" stroke="#222" stroke-width="1.1"/>
<line x1="554.77" y1="249.70" x2="554.77" y2="252.20" stroke="#222" stroke-width="1.1"/>
<line x1="567.41" y1="481.70" x2="567.41" y2="479.20" stroke="#222" stroke-width="1.1"/>
<line x1="567.41" y1="249.70" x2="567.41" y2="252.20" stroke="#222" stroke-width="1.1"/>
<line x1="580.06" y1="481.70" x2="580.06" y2="479.20" stroke="#222" stroke-width="1.1"/>
<line x1="580.06" y1="249.70" x2="580.06" y2="252.20" stroke="#222" stroke-width="1.1"/>
<line x1="592.70" y1="481.70" x2="592.70" y2="477.20" stroke="#222" stroke-width="1.1"/>
<line x1="592.70" y1="249.70" x2="592.70" y2="254.20" stroke="#222" stroke-width="1.1"/>
<line x1="333.50" y1="481.70" x2="338.30" y2="481.70" stroke="#222" stroke-width="1.1"/>
<line x1="592.70" y1="481.70" x2="587.90" y2="481.70" stroke="#222" stroke-width="1.1"/>
<line x1="333.50" y1="469.80" x2="336.10" y2="469.80" stroke="#222" stroke-width="1.1"/>
<line x1="592.70" y1="469.80" x2="590.10" y2="469.80" stroke="#222" stroke-width="1.1"/>
<line x1="333.50" y1="457.91" x2="336.10" y2="457.91" stroke="#222" stroke-width="1.1"/>
<line x1="592.70" y1="457.91" x2="590.10" y2="457.91" stroke="#222" stroke-width="1.1"/>
<line x1="333.50" y1="446.01" x2="336.10" y2="446.01" stroke="#222" stroke-width="1.1"/>
<line x1="592.70" y1="446.01" x2="590.10" y2="446.01" stroke="#222" stroke-width="1.1"/>
<line x1="333.50" y1="434.11" x2="336.10" y2="434.11" stroke="#222" stroke-width="1.1"/>
<line x1="592.70" y1="434.11" x2="590.10" y2="434.11" stroke="#222" stroke-width="1.1"/>
<line x1="333.50" y1="422.21" x2="338.30" y2="422.21" stroke="#222" stroke-width="1.1"/>
<line x1="592.70" y1="422.21" x2="587.90" y2="422.21" stroke="#222" stroke-width="1.1"/>
<line x1="333.50" y1="410.32" x2="336.10" y2="410.32" stroke="#222" stroke-width="1.1"/>
<line x1="592.70" y1="410.32" x2="590.10" y2="410.32" stroke="#222" stroke-width="1.1"/>
<line x1="333.50" y1="398.42" x2="336.10" y2="398.42" stroke="#222" stroke-width="1.1"/>
<line x1="592.70" y1="398.42" x2="590.10" y2="398.42" stroke="#222" stroke-width="1.1"/>
<line x1="333.50" y1="386.52" x2="336.10" y2="386.52" stroke="#222" stroke-width="1.1"/>
<line x1="592.70" y1="386.52" x2="590.10" y2="386.52" stroke="#222" stroke-width="1.1"/>
<line x1="333.50" y1="374.62" x2="336.10" y2="374.62" stroke="#222" stroke-width="1.1"/>
<line x1="592.70" y1="374.62" x2="590.10" y2="374.62" stroke="#222" stroke-width="1.1"/>
<line x1="333.50" y1="362.73" x2="338.30" y2="362.73" stroke="#222" stroke-width="1.1"/>
<line x1="592.70" y1="362.73" x2="587.90" y2="362.73" stroke="#222" stroke-width="1.1"/>
<line x1="333.50" y1="350.83" x2="336.10" y2="350.83" stroke="#222" stroke-width="1.1"/>
<line x1="592.70" y1="350.83" x2="590.10" y2="350.83" stroke="#222" stroke-width="1.1"/>
<line x1="333.50" y1="338.93" x2="336.10" y2="338.93" stroke="#222" stroke-width="1.1"/>
<line x1="592.70" y1="338.93" x2="590.10" y2="338.93" stroke="#222" stroke-width="1.1"/>
<line x1="333.50" y1="327.03" x2="336.10" y2="327.03" stroke="#222" stroke-width="1.1"/>
<line x1="592.70" y1="327.03" x2="590.10" y2="327.03" stroke="#222" stroke-width="1.1"/>
<line x1="333.50" y1="315.14" x2="336.10" y2="315.14" stroke="#222" stroke-width="1.1"/>
<line x1="592.70" y1="315.14" x2="590.10" y2="315.14" stroke="#222" stroke-width="1.1"/>
<line x1="333.50" y1="303.24" x2="338.30" y2="303.24" stroke="#222" stroke-width="1.1"/>
<line x1="592.70" y1="303.24" x2="587.90" y2="303.24" stroke="#222" stroke-width="1.1"/>
<line x1="333.50" y1="291.34" x2="336.10" y2="291.34" stroke="#222" stroke-width="1.1"/>
<line x1="592.70" y1="291.34" x2="590.10" y2="291.34" stroke="#222" stroke-width="1.1"/>
<line x1="333.50" y1="279.44" x2="336.10" y2="279.44" stroke="#222" stroke-width="1.1"/>
<line x1="592.70" y1="279.44" x2="590.10" y2="279.44" stroke="#222" stroke-width="1.1"/>
<line x1="333.50" y1="267.55" x2="336.10" y2="267.55" stroke="#222" stroke-width="1.1"/>
<line x1="592.70" y1="267.55" x2="590.10" y2="267.55" stroke="#222" stroke-width="1.1"/>
<line x1="333.50" y1="255.65" x2="336.10" y2="255.65" stroke="#222" stroke-width="1.1"/>
<line x1="592.70" y1="255.65" x2="590.10" y2="255.65" stroke="#222" stroke-width="1.1"/>
<text x="327.00" y="480.20" text-anchor="end" font-size="12" fill="#111" >0</text>
<text x="327.00" y="426.41" text-anchor="end" font-size="12" fill="#111" >1</text>
<text x="327.00" y="366.93" text-anchor="end" font-size="12" fill="#111" >2</text>
<text x="327.00" y="307.44" text-anchor="end" font-size="12" fill="#111" >3</text>
<text x="356.00" y="271.70" text-anchor="start" font-size="12" fill="#111" >Mg I (1.49 µm)</text>
<clipPath id="cp4"><rect x="34.60" y="498.30" width="259.40" height="231.70"/></clipPath>
<g clip-path="url(#cp4)">
<path d="M40.8 712.2V716.2M37.5 712.2h6.6M37.5 716.2h6.6" stroke="#7e160c" stroke-width="1.0" fill="none"/>
<circle cx="40.8" cy="714.2" r="2.6" fill="#7e160c"/>
<path d="M47.2 703.3V707.3M43.9 703.3h6.6M43.9 707.3h6.6" stroke="#7e160c" stroke-width="1.0" fill="none"/>
<circle cx="47.2" cy="705.3" r="2.6" fill="#7e160c"/>
<path d="M53.8 708.0V712.0M50.5 708.0h6.6M50.5 712.0h6.6" stroke="#7e160c" stroke-width="1.0" fill="none"/>
<circle cx="53.8" cy="710.0" r="2.6" fill="#7e160c"/>
<path d="M60.0 708.3V712.3M56.7 708.3h6.6M56.7 712.3h6.6" stroke="#7e160c" stroke-width="1.0" fill="none"/>
<circle cx="60.0" cy="710.3" r="2.6" fill="#7e160c"/>
<path d="M66.3 687.3V693.3M63.0 687.3h6.6M63.0 693.3h6.6" stroke="#7e160c" stroke-width="1.0" fill="none"/>
<circle cx="66.3" cy="690.3" r="2.6" fill="#7e160c"/>
<path d="M66.3 703.3V709.3M63.0 703.3h6.6M63.0 709.3h6.6" stroke="#7e160c" stroke-width="1.0" fill="none"/>
<circle cx="66.3" cy="706.3" r="2.6" fill="#7e160c"/>
<path d="M72.8 689.5V695.5M69.5 689.5h6.6M69.5 695.5h6.6" stroke="#7e160c" stroke-width="1.0" fill="none"/>
<circle cx="72.8" cy="692.5" r="2.6" fill="#7e160c"/>
<path d="M79.2 715.5V719.5M75.9 715.5h6.6M75.9 719.5h6.6" stroke="#7e160c" stroke-width="1.0" fill="none"/>
<circle cx="79.2" cy="717.5" r="2.6" fill="#7e160c"/>
<path d="M85.0 696.2V702.2M81.7 696.2h6.6M81.7 702.2h6.6" stroke="#7e160c" stroke-width="1.0" fill="none"/>
<circle cx="85.0" cy="699.2" r="2.6" fill="#7e160c"/>
<path d="M91.7 680.7V686.7M88.4 680.7h6.6M88.4 686.7h6.6" stroke="#7e160c" stroke-width="1.0" fill="none"/>
<circle cx="91.7" cy="683.7" r="2.6" fill="#7e160c"/>
<path d="M91.7 687.3V695.3M88.4 687.3h6.6M88.4 695.3h6.6" stroke="#7e160c" stroke-width="1.0" fill="none"/>
<circle cx="91.7" cy="691.3" r="2.6" fill="#7e160c"/>
<path d="M91.7 685.5V689.5M88.4 685.5h6.6M88.4 689.5h6.6" stroke="#7e160c" stroke-width="1.0" fill="none"/>
<circle cx="91.7" cy="687.5" r="2.6" fill="#7e160c"/>
<path d="M98.0 666.5V672.5M94.7 666.5h6.6M94.7 672.5h6.6" stroke="#7e160c" stroke-width="1.0" fill="none"/>
<circle cx="98.0" cy="669.5" r="2.6" fill="#7e160c"/>
<path d="M98.0 695.7V703.7M94.7 695.7h6.6M94.7 703.7h6.6" stroke="#7e160c" stroke-width="1.0" fill="none"/>
<circle cx="98.0" cy="699.7" r="2.6" fill="#7e160c"/>
<path d="M101.3 682.8V688.8M98.0 682.8h6.6M98.0 688.8h6.6" stroke="#7e160c" stroke-width="1.0" fill="none"/>
<circle cx="101.3" cy="685.8" r="2.6" fill="#7e160c"/>
<path d="M104.2 683.3V689.3M100.9 683.3h6.6M100.9 689.3h6.6" stroke="#7e160c" stroke-width="1.0" fill="none"/>
<circle cx="104.2" cy="686.3" r="2.6" fill="#7e160c"/>
<path d="M110.5 679.0V687.0M107.2 679.0h6.6M107.2 687.0h6.6" stroke="#7e160c" stroke-width="1.0" fill="none"/>
<circle cx="110.5" cy="683.0" r="2.6" fill="#7e160c"/>
<path d="M113.8 670.0V676.0M110.5 670.0h6.6M110.5 676.0h6.6" stroke="#7e160c" stroke-width="1.0" fill="none"/>
<circle cx="113.8" cy="673.0" r="2.6" fill="#7e160c"/>
<path d="M116.7 667.8V673.8M113.4 667.8h6.6M113.4 673.8h6.6" stroke="#7e160c" stroke-width="1.0" fill="none"/>
<circle cx="116.7" cy="670.8" r="2.6" fill="#7e160c"/>
<path d="M123.3 679.2V685.2M120.0 679.2h6.6M120.0 685.2h6.6" stroke="#7e160c" stroke-width="1.0" fill="none"/>
<circle cx="123.3" cy="682.2" r="2.6" fill="#7e160c"/>
<path d="M129.5 683.7V689.7M126.2 683.7h6.6M126.2 689.7h6.6" stroke="#7e160c" stroke-width="1.0" fill="none"/>
<circle cx="129.5" cy="686.7" r="2.6" fill="#7e160c"/>
<path d="M180.3 602.3V616.3M177.0 602.3h6.6M177.0 616.3h6.6" stroke="#7e160c" stroke-width="1.0" fill="none"/>
<circle cx="180.3" cy="609.3" r="2.6" fill="#7e160c"/>
<path d="M155.0 621.8V635.8M151.7 621.8h6.6M151.7 635.8h6.6" stroke="#7e160c" stroke-width="1.0" fill="none"/>
<circle cx="155.0" cy="628.8" r="2.6" fill="#7e160c"/>
<path d="M167.6 619.9V635.9M164.3 619.9h6.6M164.3 635.9h6.6" stroke="#7e160c" stroke-width="1.0" fill="none"/>
<circle cx="167.6" cy="627.9" r="2.6" fill="#7e160c"/>
<path d="M174.0 635.1V645.1M170.7 635.1h6.6M170.7 645.1h6.6" stroke="#7e160c" stroke-width="1.0" fill="none"/>
<circle cx="174.0" cy="640.1" r="2.6" fill="#7e160c"/>
<path d="M145.2 658.3V666.3M141.9 658.3h6.6M141.9 666.3h6.6" stroke="#7e160c" stroke-width="1.0" fill="none"/>
<circle cx="145.2" cy="662.3" r="2.6" fill="#7e160c"/>
<path d="M155.0 655.6V663.6M151.7 655.6h6.6M151.7 663.6h6.6" stroke="#7e160c" stroke-width="1.0" fill="none"/>
<circle cx="155.0" cy="659.6" r="2.6" fill="#7e160c"/>
<path d="M135.9 678.2V684.2M132.6 678.2h6.6M132.6 684.2h6.6" stroke="#7e160c" stroke-width="1.0" fill="none"/>
<circle cx="135.9" cy="681.2" r="2.6" fill="#7e160c"/>
<path d="M211.8 539.4V553.4M208.5 539.4h6.6M208.5 553.4h6.6" stroke="#7e160c" stroke-width="1.0" fill="none"/>
<circle cx="211.8" cy="546.4" r="2.6" fill="#7e160c"/>
<path d="M211.8 542.3V556.3M208.5 542.3h6.6M208.5 556.3h6.6" stroke="#7e160c" stroke-width="1.0" fill="none"/>
<circle cx="211.8" cy="549.3" r="2.6" fill="#7e160c"/>
<path d="M230.8 536.0V552.0M227.5 536.0h6.6M227.5 552.0h6.6" stroke="#7e160c" stroke-width="1.0" fill="none"/>
<circle cx="230.8" cy="544.0" r="2.6" fill="#7e160c"/>
<path d="M240.6 527.7V547.7M237.3 527.7h6.6M237.3 547.7h6.6" stroke="#7e160c" stroke-width="1.0" fill="none"/>
<circle cx="240.6" cy="537.7" r="2.6" fill="#7e160c"/>
<path d="M234.0 548.4V562.4M230.7 548.4h6.6M230.7 562.4h6.6" stroke="#7e160c" stroke-width="1.0" fill="none"/>
<circle cx="234.0" cy="555.4" r="2.6" fill="#7e160c"/>
<path d="M237.1 561.4V577.4M233.8 561.4h6.6M233.8 577.4h6.6" stroke="#7e160c" stroke-width="1.0" fill="none"/>
<circle cx="237.1" cy="569.4" r="2.6" fill="#7e160c"/>
<path d="M243.8 614.2V634.2M240.5 614.2h6.6M240.5 634.2h6.6" stroke="#7e160c" stroke-width="1.0" fill="none"/>
<circle cx="243.8" cy="624.2" r="2.6" fill="#7e160c"/>
<path d="M250.1 613.7V633.7M246.8 613.7h6.6M246.8 633.7h6.6" stroke="#7e160c" stroke-width="1.0" fill="none"/>
<circle cx="250.1" cy="623.7" r="2.6" fill="#7e160c"/>
<path d="M246.5 622.4V642.4M243.2 622.4h6.6M243.2 642.4h6.6" stroke="#7e160c" stroke-width="1.0" fill="none"/>
<circle cx="246.5" cy="632.4" r="2.6" fill="#7e160c"/>
<path d="M247.0 643.0V663.0M243.7 643.0h6.6M243.7 663.0h6.6" stroke="#7e160c" stroke-width="1.0" fill="none"/>
<circle cx="247.0" cy="653.0" r="2.6" fill="#7e160c"/>
<path d="M253.3 649.6V669.6M250.0 649.6h6.6M250.0 669.6h6.6" stroke="#7e160c" stroke-width="1.0" fill="none"/>
<circle cx="253.3" cy="659.6" r="2.6" fill="#7e160c"/>
<path d="M256.1 669.5V685.5M252.8 669.5h6.6M252.8 685.5h6.6" stroke="#7e160c" stroke-width="1.0" fill="none"/>
<circle cx="256.1" cy="677.5" r="2.6" fill="#7e160c"/>
<path d="M259.6 681.4V697.4M256.3 681.4h6.6M256.3 697.4h6.6" stroke="#7e160c" stroke-width="1.0" fill="none"/>
<circle cx="259.6" cy="689.4" r="2.6" fill="#7e160c"/>
<path d="M256.1 692.5V708.5M252.8 692.5h6.6M252.8 708.5h6.6" stroke="#7e160c" stroke-width="1.0" fill="none"/>
<circle cx="256.1" cy="700.5" r="2.6" fill="#7e160c"/>
<path d="M262.8 687.7V711.7M259.5 687.7h6.6M259.5 711.7h6.6" stroke="#7e160c" stroke-width="1.0" fill="none"/>
<circle cx="262.8" cy="699.7" r="2.6" fill="#7e160c"/>
<path d="M262.8 719.0V740.0M259.5 719.0h6.6M259.5 740.0h6.6" stroke="#7e160c" stroke-width="1.0" fill="none"/>
<circle cx="262.8" cy="735.0" r="2.6" fill="#7e160c"/>
<path d="M269.1 728.0V740.0M265.8 728.0h6.6M265.8 740.0h6.6" stroke="#7e160c" stroke-width="1.0" fill="none"/>
<circle cx="269.1" cy="735.0" r="2.6" fill="#7e160c"/>
<path d="M186.7 585.1V599.1M183.4 585.1h6.6M183.4 599.1h6.6" stroke="#7e160c" stroke-width="1.0" fill="none"/>
<circle cx="186.7" cy="592.1" r="2.6" fill="#7e160c"/>
<path d="M193.1 562.4V580.4M189.8 562.4h6.6M189.8 580.4h6.6" stroke="#7e160c" stroke-width="1.0" fill="none"/>
<circle cx="193.1" cy="571.4" r="2.6" fill="#7e160c"/>
<path d="M199.3 551.2V566.2M196.0 551.2h6.6M196.0 566.2h6.6" stroke="#7e160c" stroke-width="1.0" fill="none"/>
<circle cx="199.3" cy="558.7" r="2.6" fill="#7e160c"/>
<path d="M40.8 714.7V718.7M37.5 714.7h6.6M37.5 718.7h6.6" stroke="#0f580f" stroke-width="1.0" fill="none"/>
<circle cx="40.8" cy="716.7" r="2.6" fill="#0f580f"/>
<path d="M53.8 707.7V715.7M50.5 707.7h6.6M50.5 715.7h6.6" stroke="#0f580f" stroke-width="1.0" fill="none"/>
<circle cx="53.8" cy="711.7" r="2.6" fill="#0f580f"/>
<path d="M66.3 711.7V715.7M63.0 711.7h6.6M63.0 715.7h6.6" stroke="#0f580f" stroke-width="1.0" fill="none"/>
<circle cx="66.3" cy="713.7" r="2.6" fill="#0f580f"/>
<path d="M72.8 709.7V713.7M69.5 709.7h6.6M69.5 713.7h6.6" stroke="#0f580f" stroke-width="1.0" fill="none"/>
<circle cx="72.8" cy="711.7" r="2.6" fill="#0f580f"/>
<path d="M75.8 705.0V711.0M72.5 705.0h6.6M72.5 711.0h6.6" stroke="#0f580f" stroke-width="1.0" fill="none"/>
<circle cx="75.8" cy="708.0" r="2.6" fill="#0f580f"/>
<path d="M79.2 705.0V711.0M75.9 705.0h6.6M75.9 711.0h6.6" stroke="#0f580f" stroke-width="1.0" fill="none"/>
<circle cx="79.2" cy="708.0" r="2.6" fill="#0f580f"/>
<path d="M85.0 700.7V706.7M81.7 700.7h6.6M81.7 706.7h6.6" stroke="#0f580f" stroke-width="1.0" fill="none"/>
<circle cx="85.0" cy="703.7" r="2.6" fill="#0f580f"/>
<path d="M91.7 704.0V710.0M88.4 704.0h6.6M88.4 710.0h6.6" stroke="#0f580f" stroke-width="1.0" fill="none"/>
<circle cx="91.7" cy="707.0" r="2.6" fill="#0f580f"/>
<path d="M98.0 706.2V712.2M94.7 706.2h6.6M94.7 712.2h6.6" stroke="#0f580f" stroke-width="1.0" fill="none"/>
<circle cx="98.0" cy="709.2" r="2.6" fill="#0f580f"/>
<path d="M123.3 691.8V699.8M120.0 691.8h6.6M120.0 699.8h6.6" stroke="#0f580f" stroke-width="1.0" fill="none"/>
<circle cx="123.3" cy="695.8" r="2.6" fill="#0f580f"/>
<path d="M129.5 693.7V703.7M126.2 693.7h6.6M126.2 703.7h6.6" stroke="#0f580f" stroke-width="1.0" fill="none"/>
<circle cx="129.5" cy="698.7" r="2.6" fill="#0f580f"/>
<path d="M161.3 679.8V693.8M158.0 679.8h6.6M158.0 693.8h6.6" stroke="#0f580f" stroke-width="1.0" fill="none"/>
<circle cx="161.3" cy="686.8" r="2.6" fill="#0f580f"/>
<path d="M142.2 684.5V696.5M138.9 684.5h6.6M138.9 696.5h6.6" stroke="#0f580f" stroke-width="1.0" fill="none"/>
<circle cx="142.2" cy="690.5" r="2.6" fill="#0f580f"/>
<path d="M148.6 684.5V696.5M145.3 684.5h6.6M145.3 696.5h6.6" stroke="#0f580f" stroke-width="1.0" fill="none"/>
<circle cx="148.6" cy="690.5" r="2.6" fill="#0f580f"/>
<path d="M152.0 686.2V698.2M148.7 686.2h6.6M148.7 698.2h6.6" stroke="#0f580f" stroke-width="1.0" fill="none"/>
<circle cx="152.0" cy="692.2" r="2.6" fill="#0f580f"/>
<path d="M155.0 686.2V698.2M151.7 686.2h6.6M151.7 698.2h6.6" stroke="#0f580f" stroke-width="1.0" fill="none"/>
<circle cx="155.0" cy="692.2" r="2.6" fill="#0f580f"/>
<path d="M135.9 691.3V703.3M132.6 691.3h6.6M132.6 703.3h6.6" stroke="#0f580f" stroke-width="1.0" fill="none"/>
<circle cx="135.9" cy="697.3" r="2.6" fill="#0f580f"/>
<path d="M155.0 713.8V719.8M151.7 713.8h6.6M151.7 719.8h6.6" stroke="#0f580f" stroke-width="1.0" fill="none"/>
<circle cx="155.0" cy="716.8" r="2.6" fill="#0f580f"/>
<path d="M174.0 658.3V674.3M170.7 658.3h6.6M170.7 674.3h6.6" stroke="#0f580f" stroke-width="1.0" fill="none"/>
<circle cx="174.0" cy="666.3" r="2.6" fill="#0f580f"/>
<path d="M174.0 666.5V686.5M170.7 666.5h6.6M170.7 686.5h6.6" stroke="#0f580f" stroke-width="1.0" fill="none"/>
<circle cx="174.0" cy="676.5" r="2.6" fill="#0f580f"/>
<path d="M180.3 654.3V674.3M177.0 654.3h6.6M177.0 674.3h6.6" stroke="#0f580f" stroke-width="1.0" fill="none"/>
<circle cx="180.3" cy="664.3" r="2.6" fill="#0f580f"/>
<path d="M180.3 661.1V681.1M177.0 661.1h6.6M177.0 681.1h6.6" stroke="#0f580f" stroke-width="1.0" fill="none"/>
<circle cx="180.3" cy="671.1" r="2.6" fill="#0f580f"/>
<path d="M187.0 637.9V661.9M183.7 637.9h6.6M183.7 661.9h6.6" stroke="#0f580f" stroke-width="1.0" fill="none"/>
<circle cx="187.0" cy="649.9" r="2.6" fill="#0f580f"/>
<path d="M187.0 651.5V675.5M183.7 651.5h6.6M183.7 675.5h6.6" stroke="#0f580f" stroke-width="1.0" fill="none"/>
<circle cx="187.0" cy="663.5" r="2.6" fill="#0f580f"/>
<path d="M190.0 645.5V669.5M186.7 645.5h6.6M186.7 669.5h6.6" stroke="#0f580f" stroke-width="1.0" fill="none"/>
<circle cx="190.0" cy="657.5" r="2.6" fill="#0f580f"/>
<path d="M193.0 637.0V661.0M189.7 637.0h6.6M189.7 661.0h6.6" stroke="#0f580f" stroke-width="1.0" fill="none"/>
<circle cx="193.0" cy="649.0" r="2.6" fill="#0f580f"/>
<path d="M199.4 625.8V653.8M196.1 625.8h6.6M196.1 653.8h6.6" stroke="#0f580f" stroke-width="1.0" fill="none"/>
<circle cx="199.4" cy="639.8" r="2.6" fill="#0f580f"/>
<path d="M202.4 621.5V649.5M199.1 621.5h6.6M199.1 649.5h6.6" stroke="#0f580f" stroke-width="1.0" fill="none"/>
<circle cx="202.4" cy="635.5" r="2.6" fill="#0f580f"/>
<path d="M205.8 615.8V647.8M202.5 615.8h6.6M202.5 647.8h6.6" stroke="#0f580f" stroke-width="1.0" fill="none"/>
<circle cx="205.8" cy="631.8" r="2.6" fill="#0f580f"/>
<path d="M212.0 613.8V653.8M208.7 613.8h6.6M208.7 653.8h6.6" stroke="#0f580f" stroke-width="1.0" fill="none"/>
<circle cx="212.0" cy="633.8" r="2.6" fill="#0f580f"/>
<path d="M268.8 560.7V620.7M265.5 560.7h6.6M265.5 620.7h6.6" stroke="#0f580f" stroke-width="1.0" fill="none"/>
<circle cx="268.8" cy="590.7" r="2.6" fill="#0f580f"/>
<path d="M265.6 565.5V625.5M262.3 565.5h6.6M262.3 625.5h6.6" stroke="#0f580f" stroke-width="1.0" fill="none"/>
<circle cx="265.6" cy="595.5" r="2.6" fill="#0f580f"/>
<path d="M268.8 573.1V633.1M265.5 573.1h6.6M265.5 633.1h6.6" stroke="#0f580f" stroke-width="1.0" fill="none"/>
<circle cx="268.8" cy="603.1" r="2.6" fill="#0f580f"/>
<path d="M252.5 570.2V630.2M249.2 570.2h6.6M249.2 630.2h6.6" stroke="#0f580f" stroke-width="1.0" fill="none"/>
<circle cx="252.5" cy="600.2" r="2.6" fill="#0f580f"/>
<path d="M256.5 573.4V633.4M253.2 573.4h6.6M253.2 633.4h6.6" stroke="#0f580f" stroke-width="1.0" fill="none"/>
<circle cx="256.5" cy="603.4" r="2.6" fill="#0f580f"/>
<path d="M259.6 576.6V636.6M256.3 576.6h6.6M256.3 636.6h6.6" stroke="#0f580f" stroke-width="1.0" fill="none"/>
<circle cx="259.6" cy="606.6" r="2.6" fill="#0f580f"/>
<path d="M262.8 575.0V635.0M259.5 575.0h6.6M259.5 635.0h6.6" stroke="#0f580f" stroke-width="1.0" fill="none"/>
<circle cx="262.8" cy="605.0" r="2.6" fill="#0f580f"/>
<path d="M250.1 586.3V636.3M246.8 586.3h6.6M246.8 636.3h6.6" stroke="#0f580f" stroke-width="1.0" fill="none"/>
<circle cx="250.1" cy="611.3" r="2.6" fill="#0f580f"/>
<path d="M247.0 589.5V639.5M243.7 589.5h6.6M243.7 639.5h6.6" stroke="#0f580f" stroke-width="1.0" fill="none"/>
<circle cx="247.0" cy="614.5" r="2.6" fill="#0f580f"/>
<path d="M275.1 577.8V637.8M271.8 577.8h6.6M271.8 637.8h6.6" stroke="#0f580f" stroke-width="1.0" fill="none"/>
<circle cx="275.1" cy="607.8" r="2.6" fill="#0f580f"/>
<path d="M278.3 588.7V638.7M275.0 588.7h6.6M275.0 638.7h6.6" stroke="#0f580f" stroke-width="1.0" fill="none"/>
<circle cx="278.3" cy="613.7" r="2.6" fill="#0f580f"/>
<path d="M287.6 578.2V638.2M284.3 578.2h6.6M284.3 638.2h6.6" stroke="#0f580f" stroke-width="1.0" fill="none"/>
<circle cx="287.6" cy="608.2" r="2.6" fill="#0f580f"/>
<path d="M287.6 592.3V642.3M284.3 592.3h6.6M284.3 642.3h6.6" stroke="#0f580f" stroke-width="1.0" fill="none"/>
<circle cx="287.6" cy="617.3" r="2.6" fill="#0f580f"/>
<path d="M230.8 608.0V648.0M227.5 608.0h6.6M227.5 648.0h6.6" stroke="#0f580f" stroke-width="1.0" fill="none"/>
<circle cx="230.8" cy="628.0" r="2.6" fill="#0f580f"/>
<path d="M230.8 609.0V649.0M227.5 609.0h6.6M227.5 649.0h6.6" stroke="#0f580f" stroke-width="1.0" fill="none"/>
<circle cx="230.8" cy="629.0" r="2.6" fill="#0f580f"/>
<path d="M237.1 615.6V655.6M233.8 615.6h6.6M233.8 655.6h6.6" stroke="#0f580f" stroke-width="1.0" fill="none"/>
<circle cx="237.1" cy="635.6" r="2.6" fill="#0f580f"/>
<path d="M278.3 607.7V677.7M275.0 607.7h6.6M275.0 677.7h6.6" stroke="#0f580f" stroke-width="1.0" fill="none"/>
<circle cx="278.3" cy="642.7" r="2.6" fill="#0f580f"/>
<path d="M285.0 609.3V679.3M281.7 609.3h6.6M281.7 679.3h6.6" stroke="#0f580f" stroke-width="1.0" fill="none"/>
<circle cx="285.0" cy="644.3" r="2.6" fill="#0f580f"/>
<path d="M285.0 613.2V683.2M281.7 613.2h6.6M281.7 683.2h6.6" stroke="#0f580f" stroke-width="1.0" fill="none"/>
<circle cx="285.0" cy="648.2" r="2.6" fill="#0f580f"/>
<path d="M287.6 632.2V692.2M284.3 632.2h6.6M284.3 692.2h6.6" stroke="#0f580f" stroke-width="1.0" fill="none"/>
<circle cx="287.6" cy="662.2" r="2.6" fill="#0f580f"/>
<path d="M285.0 670.8V730.8M281.7 670.8h6.6M281.7 730.8h6.6" stroke="#0f580f" stroke-width="1.0" fill="none"/>
<circle cx="285.0" cy="700.8" r="2.6" fill="#0f580f"/>
<path d="M291.3 720.0V730.0M288.0 720.0h6.6M288.0 730.0h6.6" stroke="#0f580f" stroke-width="1.0" fill="none"/>
<path d="M40.8 717.0V723.0M37.5 717.0h6.6M37.5 723.0h6.6" stroke="#10106e" stroke-width="1.0" fill="none"/>
<circle cx="40.8" cy="720.0" r="2.6" fill="#10106e"/>
<path d="M40.8 726.3V730.3M37.5 726.3h6.6M37.5 730.3h6.6" stroke="#10106e" stroke-width="1.0" fill="none"/>
<circle cx="40.8" cy="728.3" r="2.6" fill="#10106e"/>
<path d="M47.2 719.5V725.5M43.9 719.5h6.6M43.9 725.5h6.6" stroke="#10106e" stroke-width="1.0" fill="none"/>
<circle cx="47.2" cy="722.5" r="2.6" fill="#10106e"/>
<path d="M53.8 715.3V721.3M50.5 715.3h6.6M50.5 721.3h6.6" stroke="#10106e" stroke-width="1.0" fill="none"/>
<circle cx="53.8" cy="718.3" r="2.6" fill="#10106e"/>
<path d="M72.8 702.3V710.3M69.5 702.3h6.6M69.5 710.3h6.6" stroke="#10106e" stroke-width="1.0" fill="none"/>
<circle cx="72.8" cy="706.3" r="2.6" fill="#10106e"/>
<path d="M85.0 707.8V713.8M81.7 707.8h6.6M81.7 713.8h6.6" stroke="#10106e" stroke-width="1.0" fill="none"/>
<circle cx="85.0" cy="710.8" r="2.6" fill="#10106e"/>
<path d="M91.7 701.2V707.2M88.4 701.2h6.6M88.4 707.2h6.6" stroke="#10106e" stroke-width="1.0" fill="none"/>
<circle cx="91.7" cy="704.2" r="2.6" fill="#10106e"/>
<path d="M91.7 708.5V716.5M88.4 708.5h6.6M88.4 716.5h6.6" stroke="#10106e" stroke-width="1.0" fill="none"/>
<circle cx="91.7" cy="712.5" r="2.6" fill="#10106e"/>
<path d="M104.2 700.7V708.7M100.9 700.7h6.6M100.9 708.7h6.6" stroke="#10106e" stroke-width="1.0" fill="none"/>
<circle cx="104.2" cy="704.7" r="2.6" fill="#10106e"/>
<path d="M110.5 697.0V707.0M107.2 697.0h6.6M107.2 707.0h6.6" stroke="#10106e" stroke-width="1.0" fill="none"/>
<circle cx="110.5" cy="702.0" r="2.6" fill="#10106e"/>
<path d="M110.5 710.8V716.8M107.2 710.8h6.6M107.2 716.8h6.6" stroke="#10106e" stroke-width="1.0" fill="none"/>
<circle cx="110.5" cy="713.8" r="2.6" fill="#10106e"/>
<path d="M116.7 697.0V707.0M113.4 697.0h6.6M113.4 707.0h6.6" stroke="#10106e" stroke-width="1.0" fill="none"/>
<circle cx="116.7" cy="702.0" r="2.6" fill="#10106e"/>
<path d="M116.7 706.0V714.0M113.4 706.0h6.6M113.4 714.0h6.6" stroke="#10106e" stroke-width="1.0" fill="none"/>
<circle cx="116.7" cy="710.0" r="2.6" fill="#10106e"/>
<path d="M123.3 695.7V711.7M120.0 695.7h6.6M120.0 711.7h6.6" stroke="#10106e" stroke-width="1.0" fill="none"/>
<circle cx="123.3" cy="703.7" r="2.6" fill="#10106e"/>
<path d="M129.5 714.5V720.5M126.2 714.5h6.6M126.2 720.5h6.6" stroke="#10106e" stroke-width="1.0" fill="none"/>
<circle cx="129.5" cy="717.5" r="2.6" fill="#10106e"/>
<path d="M135.9 688.4V704.4M132.6 688.4h6.6M132.6 704.4h6.6" stroke="#10106e" stroke-width="1.0" fill="none"/>
<circle cx="135.9" cy="696.4" r="2.6" fill="#10106e"/>
<path d="M142.2 695.2V707.2M138.9 695.2h6.6M138.9 707.2h6.6" stroke="#10106e" stroke-width="1.0" fill="none"/>
<circle cx="142.2" cy="701.2" r="2.6" fill="#10106e"/>
<path d="M142.2 697.8V713.8M138.9 697.8h6.6M138.9 713.8h6.6" stroke="#10106e" stroke-width="1.0" fill="none"/>
<circle cx="142.2" cy="705.8" r="2.6" fill="#10106e"/>
<path d="M148.6 694.7V706.7M145.3 694.7h6.6M145.3 706.7h6.6" stroke="#10106e" stroke-width="1.0" fill="none"/>
<circle cx="148.6" cy="700.7" r="2.6" fill="#10106e"/>
<path d="M155.0 691.2V711.2M151.7 691.2h6.6M151.7 711.2h6.6" stroke="#10106e" stroke-width="1.0" fill="none"/>
<circle cx="155.0" cy="701.2" r="2.6" fill="#10106e"/>
<path d="M161.3 695.4V719.4M158.0 695.4h6.6M158.0 719.4h6.6" stroke="#10106e" stroke-width="1.0" fill="none"/>
<circle cx="161.3" cy="707.4" r="2.6" fill="#10106e"/>
<path d="M167.6 683.1V703.1M164.3 683.1h6.6M164.3 703.1h6.6" stroke="#10106e" stroke-width="1.0" fill="none"/>
<circle cx="167.6" cy="693.1" r="2.6" fill="#10106e"/>
<path d="M167.6 686.8V706.8M164.3 686.8h6.6M164.3 706.8h6.6" stroke="#10106e" stroke-width="1.0" fill="none"/>
<circle cx="167.6" cy="696.8" r="2.6" fill="#10106e"/>
<path d="M171.0 682.7V702.7M167.7 682.7h6.6M167.7 702.7h6.6" stroke="#10106e" stroke-width="1.0" fill="none"/>
<circle cx="171.0" cy="692.7" r="2.6" fill="#10106e"/>
<path d="M174.0 667.5V691.5M170.7 667.5h6.6M170.7 691.5h6.6" stroke="#10106e" stroke-width="1.0" fill="none"/>
<circle cx="174.0" cy="679.5" r="2.6" fill="#10106e"/>
<path d="M183.8 655.7V685.7M180.5 655.7h6.6M180.5 685.7h6.6" stroke="#10106e" stroke-width="1.0" fill="none"/>
<circle cx="183.8" cy="670.7" r="2.6" fill="#10106e"/>
<path d="M187.0 648.5V688.5M183.7 648.5h6.6M183.7 688.5h6.6" stroke="#10106e" stroke-width="1.0" fill="none"/>
<circle cx="187.0" cy="668.5" r="2.6" fill="#10106e"/>
<path d="M187.0 659.5V689.5M183.7 659.5h6.6M183.7 689.5h6.6" stroke="#10106e" stroke-width="1.0" fill="none"/>
<circle cx="187.0" cy="674.5" r="2.6" fill="#10106e"/>
<path d="M193.0 633.3V673.3M189.7 633.3h6.6M189.7 673.3h6.6" stroke="#10106e" stroke-width="1.0" fill="none"/>
<circle cx="193.0" cy="653.3" r="2.6" fill="#10106e"/>
<path d="M193.0 649.6V679.6M189.7 649.6h6.6M189.7 679.6h6.6" stroke="#10106e" stroke-width="1.0" fill="none"/>
<circle cx="193.0" cy="664.6" r="2.6" fill="#10106e"/>
<path d="M199.4 618.1V668.1M196.1 618.1h6.6M196.1 668.1h6.6" stroke="#10106e" stroke-width="1.0" fill="none"/>
<circle cx="199.4" cy="643.1" r="2.6" fill="#10106e"/>
<path d="M212.0 621.5V671.5M208.7 621.5h6.6M208.7 671.5h6.6" stroke="#10106e" stroke-width="1.0" fill="none"/>
<circle cx="212.0" cy="646.5" r="2.6" fill="#10106e"/>
<path d="M256.5 564.7V624.7M253.2 564.7h6.6M253.2 624.7h6.6" stroke="#10106e" stroke-width="1.0" fill="none"/>
<circle cx="256.5" cy="594.7" r="2.6" fill="#10106e"/>
<path d="M262.8 561.7V627.7M259.5 561.7h6.6M259.5 627.7h6.6" stroke="#10106e" stroke-width="1.0" fill="none"/>
<circle cx="262.8" cy="594.7" r="2.6" fill="#10106e"/>
<path d="M275.1 565.0V615.0M271.8 565.0h6.6M271.8 615.0h6.6" stroke="#10106e" stroke-width="1.0" fill="none"/>
<circle cx="275.1" cy="590.0" r="2.6" fill="#10106e"/>
<path d="M243.0 581.3V641.3M239.7 581.3h6.6M239.7 641.3h6.6" stroke="#10106e" stroke-width="1.0" fill="none"/>
<circle cx="243.0" cy="611.3" r="2.6" fill="#10106e"/>
<path d="M250.1 586.1V646.1M246.8 586.1h6.6M246.8 646.1h6.6" stroke="#10106e" stroke-width="1.0" fill="none"/>
<circle cx="250.1" cy="616.1" r="2.6" fill="#10106e"/>
<path d="M252.5 584.5V644.5M249.2 584.5h6.6M249.2 644.5h6.6" stroke="#10106e" stroke-width="1.0" fill="none"/>
<circle cx="252.5" cy="614.5" r="2.6" fill="#10106e"/>
<path d="M234.0 594.3V654.3M230.7 594.3h6.6M230.7 654.3h6.6" stroke="#10106e" stroke-width="1.0" fill="none"/>
<circle cx="234.0" cy="624.3" r="2.6" fill="#10106e"/>
<path d="M275.1 595.6V655.6M271.8 595.6h6.6M271.8 655.6h6.6" stroke="#10106e" stroke-width="1.0" fill="none"/>
<circle cx="275.1" cy="625.6" r="2.6" fill="#10106e"/>
<path d="M237.1 598.9V658.9M233.8 598.9h6.6M233.8 658.9h6.6" stroke="#10106e" stroke-width="1.0" fill="none"/>
<circle cx="237.1" cy="628.9" r="2.6" fill="#10106e"/>
<path d="M240.3 608.4V668.4M237.0 608.4h6.6M237.0 668.4h6.6" stroke="#10106e" stroke-width="1.0" fill="none"/>
<circle cx="240.3" cy="638.4" r="2.6" fill="#10106e"/>
<path d="M243.8 622.7V682.7M240.5 622.7h6.6M240.5 682.7h6.6" stroke="#10106e" stroke-width="1.0" fill="none"/>
<circle cx="243.8" cy="652.7" r="2.6" fill="#10106e"/>
<path d="M237.1 627.7V687.7M233.8 627.7h6.6M233.8 687.7h6.6" stroke="#10106e" stroke-width="1.0" fill="none"/>
<circle cx="237.1" cy="657.7" r="2.6" fill="#10106e"/>
<path d="M240.3 627.4V687.4M237.0 627.4h6.6M237.0 687.4h6.6" stroke="#10106e" stroke-width="1.0" fill="none"/>
<circle cx="240.3" cy="657.4" r="2.6" fill="#10106e"/>
<path d="M250.1 628.2V694.2M246.8 628.2h6.6M246.8 694.2h6.6" stroke="#10106e" stroke-width="1.0" fill="none"/>
<circle cx="250.1" cy="661.2" r="2.6" fill="#10106e"/>
<path d="M237.1 661.4V717.4M233.8 661.4h6.6M233.8 717.4h6.6" stroke="#10106e" stroke-width="1.0" fill="none"/>
<circle cx="237.1" cy="689.4" r="2.6" fill="#10106e"/>
<path d="M249.8 609.0V629.0M246.5 609.0h6.6M246.5 629.0h6.6" stroke="#10106e" stroke-width="1.0" fill="none"/>
<circle cx="249.8" cy="619.0" r="2.6" fill="#10106e"/>
<path d="M249.8 618.5V638.5M246.5 618.5h6.6M246.5 638.5h6.6" stroke="#10106e" stroke-width="1.0" fill="none"/>
<circle cx="249.8" cy="628.5" r="2.6" fill="#10106e"/>
<path d="M275.1 629.0V689.0M271.8 629.0h6.6M271.8 689.0h6.6" stroke="#10106e" stroke-width="1.0" fill="none"/>
<circle cx="275.1" cy="659.0" r="2.6" fill="#10106e"/>
</g>
<rect x="34.60" y="498.30" width="259.40" height="231.70" fill="none" stroke="#222" stroke-width="1.3"/>
<line x1="40.93" y1="730.00" x2="40.93" y2="725.50" stroke="#222" stroke-width="1.1"/>
<line x1="40.93" y1="498.30" x2="40.93" y2="502.80" stroke="#222" stroke-width="1.1"/>
<line x1="53.58" y1="730.00" x2="53.58" y2="727.50" stroke="#222" stroke-width="1.1"/>
<line x1="53.58" y1="498.30" x2="53.58" y2="500.80" stroke="#222" stroke-width="1.1"/>
<line x1="66.23" y1="730.00" x2="66.23" y2="727.50" stroke="#222" stroke-width="1.1"/>
<line x1="66.23" y1="498.30" x2="66.23" y2="500.80" stroke="#222" stroke-width="1.1"/>
<line x1="78.89" y1="730.00" x2="78.89" y2="727.50" stroke="#222" stroke-width="1.1"/>
<line x1="78.89" y1="498.30" x2="78.89" y2="500.80" stroke="#222" stroke-width="1.1"/>
<line x1="91.54" y1="730.00" x2="91.54" y2="727.50" stroke="#222" stroke-width="1.1"/>
<line x1="91.54" y1="498.30" x2="91.54" y2="500.80" stroke="#222" stroke-width="1.1"/>
<line x1="104.20" y1="730.00" x2="104.20" y2="725.50" stroke="#222" stroke-width="1.1"/>
<line x1="104.20" y1="498.30" x2="104.20" y2="502.80" stroke="#222" stroke-width="1.1"/>
<line x1="116.85" y1="730.00" x2="116.85" y2="727.50" stroke="#222" stroke-width="1.1"/>
<line x1="116.85" y1="498.30" x2="116.85" y2="500.80" stroke="#222" stroke-width="1.1"/>
<line x1="129.50" y1="730.00" x2="129.50" y2="727.50" stroke="#222" stroke-width="1.1"/>
<line x1="129.50" y1="498.30" x2="129.50" y2="500.80" stroke="#222" stroke-width="1.1"/>
<line x1="142.16" y1="730.00" x2="142.16" y2="727.50" stroke="#222" stroke-width="1.1"/>
<line x1="142.16" y1="498.30" x2="142.16" y2="500.80" stroke="#222" stroke-width="1.1"/>
<line x1="154.81" y1="730.00" x2="154.81" y2="727.50" stroke="#222" stroke-width="1.1"/>
<line x1="154.81" y1="498.30" x2="154.81" y2="500.80" stroke="#222" stroke-width="1.1"/>
<line x1="167.46" y1="730.00" x2="167.46" y2="725.50" stroke="#222" stroke-width="1.1"/>
<line x1="167.46" y1="498.30" x2="167.46" y2="502.80" stroke="#222" stroke-width="1.1"/>
<line x1="180.12" y1="730.00" x2="180.12" y2="727.50" stroke="#222" stroke-width="1.1"/>
<line x1="180.12" y1="498.30" x2="180.12" y2="500.80" stroke="#222" stroke-width="1.1"/>
<line x1="192.77" y1="730.00" x2="192.77" y2="727.50" stroke="#222" stroke-width="1.1"/>
<line x1="192.77" y1="498.30" x2="192.77" y2="500.80" stroke="#222" stroke-width="1.1"/>
<line x1="205.42" y1="730.00" x2="205.42" y2="727.50" stroke="#222" stroke-width="1.1"/>
<line x1="205.42" y1="498.30" x2="205.42" y2="500.80" stroke="#222" stroke-width="1.1"/>
<line x1="218.08" y1="730.00" x2="218.08" y2="727.50" stroke="#222" stroke-width="1.1"/>
<line x1="218.08" y1="498.30" x2="218.08" y2="500.80" stroke="#222" stroke-width="1.1"/>
<line x1="230.73" y1="730.00" x2="230.73" y2="725.50" stroke="#222" stroke-width="1.1"/>
<line x1="230.73" y1="498.30" x2="230.73" y2="502.80" stroke="#222" stroke-width="1.1"/>
<line x1="243.39" y1="730.00" x2="243.39" y2="727.50" stroke="#222" stroke-width="1.1"/>
<line x1="243.39" y1="498.30" x2="243.39" y2="500.80" stroke="#222" stroke-width="1.1"/>
<line x1="256.04" y1="730.00" x2="256.04" y2="727.50" stroke="#222" stroke-width="1.1"/>
<line x1="256.04" y1="498.30" x2="256.04" y2="500.80" stroke="#222" stroke-width="1.1"/>
<line x1="268.69" y1="730.00" x2="268.69" y2="727.50" stroke="#222" stroke-width="1.1"/>
<line x1="268.69" y1="498.30" x2="268.69" y2="500.80" stroke="#222" stroke-width="1.1"/>
<line x1="281.35" y1="730.00" x2="281.35" y2="727.50" stroke="#222" stroke-width="1.1"/>
<line x1="281.35" y1="498.30" x2="281.35" y2="500.80" stroke="#222" stroke-width="1.1"/>
<line x1="294.00" y1="730.00" x2="294.00" y2="725.50" stroke="#222" stroke-width="1.1"/>
<line x1="294.00" y1="498.30" x2="294.00" y2="502.80" stroke="#222" stroke-width="1.1"/>
<line x1="34.60" y1="730.00" x2="39.40" y2="730.00" stroke="#222" stroke-width="1.1"/>
<line x1="294.00" y1="730.00" x2="289.20" y2="730.00" stroke="#222" stroke-width="1.1"/>
<line x1="34.60" y1="720.12" x2="37.20" y2="720.12" stroke="#222" stroke-width="1.1"/>
<line x1="294.00" y1="720.12" x2="291.40" y2="720.12" stroke="#222" stroke-width="1.1"/>
<line x1="34.60" y1="710.24" x2="37.20" y2="710.24" stroke="#222" stroke-width="1.1"/>
<line x1="294.00" y1="710.24" x2="291.40" y2="710.24" stroke="#222" stroke-width="1.1"/>
<line x1="34.60" y1="700.36" x2="37.20" y2="700.36" stroke="#222" stroke-width="1.1"/>
<line x1="294.00" y1="700.36" x2="291.40" y2="700.36" stroke="#222" stroke-width="1.1"/>
<line x1="34.60" y1="690.48" x2="37.20" y2="690.48" stroke="#222" stroke-width="1.1"/>
<line x1="294.00" y1="690.48" x2="291.40" y2="690.48" stroke="#222" stroke-width="1.1"/>
<line x1="34.60" y1="680.60" x2="39.40" y2="680.60" stroke="#222" stroke-width="1.1"/>
<line x1="294.00" y1="680.60" x2="289.20" y2="680.60" stroke="#222" stroke-width="1.1"/>
<line x1="34.60" y1="670.72" x2="37.20" y2="670.72" stroke="#222" stroke-width="1.1"/>
<line x1="294.00" y1="670.72" x2="291.40" y2="670.72" stroke="#222" stroke-width="1.1"/>
<line x1="34.60" y1="660.84" x2="37.20" y2="660.84" stroke="#222" stroke-width="1.1"/>
<line x1="294.00" y1="660.84" x2="291.40" y2="660.84" stroke="#222" stroke-width="1.1"/>
<line x1="34.60" y1="650.96" x2="37.20" y2="650.96" stroke="#222" stroke-width="1.1"/>
<line x1="294.00" y1="650.96" x2="291.40" y2="650.96" stroke="#222" stroke-width="1.1"/>
<line x1="34.60" y1="641.07" x2="37.20" y2="641.07" stroke="#222" stroke-width="1.1"/>
<line x1="294.00" y1="641.07" x2="291.40" y2="641.07" stroke="#222" stroke-width="1.1"/>
<line x1="34.60" y1="631.19" x2="39.40" y2="631.19" stroke="#222" stroke-width="1.1"/>
<line x1="294.00" y1="631.19" x2="289.20" y2="631.19" stroke="#222" stroke-width="1.1"/>
<line x1="34.60" y1="621.31" x2="37.20" y2="621.31" stroke="#222" stroke-width="1.1"/>
<line x1="294.00" y1="621.31" x2="291.40" y2="621.31" stroke="#222" stroke-width="1.1"/>
<line x1="34.60" y1="611.43" x2="37.20" y2="611.43" stroke="#222" stroke-width="1.1"/>
<line x1="294.00" y1="611.43" x2="291.40" y2="611.43" stroke="#222" stroke-width="1.1"/>
<line x1="34.60" y1="601.55" x2="37.20" y2="601.55" stroke="#222" stroke-width="1.1"/>
<line x1="294.00" y1="601.55" x2="291.40" y2="601.55" stroke="#222" stroke-width="1.1"/>
<line x1="34.60" y1="591.67" x2="37.20" y2="591.67" stroke="#222" stroke-width="1.1"/>
<line x1="294.00" y1="591.67" x2="291.40" y2="591.67" stroke="#222" stroke-width="1.1"/>
<line x1="34.60" y1="581.79" x2="39.40" y2="581.79" stroke="#222" stroke-width="1.1"/>
<line x1="294.00" y1="581.79" x2="289.20" y2="581.79" stroke="#222" stroke-width="1.1"/>
<line x1="34.60" y1="571.91" x2="37.20" y2="571.91" stroke="#222" stroke-width="1.1"/>
<line x1="294.00" y1="571.91" x2="291.40" y2="571.91" stroke="#222" stroke-width="1.1"/>
<line x1="34.60" y1="562.03" x2="37.20" y2="562.03" stroke="#222" stroke-width="1.1"/>
<line x1="294.00" y1="562.03" x2="291.40" y2="562.03" stroke="#222" stroke-width="1.1"/>
<line x1="34.60" y1="552.15" x2="37.20" y2="552.15" stroke="#222" stroke-width="1.1"/>
<line x1="294.00" y1="552.15" x2="291.40" y2="552.15" stroke="#222" stroke-width="1.1"/>
<line x1="34.60" y1="542.27" x2="37.20" y2="542.27" stroke="#222" stroke-width="1.1"/>
<line x1="294.00" y1="542.27" x2="291.40" y2="542.27" stroke="#222" stroke-width="1.1"/>
<line x1="34.60" y1="532.39" x2="39.40" y2="532.39" stroke="#222" stroke-width="1.1"/>
<line x1="294.00" y1="532.39" x2="289.20" y2="532.39" stroke="#222" stroke-width="1.1"/>
<line x1="34.60" y1="522.51" x2="37.20" y2="522.51" stroke="#222" stroke-width="1.1"/>
<line x1="294.00" y1="522.51" x2="291.40" y2="522.51" stroke="#222" stroke-width="1.1"/>
<line x1="34.60" y1="512.63" x2="37.20" y2="512.63" stroke="#222" stroke-width="1.1"/>
<line x1="294.00" y1="512.63" x2="291.40" y2="512.63" stroke="#222" stroke-width="1.1"/>
<line x1="34.60" y1="502.75" x2="37.20" y2="502.75" stroke="#222" stroke-width="1.1"/>
<line x1="294.00" y1="502.75" x2="291.40" y2="502.75" stroke="#222" stroke-width="1.1"/>
<text x="28.10" y="728.50" text-anchor="end" font-size="12" fill="#111" >0</text>
<text x="28.10" y="684.80" text-anchor="end" font-size="12" fill="#111" >1</text>
<text x="28.10" y="635.39" text-anchor="end" font-size="12" fill="#111" >2</text>
<text x="28.10" y="585.99" text-anchor="end" font-size="12" fill="#111" >3</text>
<text x="28.10" y="536.59" text-anchor="end" font-size="12" fill="#111" >4</text>
<text x="67.30" y="520.30" text-anchor="start" font-size="12" fill="#111" >Mg I (1.71 µm)</text>
<text x="0" y="0" transform="translate(11.3,614.1) rotate(-90)" text-anchor="middle" font-size="12" fill="#111">EW (Å)</text>
<clipPath id="cp5"><rect x="333.50" y="498.30" width="259.20" height="231.70"/></clipPath>
<g clip-path="url(#cp5)">
<path d="M339.7 715.5V719.5M336.4 715.5h6.6M336.4 719.5h6.6" stroke="#7e160c" stroke-width="1.0" fill="none"/>
<circle cx="339.7" cy="717.5" r="2.6" fill="#7e160c"/>
<path d="M346.0 709.3V713.3M342.7 709.3h6.6M342.7 713.3h6.6" stroke="#7e160c" stroke-width="1.0" fill="none"/>
<circle cx="346.0" cy="711.3" r="2.6" fill="#7e160c"/>
<path d="M358.8 709.3V713.3M355.5 709.3h6.6M355.5 713.3h6.6" stroke="#7e160c" stroke-width="1.0" fill="none"/>
<circle cx="358.8" cy="711.3" r="2.6" fill="#7e160c"/>
<path d="M365.2 696.3V700.3M361.9 696.3h6.6M361.9 700.3h6.6" stroke="#7e160c" stroke-width="1.0" fill="none"/>
<circle cx="365.2" cy="698.3" r="2.6" fill="#7e160c"/>
<path d="M365.2 710.5V714.5M361.9 710.5h6.6M361.9 714.5h6.6" stroke="#7e160c" stroke-width="1.0" fill="none"/>
<circle cx="365.2" cy="712.5" r="2.6" fill="#7e160c"/>
<path d="M371.3 704.5V710.5M368.0 704.5h6.6M368.0 710.5h6.6" stroke="#7e160c" stroke-width="1.0" fill="none"/>
<circle cx="371.3" cy="707.5" r="2.6" fill="#7e160c"/>
<path d="M377.7 719.7V723.7M374.4 719.7h6.6M374.4 723.7h6.6" stroke="#7e160c" stroke-width="1.0" fill="none"/>
<circle cx="377.7" cy="721.7" r="2.6" fill="#7e160c"/>
<path d="M390.5 703.8V707.8M387.2 703.8h6.6M387.2 707.8h6.6" stroke="#7e160c" stroke-width="1.0" fill="none"/>
<circle cx="390.5" cy="705.8" r="2.6" fill="#7e160c"/>
<path d="M396.8 700.0V704.0M393.5 700.0h6.6M393.5 704.0h6.6" stroke="#7e160c" stroke-width="1.0" fill="none"/>
<circle cx="396.8" cy="702.0" r="2.6" fill="#7e160c"/>
<path d="M396.8 712.8V718.8M393.5 712.8h6.6M393.5 718.8h6.6" stroke="#7e160c" stroke-width="1.0" fill="none"/>
<circle cx="396.8" cy="715.8" r="2.6" fill="#7e160c"/>
<path d="M399.7 700.0V704.0M396.4 700.0h6.6M396.4 704.0h6.6" stroke="#7e160c" stroke-width="1.0" fill="none"/>
<circle cx="399.7" cy="702.0" r="2.6" fill="#7e160c"/>
<path d="M409.3 696.2V702.2M406.0 696.2h6.6M406.0 702.2h6.6" stroke="#7e160c" stroke-width="1.0" fill="none"/>
<circle cx="409.3" cy="699.2" r="2.6" fill="#7e160c"/>
<path d="M412.7 699.3V703.3M409.4 699.3h6.6M409.4 703.3h6.6" stroke="#7e160c" stroke-width="1.0" fill="none"/>
<circle cx="412.7" cy="701.3" r="2.6" fill="#7e160c"/>
<path d="M415.8 689.7V693.7M412.5 689.7h6.6M412.5 693.7h6.6" stroke="#7e160c" stroke-width="1.0" fill="none"/>
<circle cx="415.8" cy="691.7" r="2.6" fill="#7e160c"/>
<path d="M422.2 696.3V700.3M418.9 696.3h6.6M418.9 700.3h6.6" stroke="#7e160c" stroke-width="1.0" fill="none"/>
<circle cx="422.2" cy="698.3" r="2.6" fill="#7e160c"/>
<path d="M510.6 621.2V625.2M507.3 621.2h6.6M507.3 625.2h6.6" stroke="#7e160c" stroke-width="1.0" fill="none"/>
<circle cx="510.6" cy="623.2" r="2.6" fill="#7e160c"/>
<path d="M491.2 626.9V630.9M487.9 626.9h6.6M487.9 630.9h6.6" stroke="#7e160c" stroke-width="1.0" fill="none"/>
<circle cx="491.2" cy="628.9" r="2.6" fill="#7e160c"/>
<path d="M498.0 639.8V643.8M494.7 639.8h6.6M494.7 643.8h6.6" stroke="#7e160c" stroke-width="1.0" fill="none"/>
<circle cx="498.0" cy="641.8" r="2.6" fill="#7e160c"/>
<path d="M465.9 652.6V656.6M462.6 652.6h6.6M462.6 656.6h6.6" stroke="#7e160c" stroke-width="1.0" fill="none"/>
<circle cx="465.9" cy="654.6" r="2.6" fill="#7e160c"/>
<path d="M453.9 660.7V664.7M450.6 660.7h6.6M450.6 664.7h6.6" stroke="#7e160c" stroke-width="1.0" fill="none"/>
<circle cx="453.9" cy="662.7" r="2.6" fill="#7e160c"/>
<path d="M479.1 665.0V669.0M475.8 665.0h6.6M475.8 669.0h6.6" stroke="#7e160c" stroke-width="1.0" fill="none"/>
<circle cx="479.1" cy="667.0" r="2.6" fill="#7e160c"/>
<path d="M485.1 648.7V652.7M481.8 648.7h6.6M481.8 652.7h6.6" stroke="#7e160c" stroke-width="1.0" fill="none"/>
<circle cx="485.1" cy="650.7" r="2.6" fill="#7e160c"/>
<path d="M473.1 683.0V687.0M469.8 683.0h6.6M469.8 687.0h6.6" stroke="#7e160c" stroke-width="1.0" fill="none"/>
<circle cx="473.1" cy="685.0" r="2.6" fill="#7e160c"/>
<path d="M453.9 689.1V693.1M450.6 689.1h6.6M450.6 693.1h6.6" stroke="#7e160c" stroke-width="1.0" fill="none"/>
<circle cx="453.9" cy="691.1" r="2.6" fill="#7e160c"/>
<path d="M434.5 701.1V705.1M431.2 701.1h6.6M431.2 705.1h6.6" stroke="#7e160c" stroke-width="1.0" fill="none"/>
<circle cx="434.5" cy="703.1" r="2.6" fill="#7e160c"/>
<path d="M539.1 510.8V514.8M535.8 510.8h6.6M535.8 514.8h6.6" stroke="#7e160c" stroke-width="1.0" fill="none"/>
<circle cx="539.1" cy="512.8" r="2.6" fill="#7e160c"/>
<path d="M567.5 521.6V531.6M564.2 521.6h6.6M564.2 531.6h6.6" stroke="#7e160c" stroke-width="1.0" fill="none"/>
<circle cx="567.5" cy="526.6" r="2.6" fill="#7e160c"/>
<path d="M580.3 523.5V537.5M577.0 523.5h6.6M577.0 537.5h6.6" stroke="#7e160c" stroke-width="1.0" fill="none"/>
<circle cx="580.3" cy="530.5" r="2.6" fill="#7e160c"/>
<path d="M561.3 528.8V536.8M558.0 528.8h6.6M558.0 536.8h6.6" stroke="#7e160c" stroke-width="1.0" fill="none"/>
<circle cx="561.3" cy="532.8" r="2.6" fill="#7e160c"/>
<path d="M558.1 536.3V544.3M554.8 536.3h6.6M554.8 544.3h6.6" stroke="#7e160c" stroke-width="1.0" fill="none"/>
<circle cx="558.1" cy="540.3" r="2.6" fill="#7e160c"/>
<path d="M561.3 538.0V548.0M558.0 538.0h6.6M558.0 548.0h6.6" stroke="#7e160c" stroke-width="1.0" fill="none"/>
<circle cx="561.3" cy="543.0" r="2.6" fill="#7e160c"/>
<path d="M548.8 558.7V564.7M545.5 558.7h6.6M545.5 564.7h6.6" stroke="#7e160c" stroke-width="1.0" fill="none"/>
<circle cx="548.8" cy="561.7" r="2.6" fill="#7e160c"/>
<path d="M586.3 555.2V569.2M583.0 555.2h6.6M583.0 569.2h6.6" stroke="#7e160c" stroke-width="1.0" fill="none"/>
<circle cx="586.3" cy="562.2" r="2.6" fill="#7e160c"/>
<path d="M535.9 572.5V576.5M532.6 572.5h6.6M532.6 576.5h6.6" stroke="#7e160c" stroke-width="1.0" fill="none"/>
<circle cx="535.9" cy="574.5" r="2.6" fill="#7e160c"/>
<path d="M532.3 586.3V590.3M529.0 586.3h6.6M529.0 590.3h6.6" stroke="#7e160c" stroke-width="1.0" fill="none"/>
<circle cx="532.3" cy="588.3" r="2.6" fill="#7e160c"/>
<path d="M570.6 576.6V590.6M567.3 576.6h6.6M567.3 590.6h6.6" stroke="#7e160c" stroke-width="1.0" fill="none"/>
<circle cx="570.6" cy="583.6" r="2.6" fill="#7e160c"/>
<path d="M580.3 577.4V591.4M577.0 577.4h6.6M577.0 591.4h6.6" stroke="#7e160c" stroke-width="1.0" fill="none"/>
<circle cx="580.3" cy="584.4" r="2.6" fill="#7e160c"/>
<path d="M545.3 590.4V596.4M542.0 590.4h6.6M542.0 596.4h6.6" stroke="#7e160c" stroke-width="1.0" fill="none"/>
<circle cx="545.3" cy="593.4" r="2.6" fill="#7e160c"/>
<path d="M545.3 597.0V603.0M542.0 597.0h6.6M542.0 603.0h6.6" stroke="#7e160c" stroke-width="1.0" fill="none"/>
<circle cx="545.3" cy="600.0" r="2.6" fill="#7e160c"/>
<path d="M586.3 588.8V608.8M583.0 588.8h6.6M583.0 608.8h6.6" stroke="#7e160c" stroke-width="1.0" fill="none"/>
<circle cx="586.3" cy="598.8" r="2.6" fill="#7e160c"/>
<path d="M573.8 596.8V608.8M570.5 596.8h6.6M570.5 608.8h6.6" stroke="#7e160c" stroke-width="1.0" fill="none"/>
<circle cx="573.8" cy="602.8" r="2.6" fill="#7e160c"/>
<path d="M529.2 606.6V610.6M525.9 606.6h6.6M525.9 610.6h6.6" stroke="#7e160c" stroke-width="1.0" fill="none"/>
<circle cx="529.2" cy="608.6" r="2.6" fill="#7e160c"/>
<path d="M541.9 640.0V646.0M538.6 640.0h6.6M538.6 646.0h6.6" stroke="#7e160c" stroke-width="1.0" fill="none"/>
<circle cx="541.9" cy="643.0" r="2.6" fill="#7e160c"/>
<path d="M554.8 643.3V651.3M551.5 643.3h6.6M551.5 651.3h6.6" stroke="#7e160c" stroke-width="1.0" fill="none"/>
<circle cx="554.8" cy="647.3" r="2.6" fill="#7e160c"/>
<path d="M589.2 645.3V661.3M585.9 645.3h6.6M585.9 661.3h6.6" stroke="#7e160c" stroke-width="1.0" fill="none"/>
<circle cx="589.2" cy="653.3" r="2.6" fill="#7e160c"/>
<path d="M586.6 652.1V668.1M583.3 652.1h6.6M583.3 668.1h6.6" stroke="#7e160c" stroke-width="1.0" fill="none"/>
<circle cx="586.6" cy="660.1" r="2.6" fill="#7e160c"/>
<path d="M352.7 712.8V718.8M349.4 712.8h6.6M349.4 718.8h6.6" stroke="#0f580f" stroke-width="1.0" fill="none"/>
<circle cx="352.7" cy="715.8" r="2.6" fill="#0f580f"/>
<path d="M365.2 716.3V720.3M361.9 716.3h6.6M361.9 720.3h6.6" stroke="#0f580f" stroke-width="1.0" fill="none"/>
<circle cx="365.2" cy="718.3" r="2.6" fill="#0f580f"/>
<path d="M374.7 708.7V714.7M371.4 708.7h6.6M371.4 714.7h6.6" stroke="#0f580f" stroke-width="1.0" fill="none"/>
<circle cx="374.7" cy="711.7" r="2.6" fill="#0f580f"/>
<path d="M377.7 703.8V707.8M374.4 703.8h6.6M374.4 707.8h6.6" stroke="#0f580f" stroke-width="1.0" fill="none"/>
<circle cx="377.7" cy="705.8" r="2.6" fill="#0f580f"/>
<path d="M390.5 711.3V715.3M387.2 711.3h6.6M387.2 715.3h6.6" stroke="#0f580f" stroke-width="1.0" fill="none"/>
<circle cx="390.5" cy="713.3" r="2.6" fill="#0f580f"/>
<path d="M396.8 708.0V712.0M393.5 708.0h6.6M393.5 712.0h6.6" stroke="#0f580f" stroke-width="1.0" fill="none"/>
<circle cx="396.8" cy="710.0" r="2.6" fill="#0f580f"/>
<path d="M409.3 695.3V701.3M406.0 695.3h6.6M406.0 701.3h6.6" stroke="#0f580f" stroke-width="1.0" fill="none"/>
<circle cx="409.3" cy="698.3" r="2.6" fill="#0f580f"/>
<path d="M428.0 695.3V701.3M424.7 695.3h6.6M424.7 701.3h6.6" stroke="#0f580f" stroke-width="1.0" fill="none"/>
<circle cx="428.0" cy="698.3" r="2.6" fill="#0f580f"/>
<path d="M428.0 699.0V705.0M424.7 699.0h6.6M424.7 705.0h6.6" stroke="#0f580f" stroke-width="1.0" fill="none"/>
<circle cx="428.0" cy="702.0" r="2.6" fill="#0f580f"/>
<path d="M428.1 695.8V701.8M424.8 695.8h6.6M424.8 701.8h6.6" stroke="#0f580f" stroke-width="1.0" fill="none"/>
<circle cx="428.1" cy="698.8" r="2.6" fill="#0f580f"/>
<path d="M428.1 699.4V703.4M424.8 699.4h6.6M424.8 703.4h6.6" stroke="#0f580f" stroke-width="1.0" fill="none"/>
<circle cx="428.1" cy="701.4" r="2.6" fill="#0f580f"/>
<path d="M434.5 695.8V701.8M431.2 695.8h6.6M431.2 701.8h6.6" stroke="#0f580f" stroke-width="1.0" fill="none"/>
<circle cx="434.5" cy="698.8" r="2.6" fill="#0f580f"/>
<path d="M447.0 694.2V698.2M443.7 694.2h6.6M443.7 698.2h6.6" stroke="#0f580f" stroke-width="1.0" fill="none"/>
<circle cx="447.0" cy="696.2" r="2.6" fill="#0f580f"/>
<path d="M450.8 697.3V701.3M447.5 697.3h6.6M447.5 701.3h6.6" stroke="#0f580f" stroke-width="1.0" fill="none"/>
<circle cx="450.8" cy="699.3" r="2.6" fill="#0f580f"/>
<path d="M453.9 699.2V705.2M450.6 699.2h6.6M450.6 705.2h6.6" stroke="#0f580f" stroke-width="1.0" fill="none"/>
<circle cx="453.9" cy="702.2" r="2.6" fill="#0f580f"/>
<path d="M460.2 696.8V700.8M456.9 696.8h6.6M456.9 700.8h6.6" stroke="#0f580f" stroke-width="1.0" fill="none"/>
<circle cx="460.2" cy="698.8" r="2.6" fill="#0f580f"/>
<path d="M466.2 694.2V698.2M462.9 694.2h6.6M462.9 698.2h6.6" stroke="#0f580f" stroke-width="1.0" fill="none"/>
<circle cx="466.2" cy="696.2" r="2.6" fill="#0f580f"/>
<path d="M472.8 672.1V678.1M469.5 672.1h6.6M469.5 678.1h6.6" stroke="#0f580f" stroke-width="1.0" fill="none"/>
<circle cx="472.8" cy="675.1" r="2.6" fill="#0f580f"/>
<path d="M469.3 677.8V683.8M466.0 677.8h6.6M466.0 683.8h6.6" stroke="#0f580f" stroke-width="1.0" fill="none"/>
<circle cx="469.3" cy="680.8" r="2.6" fill="#0f580f"/>
<path d="M473.1 689.1V693.1M469.8 689.1h6.6M469.8 693.1h6.6" stroke="#0f580f" stroke-width="1.0" fill="none"/>
<circle cx="473.1" cy="691.1" r="2.6" fill="#0f580f"/>
<path d="M479.1 674.8V680.8M475.8 674.8h6.6M475.8 680.8h6.6" stroke="#0f580f" stroke-width="1.0" fill="none"/>
<circle cx="479.1" cy="677.8" r="2.6" fill="#0f580f"/>
<path d="M479.1 682.9V688.9M475.8 682.9h6.6M475.8 688.9h6.6" stroke="#0f580f" stroke-width="1.0" fill="none"/>
<circle cx="479.1" cy="685.9" r="2.6" fill="#0f580f"/>
<path d="M485.1 663.2V669.2M481.8 663.2h6.6M481.8 669.2h6.6" stroke="#0f580f" stroke-width="1.0" fill="none"/>
<circle cx="485.1" cy="666.2" r="2.6" fill="#0f580f"/>
<path d="M492.0 664.7V668.7M488.7 664.7h6.6M488.7 668.7h6.6" stroke="#0f580f" stroke-width="1.0" fill="none"/>
<circle cx="492.0" cy="666.7" r="2.6" fill="#0f580f"/>
<path d="M488.6 645.0V653.0M485.3 645.0h6.6M485.3 653.0h6.6" stroke="#0f580f" stroke-width="1.0" fill="none"/>
<circle cx="488.6" cy="649.0" r="2.6" fill="#0f580f"/>
<path d="M498.5 646.8V652.8M495.2 646.8h6.6M495.2 652.8h6.6" stroke="#0f580f" stroke-width="1.0" fill="none"/>
<circle cx="498.5" cy="649.8" r="2.6" fill="#0f580f"/>
<path d="M501.5 646.0V652.0M498.2 646.0h6.6M498.2 652.0h6.6" stroke="#0f580f" stroke-width="1.0" fill="none"/>
<circle cx="501.5" cy="649.0" r="2.6" fill="#0f580f"/>
<path d="M504.4 651.6V657.6M501.1 651.6h6.6M501.1 657.6h6.6" stroke="#0f580f" stroke-width="1.0" fill="none"/>
<circle cx="504.4" cy="654.6" r="2.6" fill="#0f580f"/>
<path d="M510.6 651.6V657.6M507.3 651.6h6.6M507.3 657.6h6.6" stroke="#0f580f" stroke-width="1.0" fill="none"/>
<circle cx="510.6" cy="654.6" r="2.6" fill="#0f580f"/>
<path d="M453.9 727.9V729.9M450.6 727.9h6.6M450.6 729.9h6.6" stroke="#0f580f" stroke-width="1.0" fill="none"/>
<circle cx="453.9" cy="728.9" r="2.6" fill="#0f580f"/>
<path d="M558.1 601.3V611.3M554.8 601.3h6.6M554.8 611.3h6.6" stroke="#0f580f" stroke-width="1.0" fill="none"/>
<circle cx="558.1" cy="606.3" r="2.6" fill="#0f580f"/>
<path d="M564.4 599.4V609.4M561.1 599.4h6.6M561.1 609.4h6.6" stroke="#0f580f" stroke-width="1.0" fill="none"/>
<circle cx="564.4" cy="604.4" r="2.6" fill="#0f580f"/>
<path d="M567.5 613.5V621.5M564.2 613.5h6.6M564.2 621.5h6.6" stroke="#0f580f" stroke-width="1.0" fill="none"/>
<circle cx="567.5" cy="617.5" r="2.6" fill="#0f580f"/>
<path d="M529.9 658.1V662.1M526.6 658.1h6.6M526.6 662.1h6.6" stroke="#0f580f" stroke-width="1.0" fill="none"/>
<circle cx="529.9" cy="660.1" r="2.6" fill="#0f580f"/>
<path d="M541.9 655.6V659.6M538.6 655.6h6.6M538.6 659.6h6.6" stroke="#0f580f" stroke-width="1.0" fill="none"/>
<circle cx="541.9" cy="657.6" r="2.6" fill="#0f580f"/>
<path d="M545.4 631.4V641.4M542.1 631.4h6.6M542.1 641.4h6.6" stroke="#0f580f" stroke-width="1.0" fill="none"/>
<circle cx="545.4" cy="636.4" r="2.6" fill="#0f580f"/>
<path d="M548.8 636.2V646.2M545.5 636.2h6.6M545.5 646.2h6.6" stroke="#0f580f" stroke-width="1.0" fill="none"/>
<circle cx="548.8" cy="641.2" r="2.6" fill="#0f580f"/>
<path d="M551.4 636.2V646.2M548.1 636.2h6.6M548.1 646.2h6.6" stroke="#0f580f" stroke-width="1.0" fill="none"/>
<circle cx="551.4" cy="641.2" r="2.6" fill="#0f580f"/>
<path d="M554.8 640.0V650.0M551.5 640.0h6.6M551.5 650.0h6.6" stroke="#0f580f" stroke-width="1.0" fill="none"/>
<circle cx="554.8" cy="645.0" r="2.6" fill="#0f580f"/>
<path d="M567.7 613.2V621.2M564.4 613.2h6.6M564.4 621.2h6.6" stroke="#0f580f" stroke-width="1.0" fill="none"/>
<circle cx="567.7" cy="617.2" r="2.6" fill="#0f580f"/>
<path d="M567.7 619.2V627.2M564.4 619.2h6.6M564.4 627.2h6.6" stroke="#0f580f" stroke-width="1.0" fill="none"/>
<circle cx="567.7" cy="623.2" r="2.6" fill="#0f580f"/>
<path d="M573.7 625.4V631.4M570.4 625.4h6.6M570.4 631.4h6.6" stroke="#0f580f" stroke-width="1.0" fill="none"/>
<circle cx="573.7" cy="628.4" r="2.6" fill="#0f580f"/>
<path d="M577.2 635.6V649.6M573.9 635.6h6.6M573.9 649.6h6.6" stroke="#0f580f" stroke-width="1.0" fill="none"/>
<circle cx="577.2" cy="642.6" r="2.6" fill="#0f580f"/>
<path d="M577.2 648.4V688.4M573.9 648.4h6.6M573.9 688.4h6.6" stroke="#0f580f" stroke-width="1.0" fill="none"/>
<circle cx="577.2" cy="668.4" r="2.6" fill="#0f580f"/>
<path d="M573.7 679.7V699.7M570.4 679.7h6.6M570.4 699.7h6.6" stroke="#0f580f" stroke-width="1.0" fill="none"/>
<circle cx="573.7" cy="689.7" r="2.6" fill="#0f580f"/>
<path d="M586.6 628.4V640.4M583.3 628.4h6.6M583.3 640.4h6.6" stroke="#0f580f" stroke-width="1.0" fill="none"/>
<circle cx="586.6" cy="634.4" r="2.6" fill="#0f580f"/>
<path d="M586.6 655.3V675.3M583.3 655.3h6.6M583.3 675.3h6.6" stroke="#0f580f" stroke-width="1.0" fill="none"/>
<circle cx="586.6" cy="665.3" r="2.6" fill="#0f580f"/>
<path d="M583.5 671.8V701.8M580.2 671.8h6.6M580.2 701.8h6.6" stroke="#0f580f" stroke-width="1.0" fill="none"/>
<circle cx="583.5" cy="686.8" r="2.6" fill="#0f580f"/>
<path d="M583.5 679.5V709.5M580.2 679.5h6.6M580.2 709.5h6.6" stroke="#0f580f" stroke-width="1.0" fill="none"/>
<circle cx="583.5" cy="694.5" r="2.6" fill="#0f580f"/>
<path d="M587.0 679.2V709.2M583.7 679.2h6.6M583.7 709.2h6.6" stroke="#0f580f" stroke-width="1.0" fill="none"/>
<circle cx="587.0" cy="694.2" r="2.6" fill="#0f580f"/>
<path d="M583.5 703.7V743.7M580.2 703.7h6.6M580.2 743.7h6.6" stroke="#0f580f" stroke-width="1.0" fill="none"/>
<circle cx="583.5" cy="723.7" r="2.6" fill="#0f580f"/>
<path d="M589.5 713.0V743.0M586.2 713.0h6.6M586.2 743.0h6.6" stroke="#0f580f" stroke-width="1.0" fill="none"/>
<circle cx="589.5" cy="728.0" r="2.6" fill="#0f580f"/>
<path d="M339.7 717.7V725.7M336.4 717.7h6.6M336.4 725.7h6.6" stroke="#10106e" stroke-width="1.0" fill="none"/>
<circle cx="339.7" cy="721.7" r="2.6" fill="#10106e"/>
<path d="M346.0 724.5V730.5M342.7 724.5h6.6M342.7 730.5h6.6" stroke="#10106e" stroke-width="1.0" fill="none"/>
<circle cx="346.0" cy="727.5" r="2.6" fill="#10106e"/>
<path d="M352.7 717.0V723.0M349.4 717.0h6.6M349.4 723.0h6.6" stroke="#10106e" stroke-width="1.0" fill="none"/>
<circle cx="352.7" cy="720.0" r="2.6" fill="#10106e"/>
<path d="M352.7 728.0V732.0M349.4 728.0h6.6M349.4 732.0h6.6" stroke="#10106e" stroke-width="1.0" fill="none"/>
<circle cx="352.7" cy="730.0" r="2.6" fill="#10106e"/>
<path d="M371.3 699.5V705.5M368.0 699.5h6.6M368.0 705.5h6.6" stroke="#10106e" stroke-width="1.0" fill="none"/>
<circle cx="371.3" cy="702.5" r="2.6" fill="#10106e"/>
<path d="M371.3 710.0V716.0M368.0 710.0h6.6M368.0 716.0h6.6" stroke="#10106e" stroke-width="1.0" fill="none"/>
<circle cx="371.3" cy="713.0" r="2.6" fill="#10106e"/>
<path d="M383.8 707.8V713.8M380.5 707.8h6.6M380.5 713.8h6.6" stroke="#10106e" stroke-width="1.0" fill="none"/>
<circle cx="383.8" cy="710.8" r="2.6" fill="#10106e"/>
<path d="M383.8 710.5V714.5M380.5 710.5h6.6M380.5 714.5h6.6" stroke="#10106e" stroke-width="1.0" fill="none"/>
<circle cx="383.8" cy="712.5" r="2.6" fill="#10106e"/>
<path d="M390.5 695.3V701.3M387.2 695.3h6.6M387.2 701.3h6.6" stroke="#10106e" stroke-width="1.0" fill="none"/>
<circle cx="390.5" cy="698.3" r="2.6" fill="#10106e"/>
<path d="M390.5 706.0V714.0M387.2 706.0h6.6M387.2 714.0h6.6" stroke="#10106e" stroke-width="1.0" fill="none"/>
<circle cx="390.5" cy="710.0" r="2.6" fill="#10106e"/>
<path d="M403.0 700.3V706.3M399.7 700.3h6.6M399.7 706.3h6.6" stroke="#10106e" stroke-width="1.0" fill="none"/>
<circle cx="403.0" cy="703.3" r="2.6" fill="#10106e"/>
<path d="M409.3 692.0V698.0M406.0 692.0h6.6M406.0 698.0h6.6" stroke="#10106e" stroke-width="1.0" fill="none"/>
<circle cx="409.3" cy="695.0" r="2.6" fill="#10106e"/>
<path d="M409.3 715.5V719.5M406.0 715.5h6.6M406.0 719.5h6.6" stroke="#10106e" stroke-width="1.0" fill="none"/>
<circle cx="409.3" cy="717.5" r="2.6" fill="#10106e"/>
<path d="M415.8 691.8V699.8M412.5 691.8h6.6M412.5 699.8h6.6" stroke="#10106e" stroke-width="1.0" fill="none"/>
<circle cx="415.8" cy="695.8" r="2.6" fill="#10106e"/>
<path d="M415.8 704.5V710.5M412.5 704.5h6.6M412.5 710.5h6.6" stroke="#10106e" stroke-width="1.0" fill="none"/>
<circle cx="415.8" cy="707.5" r="2.6" fill="#10106e"/>
<path d="M422.2 686.7V692.7M418.9 686.7h6.6M418.9 692.7h6.6" stroke="#10106e" stroke-width="1.0" fill="none"/>
<circle cx="422.2" cy="689.7" r="2.6" fill="#10106e"/>
<path d="M422.2 700.5V704.5M418.9 700.5h6.6M418.9 704.5h6.6" stroke="#10106e" stroke-width="1.0" fill="none"/>
<circle cx="422.2" cy="702.5" r="2.6" fill="#10106e"/>
<path d="M428.0 720.0V726.0M424.7 720.0h6.6M424.7 726.0h6.6" stroke="#10106e" stroke-width="1.0" fill="none"/>
<circle cx="428.0" cy="723.0" r="2.6" fill="#10106e"/>
<path d="M491.2 612.5V630.5M487.9 612.5h6.6M487.9 630.5h6.6" stroke="#10106e" stroke-width="1.0" fill="none"/>
<circle cx="491.2" cy="621.5" r="2.6" fill="#10106e"/>
<path d="M498.0 622.9V634.9M494.7 622.9h6.6M494.7 634.9h6.6" stroke="#10106e" stroke-width="1.0" fill="none"/>
<circle cx="498.0" cy="628.9" r="2.6" fill="#10106e"/>
<path d="M510.6 624.6V636.6M507.3 624.6h6.6M507.3 636.6h6.6" stroke="#10106e" stroke-width="1.0" fill="none"/>
<circle cx="510.6" cy="630.6" r="2.6" fill="#10106e"/>
<path d="M485.1 633.4V647.4M481.8 633.4h6.6M481.8 647.4h6.6" stroke="#10106e" stroke-width="1.0" fill="none"/>
<circle cx="485.1" cy="640.4" r="2.6" fill="#10106e"/>
<path d="M472.8 641.3V657.3M469.5 641.3h6.6M469.5 657.3h6.6" stroke="#10106e" stroke-width="1.0" fill="none"/>
<circle cx="472.8" cy="649.3" r="2.6" fill="#10106e"/>
<path d="M482.6 649.1V659.1M479.3 649.1h6.6M479.3 659.1h6.6" stroke="#10106e" stroke-width="1.0" fill="none"/>
<circle cx="482.6" cy="654.1" r="2.6" fill="#10106e"/>
<path d="M491.7 644.0V654.0M488.4 644.0h6.6M488.4 654.0h6.6" stroke="#10106e" stroke-width="1.0" fill="none"/>
<circle cx="491.7" cy="649.0" r="2.6" fill="#10106e"/>
<path d="M485.1 657.1V663.1M481.8 657.1h6.6M481.8 663.1h6.6" stroke="#10106e" stroke-width="1.0" fill="none"/>
<circle cx="485.1" cy="660.1" r="2.6" fill="#10106e"/>
<path d="M453.9 670.2V678.2M450.6 670.2h6.6M450.6 678.2h6.6" stroke="#10106e" stroke-width="1.0" fill="none"/>
<circle cx="453.9" cy="674.2" r="2.6" fill="#10106e"/>
<path d="M434.5 681.0V685.0M431.2 681.0h6.6M431.2 685.0h6.6" stroke="#10106e" stroke-width="1.0" fill="none"/>
<circle cx="434.5" cy="683.0" r="2.6" fill="#10106e"/>
<path d="M440.5 686.7V692.7M437.2 686.7h6.6M437.2 692.7h6.6" stroke="#10106e" stroke-width="1.0" fill="none"/>
<circle cx="440.5" cy="689.7" r="2.6" fill="#10106e"/>
<path d="M440.5 692.4V698.4M437.2 692.4h6.6M437.2 698.4h6.6" stroke="#10106e" stroke-width="1.0" fill="none"/>
<circle cx="440.5" cy="695.4" r="2.6" fill="#10106e"/>
<path d="M447.0 690.1V696.1M443.7 690.1h6.6M443.7 696.1h6.6" stroke="#10106e" stroke-width="1.0" fill="none"/>
<circle cx="447.0" cy="693.1" r="2.6" fill="#10106e"/>
<path d="M460.2 684.5V692.5M456.9 684.5h6.6M456.9 692.5h6.6" stroke="#10106e" stroke-width="1.0" fill="none"/>
<circle cx="460.2" cy="688.5" r="2.6" fill="#10106e"/>
<path d="M466.2 678.6V684.6M462.9 678.6h6.6M462.9 684.6h6.6" stroke="#10106e" stroke-width="1.0" fill="none"/>
<circle cx="466.2" cy="681.6" r="2.6" fill="#10106e"/>
<path d="M466.2 688.1V694.1M462.9 688.1h6.6M462.9 694.1h6.6" stroke="#10106e" stroke-width="1.0" fill="none"/>
<circle cx="466.2" cy="691.1" r="2.6" fill="#10106e"/>
<path d="M469.3 685.5V691.5M466.0 685.5h6.6M466.0 691.5h6.6" stroke="#10106e" stroke-width="1.0" fill="none"/>
<circle cx="469.3" cy="688.5" r="2.6" fill="#10106e"/>
<path d="M428.1 720.9V724.9M424.8 720.9h6.6M424.8 724.9h6.6" stroke="#10106e" stroke-width="1.0" fill="none"/>
<circle cx="428.1" cy="722.9" r="2.6" fill="#10106e"/>
<path d="M535.9 604.0V618.0M532.6 604.0h6.6M532.6 618.0h6.6" stroke="#10106e" stroke-width="1.0" fill="none"/>
<circle cx="535.9" cy="611.0" r="2.6" fill="#10106e"/>
<path d="M548.8 601.0V613.0M545.5 601.0h6.6M545.5 613.0h6.6" stroke="#10106e" stroke-width="1.0" fill="none"/>
<circle cx="548.8" cy="607.0" r="2.6" fill="#10106e"/>
<path d="M551.6 599.0V611.0M548.3 599.0h6.6M548.3 611.0h6.6" stroke="#10106e" stroke-width="1.0" fill="none"/>
<circle cx="551.6" cy="605.0" r="2.6" fill="#10106e"/>
<path d="M561.3 602.8V612.8M558.0 602.8h6.6M558.0 612.8h6.6" stroke="#10106e" stroke-width="1.0" fill="none"/>
<circle cx="561.3" cy="607.8" r="2.6" fill="#10106e"/>
<path d="M573.8 601.8V613.8M570.5 601.8h6.6M570.5 613.8h6.6" stroke="#10106e" stroke-width="1.0" fill="none"/>
<circle cx="573.8" cy="607.8" r="2.6" fill="#10106e"/>
<path d="M541.7 613.2V621.2M538.4 613.2h6.6M538.4 621.2h6.6" stroke="#10106e" stroke-width="1.0" fill="none"/>
<circle cx="541.7" cy="617.2" r="2.6" fill="#10106e"/>
<path d="M548.8 610.0V618.0M545.5 610.0h6.6M545.5 618.0h6.6" stroke="#10106e" stroke-width="1.0" fill="none"/>
<circle cx="548.8" cy="614.0" r="2.6" fill="#10106e"/>
<path d="M532.5 616.5V626.5M529.2 616.5h6.6M529.2 626.5h6.6" stroke="#10106e" stroke-width="1.0" fill="none"/>
<circle cx="532.5" cy="621.5" r="2.6" fill="#10106e"/>
<path d="M535.9 621.1V633.1M532.6 621.1h6.6M532.6 633.1h6.6" stroke="#10106e" stroke-width="1.0" fill="none"/>
<circle cx="535.9" cy="627.1" r="2.6" fill="#10106e"/>
<path d="M535.9 626.6V638.6M532.6 626.6h6.6M532.6 638.6h6.6" stroke="#10106e" stroke-width="1.0" fill="none"/>
<circle cx="535.9" cy="632.6" r="2.6" fill="#10106e"/>
<path d="M539.4 622.5V632.5M536.1 622.5h6.6M536.1 632.5h6.6" stroke="#10106e" stroke-width="1.0" fill="none"/>
<circle cx="539.4" cy="627.5" r="2.6" fill="#10106e"/>
<path d="M541.9 612.9V624.9M538.6 612.9h6.6M538.6 624.9h6.6" stroke="#10106e" stroke-width="1.0" fill="none"/>
<circle cx="541.9" cy="618.9" r="2.6" fill="#10106e"/>
<path d="M541.9 618.3V626.3M538.6 618.3h6.6M538.6 626.3h6.6" stroke="#10106e" stroke-width="1.0" fill="none"/>
<circle cx="541.9" cy="622.3" r="2.6" fill="#10106e"/>
<path d="M548.8 608.6V620.6M545.5 608.6h6.6M545.5 620.6h6.6" stroke="#10106e" stroke-width="1.0" fill="none"/>
<circle cx="548.8" cy="614.6" r="2.6" fill="#10106e"/>
<path d="M548.8 618.2V628.2M545.5 618.2h6.6M545.5 628.2h6.6" stroke="#10106e" stroke-width="1.0" fill="none"/>
<circle cx="548.8" cy="623.2" r="2.6" fill="#10106e"/>
<path d="M551.4 601.2V609.2M548.1 601.2h6.6M548.1 609.2h6.6" stroke="#10106e" stroke-width="1.0" fill="none"/>
<circle cx="551.4" cy="605.2" r="2.6" fill="#10106e"/>
<path d="M554.8 619.9V629.9M551.5 619.9h6.6M551.5 629.9h6.6" stroke="#10106e" stroke-width="1.0" fill="none"/>
<circle cx="554.8" cy="624.9" r="2.6" fill="#10106e"/>
<path d="M560.8 604.6V612.6M557.5 604.6h6.6M557.5 612.6h6.6" stroke="#10106e" stroke-width="1.0" fill="none"/>
<circle cx="560.8" cy="608.6" r="2.6" fill="#10106e"/>
</g>
<rect x="333.50" y="498.30" width="259.20" height="231.70" fill="none" stroke="#222" stroke-width="1.3"/>
<line x1="339.82" y1="730.00" x2="339.82" y2="725.50" stroke="#222" stroke-width="1.1"/>
<line x1="339.82" y1="498.30" x2="339.82" y2="502.80" stroke="#222" stroke-width="1.1"/>
<line x1="352.47" y1="730.00" x2="352.47" y2="727.50" stroke="#222" stroke-width="1.1"/>
<line x1="352.47" y1="498.30" x2="352.47" y2="500.80" stroke="#222" stroke-width="1.1"/>
<line x1="365.11" y1="730.00" x2="365.11" y2="727.50" stroke="#222" stroke-width="1.1"/>
<line x1="365.11" y1="498.30" x2="365.11" y2="500.80" stroke="#222" stroke-width="1.1"/>
<line x1="377.75" y1="730.00" x2="377.75" y2="727.50" stroke="#222" stroke-width="1.1"/>
<line x1="377.75" y1="498.30" x2="377.75" y2="500.80" stroke="#222" stroke-width="1.1"/>
<line x1="390.40" y1="730.00" x2="390.40" y2="727.50" stroke="#222" stroke-width="1.1"/>
<line x1="390.40" y1="498.30" x2="390.40" y2="500.80" stroke="#222" stroke-width="1.1"/>
<line x1="403.04" y1="730.00" x2="403.04" y2="725.50" stroke="#222" stroke-width="1.1"/>
<line x1="403.04" y1="498.30" x2="403.04" y2="502.80" stroke="#222" stroke-width="1.1"/>
<line x1="415.69" y1="730.00" x2="415.69" y2="727.50" stroke="#222" stroke-width="1.1"/>
<line x1="415.69" y1="498.30" x2="415.69" y2="500.80" stroke="#222" stroke-width="1.1"/>
<line x1="428.33" y1="730.00" x2="428.33" y2="727.50" stroke="#222" stroke-width="1.1"/>
<line x1="428.33" y1="498.30" x2="428.33" y2="500.80" stroke="#222" stroke-width="1.1"/>
<line x1="440.97" y1="730.00" x2="440.97" y2="727.50" stroke="#222" stroke-width="1.1"/>
<line x1="440.97" y1="498.30" x2="440.97" y2="500.80" stroke="#222" stroke-width="1.1"/>
<line x1="453.62" y1="730.00" x2="453.62" y2="727.50" stroke="#222" stroke-width="1.1"/>
<line x1="453.62" y1="498.30" x2="453.62" y2="500.80" stroke="#222" stroke-width="1.1"/>
<line x1="466.26" y1="730.00" x2="466.26" y2="725.50" stroke="#222" stroke-width="1.1"/>
<line x1="466.26" y1="498.30" x2="466.26" y2="502.80" stroke="#222" stroke-width="1.1"/>
<line x1="478.90" y1="730.00" x2="478.90" y2="727.50" stroke="#222" stroke-width="1.1"/>
<line x1="478.90" y1="498.30" x2="478.90" y2="500.80" stroke="#222" stroke-width="1.1"/>
<line x1="491.55" y1="730.00" x2="491.55" y2="727.50" stroke="#222" stroke-width="1.1"/>
<line x1="491.55" y1="498.30" x2="491.55" y2="500.80" stroke="#222" stroke-width="1.1"/>
<line x1="504.19" y1="730.00" x2="504.19" y2="727.50" stroke="#222" stroke-width="1.1"/>
<line x1="504.19" y1="498.30" x2="504.19" y2="500.80" stroke="#222" stroke-width="1.1"/>
<line x1="516.84" y1="730.00" x2="516.84" y2="727.50" stroke="#222" stroke-width="1.1"/>
<line x1="516.84" y1="498.30" x2="516.84" y2="500.80" stroke="#222" stroke-width="1.1"/>
<line x1="529.48" y1="730.00" x2="529.48" y2="725.50" stroke="#222" stroke-width="1.1"/>
<line x1="529.48" y1="498.30" x2="529.48" y2="502.80" stroke="#222" stroke-width="1.1"/>
<line x1="542.12" y1="730.00" x2="542.12" y2="727.50" stroke="#222" stroke-width="1.1"/>
<line x1="542.12" y1="498.30" x2="542.12" y2="500.80" stroke="#222" stroke-width="1.1"/>
<line x1="554.77" y1="730.00" x2="554.77" y2="727.50" stroke="#222" stroke-width="1.1"/>
<line x1="554.77" y1="498.30" x2="554.77" y2="500.80" stroke="#222" stroke-width="1.1"/>
<line x1="567.41" y1="730.00" x2="567.41" y2="727.50" stroke="#222" stroke-width="1.1"/>
<line x1="567.41" y1="498.30" x2="567.41" y2="500.80" stroke="#222" stroke-width="1.1"/>
<line x1="580.06" y1="730.00" x2="580.06" y2="727.50" stroke="#222" stroke-width="1.1"/>
<line x1="580.06" y1="498.30" x2="580.06" y2="500.80" stroke="#222" stroke-width="1.1"/>
<line x1="592.70" y1="730.00" x2="592.70" y2="725.50" stroke="#222" stroke-width="1.1"/>
<line x1="592.70" y1="498.30" x2="592.70" y2="502.80" stroke="#222" stroke-width="1.1"/>
<line x1="333.50" y1="730.00" x2="338.30" y2="730.00" stroke="#222" stroke-width="1.1"/>
<line x1="592.70" y1="730.00" x2="587.90" y2="730.00" stroke="#222" stroke-width="1.1"/>
<line x1="333.50" y1="718.41" x2="336.10" y2="718.41" stroke="#222" stroke-width="1.1"/>
<line x1="592.70" y1="718.41" x2="590.10" y2="718.41" stroke="#222" stroke-width="1.1"/>
<line x1="333.50" y1="706.83" x2="336.10" y2="706.83" stroke="#222" stroke-width="1.1"/>
<line x1="592.70" y1="706.83" x2="590.10" y2="706.83" stroke="#222" stroke-width="1.1"/>
<line x1="333.50" y1="695.25" x2="336.10" y2="695.25" stroke="#222" stroke-width="1.1"/>
<line x1="592.70" y1="695.25" x2="590.10" y2="695.25" stroke="#222" stroke-width="1.1"/>
<line x1="333.50" y1="683.66" x2="336.10" y2="683.66" stroke="#222" stroke-width="1.1"/>
<line x1="592.70" y1="683.66" x2="590.10" y2="683.66" stroke="#222" stroke-width="1.1"/>
<line x1="333.50" y1="672.08" x2="338.30" y2="672.08" stroke="#222" stroke-width="1.1"/>
<line x1="592.70" y1="672.08" x2="587.90" y2="672.08" stroke="#222" stroke-width="1.1"/>
<line x1="333.50" y1="660.49" x2="336.10" y2="660.49" stroke="#222" stroke-width="1.1"/>
<line x1="592.70" y1="660.49" x2="590.10" y2="660.49" stroke="#222" stroke-width="1.1"/>
<line x1="333.50" y1="648.90" x2="336.10" y2="648.90" stroke="#222" stroke-width="1.1"/>
<line x1="592.70" y1="648.90" x2="590.10" y2="648.90" stroke="#222" stroke-width="1.1"/>
<line x1="333.50" y1="637.32" x2="336.10" y2="637.32" stroke="#222" stroke-width="1.1"/>
<line x1="592.70" y1="637.32" x2="590.10" y2="637.32" stroke="#222" stroke-width="1.1"/>
<line x1="333.50" y1="625.74" x2="336.10" y2="625.74" stroke="#222" stroke-width="1.1"/>
<line x1="592.70" y1="625.74" x2="590.10" y2="625.74" stroke="#222" stroke-width="1.1"/>
<line x1="333.50" y1="614.15" x2="338.30" y2="614.15" stroke="#222" stroke-width="1.1"/>
<line x1="592.70" y1="614.15" x2="587.90" y2="614.15" stroke="#222" stroke-width="1.1"/>
<line x1="333.50" y1="602.57" x2="336.10" y2="602.57" stroke="#222" stroke-width="1.1"/>
<line x1="592.70" y1="602.57" x2="590.10" y2="602.57" stroke="#222" stroke-width="1.1"/>
<line x1="333.50" y1="590.98" x2="336.10" y2="590.98" stroke="#222" stroke-width="1.1"/>
<line x1="592.70" y1="590.98" x2="590.10" y2="590.98" stroke="#222" stroke-width="1.1"/>
<line x1="333.50" y1="579.39" x2="336.10" y2="579.39" stroke="#222" stroke-width="1.1"/>
<line x1="592.70" y1="579.39" x2="590.10" y2="579.39" stroke="#222" stroke-width="1.1"/>
<line x1="333.50" y1="567.81" x2="336.10" y2="567.81" stroke="#222" stroke-width="1.1"/>
<line x1="592.70" y1="567.81" x2="590.10" y2="567.81" stroke="#222" stroke-width="1.1"/>
<line x1="333.50" y1="556.23" x2="338.30" y2="556.23" stroke="#222" stroke-width="1.1"/>
<line x1="592.70" y1="556.23" x2="587.90" y2="556.23" stroke="#222" stroke-width="1.1"/>
<line x1="333.50" y1="544.64" x2="336.10" y2="544.64" stroke="#222" stroke-width="1.1"/>
<line x1="592.70" y1="544.64" x2="590.10" y2="544.64" stroke="#222" stroke-width="1.1"/>
<line x1="333.50" y1="533.05" x2="336.10" y2="533.05" stroke="#222" stroke-width="1.1"/>
<line x1="592.70" y1="533.05" x2="590.10" y2="533.05" stroke="#222" stroke-width="1.1"/>
<line x1="333.50" y1="521.47" x2="336.10" y2="521.47" stroke="#222" stroke-width="1.1"/>
<line x1="592.70" y1="521.47" x2="590.10" y2="521.47" stroke="#222" stroke-width="1.1"/>
<line x1="333.50" y1="509.88" x2="336.10" y2="509.88" stroke="#222" stroke-width="1.1"/>
<line x1="592.70" y1="509.88" x2="590.10" y2="509.88" stroke="#222" stroke-width="1.1"/>
<line x1="333.50" y1="498.30" x2="338.30" y2="498.30" stroke="#222" stroke-width="1.1"/>
<line x1="592.70" y1="498.30" x2="587.90" y2="498.30" stroke="#222" stroke-width="1.1"/>
<text x="327.00" y="728.50" text-anchor="end" font-size="12" fill="#111" >0</text>
<text x="327.00" y="676.28" text-anchor="end" font-size="12" fill="#111" >2</text>
<text x="327.00" y="618.35" text-anchor="end" font-size="12" fill="#111" >4</text>
<text x="327.00" y="560.43" text-anchor="end" font-size="12" fill="#111" >6</text>
<text x="327.00" y="506.70" text-anchor="end" font-size="12" fill="#111" >8</text>
<text x="356.00" y="520.30" text-anchor="start" font-size="12" fill="#111" >Na I (2.20 µm)</text>
<text x="41.43" y="745.80" text-anchor="middle" font-size="12" fill="#111" >F0</text>
<text x="104.70" y="745.80" text-anchor="middle" font-size="12" fill="#111" >G0</text>
<text x="167.96" y="745.80" text-anchor="middle" font-size="12" fill="#111" >K0</text>
<text x="231.23" y="745.80" text-anchor="middle" font-size="12" fill="#111" >M0</text>
<text x="294.50" y="745.80" text-anchor="middle" font-size="12" fill="#111" >L0</text>
<text x="166.30" y="766.10" text-anchor="middle" font-size="12" fill="#111" >Spectral Type</text>
<text x="340.32" y="745.80" text-anchor="middle" font-size="12" fill="#111" >F0</text>
<text x="403.54" y="745.80" text-anchor="middle" font-size="12" fill="#111" >G0</text>
<text x="466.76" y="745.80" text-anchor="middle" font-size="12" fill="#111" >K0</text>
<text x="529.98" y="745.80" text-anchor="middle" font-size="12" fill="#111" >M0</text>
<text x="593.20" y="745.80" text-anchor="middle" font-size="12" fill="#111" >L0</text>
<text x="465.10" y="766.10" text-anchor="middle" font-size="12" fill="#111" >Spectral Type</text>
<text x="355.80" y="63.30" text-anchor="start" font-size="12" fill="#8e2a20" >Dwarfs</text>
<text x="355.80" y="87.50" text-anchor="start" font-size="12" fill="#2a6a2a" >Giants</text>
<text x="355.80" y="111.70" text-anchor="start" font-size="12" fill="#1e1e80" >Super Giants</text></svg></body></html>
